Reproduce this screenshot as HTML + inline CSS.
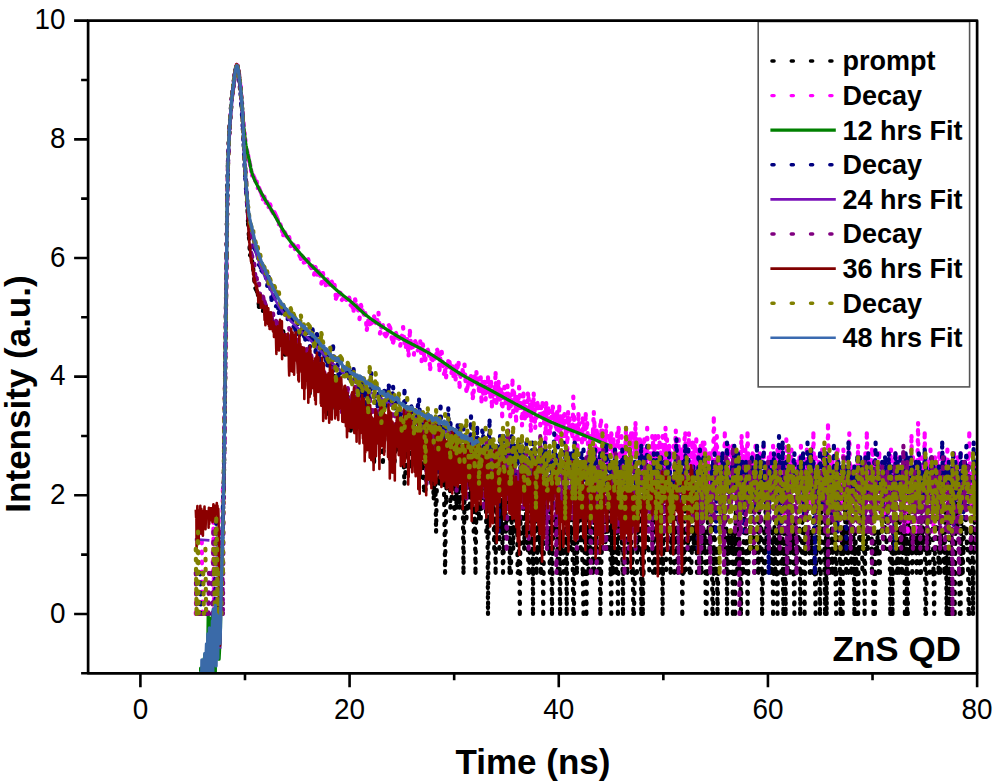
<!DOCTYPE html>
<html><head><meta charset="utf-8"><style>html,body{margin:0;padding:0;background:#fff;}svg{display:block;}</style></head>
<body><svg width="995" height="784" viewBox="0 0 995 784"><defs><clipPath id="pc"><rect x="88.11" y="20.67" width="889.01" height="652.63"/></clipPath></defs><g clip-path="url(#pc)"><path d="M202.4,614M207.5,614M211.2,614M214.1,614M216.3,614l0.8,0m0,0M218.5,614l0.8,0m0,0l0.7,-41.2m0,0l0.7,0m0,0l0.8,-24m0,0l0.7,65.2m0,0l0.7,-95.5m0,0l0.8,-27.9m0,0l0.7,-41.1m0,0l0.7,-75.4m0,0l0.8,-58.2m0,0l0.7,-61.1m0,0l0.7,-58.6m0,0l0.7,-32.4m0,0l0.8,-20.4m0,0l0.7,-15.9m0,0l0.7,-8.7m0,0l0.8,-10.9m0,0l0.7,-8.5m0,0l0.7,-6.1m0,0l0.8,-6.2m0,0l0.7,-6.1m0,0l0.7,-5.7m0,0l0.8,-4.4m0,0l0.7,-2.7m0,0l0.7,-2.5m0,0l0.8,0.1m0,0l0.7,4.4m0,0l0.7,6m0,0l0.8,4.8m0,0l0.7,6.5m0,0l0.7,8.9m0,0l0.8,11.6m0,0l0.8,12m0,0l0.8,16.2m0,0l0.9,22.3m0,0l0.8,12.4m0,0l0.9,12.9m0,0l0.9,16.4m0,0l1,23.3m0,0l0.9,13.7m0,0l1,18m0,0l1.1,-0m0,0l1,5.9m0,0l1.1,7.7m0,0l1.1,11.1m0,0l1.1,8.4m0,0l1.2,2.3m0,0l1.2,2.8m0,0l1.2,13.5m0,0l1.3,-1m0,0l1.3,-2.3m0,0l1.4,7.4m0,0l1.3,-7.1m0,0l1.5,10.8m0,0l1.4,3.2m0,0l1.5,0.4m0,0l1.5,0m0,0l1.4,0.8m0,0l1.5,8.4m0,0l1.4,-5m0,0l1.5,6m0,0l1.5,7.7m0,0l1.4,-2.7m0,0l1.5,4.4m0,0l1.5,7.2m0,0l1.4,-13.7m0,0l1.5,23.3m0,0l1.5,-14.5m0,0l1.4,7.5m0,0l1.5,5.5m0,0l1.5,-15.9m0,0l1.4,13.8m0,0l1.5,9.1m0,0l1.4,-11.9m0,0l1.5,-0.6m0,0l1.5,7.8m0,0l1.4,0m0,0l1.5,9.9m0,0l1.5,-9.9m0,0l1.4,6.4m0,0l1.5,2.6m0,0l1.5,-0.9m0,0l1.4,13.7m0,0l1.5,16.3m0,0l1.5,-30m0,0l1.4,-1.7m0,0l1.5,15.4m0,0l1.4,3.4m0,0l1.5,2.4m0,0l1.5,-4.7m0,0l1.4,-4.3m0,0l1.5,5.4m0,0l1.5,-11.3m0,0l1.4,24m0,0l1.5,-14.9m0,0l1.5,12.2m0,0l1.4,24.7m0,0l1.5,-29.9m0,0l1.5,24m0,0l1.4,-18.8m0,0l1.5,-13.3m0,0l1.4,30.3m0,0l1.5,-21m0,0l1.5,4m0,0l1.4,10.2m0,0l1.5,3.3m0,0l1.5,-6.4m0,0l1.4,11.7m0,0l1.5,-16.1m0,0l1.5,4.4m0,0l1.4,3.1m0,0l1.5,30.9m0,0l1.5,-14.3m0,0l1.4,-6.1m0,0l1.5,4m0,0l1.4,8.8m0,0l1.5,-34.9m0,0l1.5,24.1m0,0l1.4,4.1m0,0l1.5,9.1m0,0l1.5,-15.2m0,0l1.4,6.1m0,0l1.5,11.6m0,0l1.5,-23.1m0,0l1.4,7.4m0,0l1.5,6.2m0,0l1.5,9.5m0,0l1.4,33.9m0,0l1.5,-41.1m0,0l1.4,21.8m0,0l1.5,-17.1m0,0l1.5,10.8m0,0l1.4,-5.6m0,0l1.5,31.2m0,0l1.5,-25.6m0,0l1.4,-15.5m0,0l1.5,-2.3m0,0l1.5,20.9m0,0l1.4,-16.3m0,0l1.5,26.5m0,0l1.4,22.2m0,0l1.5,-9.9m0,0l1.4,-28.5m0,0l1.5,16.2m0,0l1.4,-21.6m0,0l1.4,14.6m0,0l1.4,7m0,0l1.4,-3.6m0,0l1.4,37.7m0,0l1.4,-17.1m0,0l1.3,-13.2m0,0l1.4,-10.8m0,0l1.3,19.3m0,0l1.4,4.7m0,0l1.3,-4.7m0,0l1.3,-25.6m0,0l1.3,9.7m0,0l1.3,11.5m0,0l1.3,-24.1m0,0l1.3,28.5m0,0l1.2,15.6m0,0l1.3,-24.1m0,0l1.3,13.2m0,0l1.2,24.1m0,0l1.2,0m0,0l1.3,-13.2m0,0l1.2,-15.6m0,0l1.2,-4.4m0,0l1.2,14.3m0,0l1.2,11.9m0,0l1.2,-11.9m0,0l1.1,26.8m0,0l1.2,-45.2m0,0l1.2,78.4m0,0l1.1,-69.9m0,0l1.2,-4.4m0,0l1.1,26.2m0,0l1.1,-11.9m0,0l1.1,11.9m0,0l1.2,-11.9m0,0l1.1,11.9m0,0l1.1,89.2m0,0l1,-74.3m0,0l1.1,-32m0,0l1.1,10.9m0,0l1.1,-27.9m0,0l1,58.2m0,0l1.1,-9.2m0,0l1,-14.9m0,0l1.1,-6.2m0,0l1,41.1m0,0l1,-46.8m0,0l1,36m0,0l1,-30.3m0,0l1,13.2m0,0l1,17.1m0,0l1,-9.2m0,0l1,-52.6m0,0l1,31.5m0,0l0.9,95.4m0,0l1,-74.3m0,0l0.9,-21.1m0,0l1,41.1m0,0l0.9,-10.8m0,0l1,-50.3m0,0l0.9,26.2m0,0l0.9,24.1m0,0l0.9,-17.1m0,0l0.9,-33.2m0,0l0.9,33.2m0,0l0.9,41.1m0,0l0.9,-33.2m0,0l0.9,74.3m0,0l0.9,-65.1m0,0l0.8,-24.1m0,0l0.9,0m0,0l0.9,34.9m0,0l0.8,-10.8m0,0l0.9,10.8m0,0l0.8,-10.8m0,0l0.8,0m0,0l0.9,-9.2m0,0l0.8,-14.9m0,0l0.8,14.9m0,0l0.8,-7.9m0,0l0.8,41.1m0,0l0.8,-65.2m0,0l0.8,147.5m0,0l0.8,-95.5m0,0l0.8,-27.9m0,0l0.8,-7m0,0l0.7,34.9m0,0l0.8,-34.9m0,0l0.8,24.1m0,0l0.7,-9.2m0,0l0.8,50.3m0,0l0.7,-30.3m0,0l0.7,54.3m0,0l0.8,-82.2m0,0l0.7,7.9m0,0l0.7,20m0,0l0.8,-10.8m0,0l0.7,41.1m0,0l0.7,-41.1m0,0l0.8,24m0,0l0.7,-48.1m0,0l0.7,48.1m0,0l0.8,41.1m0,0l0.7,-24m0,0l0.7,-41.1m0,0l0.8,-24.1m0,0l0.7,48.1m0,0l0.7,-13.2m0,0l0.8,-27.9m0,0l0.7,17.1m0,0l0.7,0m0,0l0.8,65.1m0,0l0.7,-41.1m0,0l0.7,41.1m0,0l0.8,-65.1m0,0l0.7,24m0,0l0.7,17.1m0,0l0.8,-50.3m0,0l0.7,0m0,0l0.7,20m0,0l0.7,13.2m0,0l0.8,-48.1m0,0l0.7,89.2m0,0l0.7,0m0,0l0.8,-41.1m0,0l0.7,82.3m0,0l0.7,-95.5m0,0l0.8,0m0,0l0.7,-20m0,0l0.7,-21.1m0,0l0.8,54.3m0,0l0.7,17.1m0,0l0.7,-41.1m0,0l0.8,-24.1m0,0l0.7,48.1m0,0l0.7,0m0,0l0.8,17.1m0,0l0.7,24m0,0l0.7,0m0,0l0.8,-41.1m0,0l0.7,-33.2m0,0l0.7,9.2m0,0l0.8,10.8m0,0l0.7,95.5m0,0l0.7,-142.3m0,0l0.8,46.8m0,0l0.7,13.2m0,0l0.7,-13.2m0,0l0.7,54.3m0,0l0.8,-24m0,0l0.7,-50.3m0,0l0.7,50.3m0,0l0.8,-17.1m0,0l0.7,17.1m0,0l0.7,24m0,0l0.8,-24m0,0l0.7,-17.1m0,0l0.7,82.3m0,0l0.8,-82.3m0,0l0.7,-13.2m0,0l0.7,-10.8m0,0l0.8,-9.2m0,0l0.7,33.2m0,0l0.7,-33.2m0,0l0.8,50.3m0,0l0.7,-17.1m0,0l0.7,41.1m0,0l0.8,-65.1m0,0l0.7,41.1m0,0l0.7,65.2m0,0l0.8,-65.2m0,0l0.7,-30.3m0,0l0.7,0m0,0l0.8,13.2m0,0l0.7,-13.2m0,0l0.7,-10.8m0,0l0.7,10.8m0,0l0.8,54.3m0,0l0.7,-74.3m0,0l0.7,50.3m0,0l0.8,65.2m0,0l0.7,-82.3m0,0l0.7,17.1m0,0l0.8,-17.1m0,0l0.7,0m0,0l0.7,41.1m0,0l0.8,-54.3m0,0l0.7,-27.9m0,0l0.7,27.9m0,0l0.8,95.5m0,0l0.7,-95.5m0,0l0.7,30.3m0,0l0.8,0m0,0l0.7,-30.3m0,0l0.7,30.3m0,0l0.8,-30.3m0,0l0.7,13.2m0,0l0.7,17.1m0,0l0.8,65.2m0,0l0.7,0m0,0l0.7,-115.5m0,0l0.7,33.2m0,0l0.8,-24m0,0l0.7,65.1m0,0l0.7,-54.3m0,0l0.8,13.2m0,0l0.7,-33.2m0,0l0.7,20m0,0l0.8,30.3m0,0l0.7,-30.3m0,0l0.7,30.3m0,0l0.8,24m0,0l0.7,41.2m0,0l0.7,-41.2m0,0l0.8,-41.1m0,0l0.7,0m0,0l0.7,82.3m0,0l0.8,-65.2m0,0l0.7,-30.3m0,0l0.7,54.3m0,0l0.8,-54.3m0,0l0.7,30.3m0,0l0.7,-50.3m0,0l0.8,0m0,0l0.7,20m0,0l0.7,54.3m0,0l0.8,-54.3m0,0l0.7,54.3m0,0M595.9,548.8l0.8,-17.1m0,0l0.7,0m0,0l0.7,17.1m0,0l0.8,24m0,0l0.7,-24m0,0l0.7,65.2m0,0l0.8,-41.2m0,0l0.7,-24m0,0l0.7,-30.3m0,0l0.8,-10.8m0,0l0.7,24m0,0l0.7,-41.1m0,0l0.8,58.2m0,0l0.7,-0m0,0l0.7,-0m0,0l0.8,-17.1m0,0l0.7,-24m0,0l0.7,41.1m0,0l0.8,-30.3m0,0l0.7,54.3m0,0l0.7,41.2m0,0l0.8,-106.3m0,0l0.7,65.1m0,0l0.7,-0m0,0l0.8,-74.3m0,0l0.7,20m0,0l0.7,30.3m0,0l0.7,24m0,0l0.8,-41.1m0,0l0.7,82.3m0,0l0.7,-65.2m0,0l0.8,-30.3m0,0l0.7,13.2m0,0l0.7,0m0,0l0.8,0m0,0l0.7,17.1m0,0l0.7,65.2m0,0l0.8,-123.4m0,0l0.7,41.1m0,0M626,518.5l0.7,30.3m0,0l0.7,24m0,0l0.8,-41.1m0,0l0.7,0m0,0l0.7,-13.2m0,0l0.8,-41.1m0,0l0.7,54.3m0,0l0.7,41.1m0,0l0.8,-24m0,0l0.7,65.2m0,0l0.7,0m0,0l0.8,-41.2m0,0l0.7,0m0,0M636.9,572.8l0.8,-54.3m0,0l0.7,30.3m0,0l0.7,-17.1m0,0l0.8,-33.2m0,0l0.7,20m0,0l0.7,95.5m0,0l0.8,-65.2m0,0l0.7,65.2m0,0l0.7,-41.2m0,0l0.8,-24m0,0l0.7,-30.3m0,0l0.7,13.2m0,0l0.8,-24m0,0l0.7,41.1m0,0l0.7,-30.3m0,0l0.8,30.3m0,0l0.7,24m0,0M650.9,518.5l0.7,0m0,0l0.7,13.2m0,0l0.8,41.1m0,0l0.7,-74.3m0,0l0.7,50.3m0,0l0.8,24m0,0l0.7,-24m0,0l0.7,-0m0,0l0.7,-17.1m0,0l0.8,17.1m0,0l0.7,24m0,0l0.7,-0m0,0l0.8,-24m0,0l0.7,-41.1m0,0l0.7,10.8m0,0l0.8,95.5m0,0l0.7,-82.3m0,0l0.7,-33.2m0,0l0.8,20m0,0l0.7,-20m0,0l0.7,74.3m0,0M667.7,548.8l0.7,-30.3m0,0l0.8,30.3m0,0l0.7,0m0,0l0.7,24m0,0l0.8,-41.1m0,0l0.7,17.1m0,0l0.7,-30.3m0,0l0.8,13.2m0,0l0.7,41.1m0,0l0.7,-41.1m0,0M676.5,507.7l0.7,41.1m0,0l0.7,24m0,0l0.8,-54.3m0,0l0.7,-10.8m0,0l0.7,41.1m0,0l0.8,-30.3m0,0l0.7,13.2m0,0l0.7,82.3m0,0l0.8,-65.2m0,0l0.7,24m0,0l0.7,-41.1m0,0l0.8,-33.2m0,0l0.7,74.3m0,0M687.5,531.7l0.7,17.1m0,0l0.7,-30.3m0,0l0.8,54.3m0,0l0.7,-0m0,0l0.7,-0m0,0l0.8,-24m0,0l0.7,-50.3m0,0l0.7,33.2m0,0l0.8,17.1m0,0l0.7,-0m0,0l0.7,-30.3m0,0l0.8,13.2m0,0l0.7,41.1m0,0M698.4,572.8l0.8,-54.3m0,0l0.7,30.3m0,0l0.7,-41.1m0,0l0.8,65.1m0,0l0.7,-54.3m0,0l0.7,0m0,0l0.8,13.2m0,0l0.7,17.1m0,0l0.7,-17.1m0,0l0.8,82.3m0,0l0.7,0m0,0l0.7,-41.2m0,0l0.8,-65.1m0,0l0.7,24m0,0l0.7,17.1m0,0l0.8,-30.3m0,0l0.7,30.3m0,0l0.7,-50.3m0,0l0.8,115.5m0,0l0.7,0m0,0l0.7,-65.2m0,0l0.8,-30.3m0,0l0.7,54.3m0,0l0.7,0m0,0l0.8,-24m0,0l0.7,65.2m0,0l0.7,-41.2m0,0l0.7,-24m0,0l0.8,0m0,0l0.7,-50.3m0,0l0.7,33.2m0,0l0.8,-24m0,0l0.7,10.8m0,0l0.7,0m0,0l0.8,30.3m0,0l0.7,-17.1m0,0l0.7,-24m0,0l0.8,10.8m0,0l0.7,95.5m0,0l0.7,-65.2m0,0l0.8,-17.1m0,0l0.7,41.1m0,0M730.7,531.7l0.7,17.1m0,0l0.7,-17.1m0,0l0.8,82.3m0,0l0.7,-65.2m0,0l0.7,-17.1m0,0l0.8,82.3m0,0l0.7,-106.3m0,0l0.7,-9.2m0,0l0.8,74.3m0,0l0.7,-41.1m0,0l0.7,-33.2m0,0l0.7,74.3m0,0l0.8,-24m0,0l0.7,65.2m0,0l0.7,-41.2m0,0l0.8,-24m0,0l0.7,24m0,0l0.7,-41.1m0,0l0.8,-13.2m0,0l0.7,13.2m0,0l0.7,41.1m0,0l0.8,-41.1m0,0l0.7,82.3m0,0l0.7,-41.2m0,0l0.8,-24m0,0l0.7,0m0,0l0.7,-30.3m0,0l0.8,13.2m0,0l0.7,-24m0,0l0.7,41.1m0,0l0.8,-17.1m0,0M754.8,572.8l0.8,-24m0,0l0.7,0m0,0l0.7,-17.1m0,0l0.8,-13.2m0,0l0.7,54.3m0,0l0.7,-65.1m0,0l0.7,41.1m0,0l0.8,-30.3m0,0l0.7,0m0,0l0.7,95.5m0,0l0.8,-41.2m0,0l0.7,0m0,0l0.7,-41.1m0,0l0.8,41.1m0,0l0.7,-95.4m0,0l0.7,71.4m0,0l0.8,-17.1m0,0l0.7,-33.2m0,0l0.7,50.3m0,0l0.8,-30.3m0,0l0.7,54.3m0,0l0.7,-24m0,0l0.8,24m0,0l0.7,-41.1m0,0l0.7,82.3m0,0l0.8,-65.2m0,0l0.7,-30.3m0,0l0.7,54.3m0,0l0.8,-41.1m0,0l0.7,41.1m0,0l0.7,41.2m0,0l0.7,-115.5m0,0l0.8,50.3m0,0l0.7,-30.3m0,0l0.7,13.2m0,0l0.8,41.1m0,0l0.7,-74.3m0,0l0.7,50.3m0,0l0.8,65.2m0,0l0.7,-82.3m0,0l0.7,17.1m0,0l0.8,65.2m0,0l0.7,-82.3m0,0l0.7,-24m0,0l0.8,65.1m0,0l0.7,-54.3m0,0M790,572.8l0.7,-82.2m0,0l0.7,41.1m0,0l0.8,17.1m0,0l0.7,-17.1m0,0l0.7,41.1m0,0l0.8,41.2m0,0l0.7,-95.5m0,0l0.7,0m0,0l0.8,54.3m0,0l0.7,-24m0,0l0.7,0m0,0l0.7,-17.1m0,0l0.8,-13.2m0,0l0.7,95.5m0,0l0.7,-41.2m0,0l0.8,0m0,0l0.7,-54.3m0,0l0.7,-20m0,0l0.8,33.2m0,0l0.7,82.3m0,0l0.7,-65.2m0,0l0.8,-58.2m0,0l0.7,27.9m0,0l0.7,-10.8m0,0l0.8,41.1m0,0l0.7,-17.1m0,0l0.7,41.1m0,0l0.8,0m0,0l0.7,-24m0,0l0.7,-17.1m0,0l0.8,41.1m0,0l0.7,-74.3m0,0l0.7,50.3m0,0l0.8,24m0,0l0.7,41.2m0,0l0.7,-65.2m0,0l0.8,-30.3m0,0l0.7,13.2m0,0l0.7,-13.2m0,0l0.7,30.3m0,0l0.8,65.2m0,0l0.7,-41.2m0,0l0.7,-74.3m0,0l0.8,33.2m0,0l0.7,-13.2m0,0l0.7,13.2m0,0l0.8,17.1m0,0l0.7,65.2m0,0l0.7,-106.3m0,0l0.8,106.3m0,0l0.7,-65.2m0,0l0.7,-17.1m0,0l0.8,17.1m0,0l0.7,24m0,0l0.7,0m0,0l0.8,-65.1m0,0l0.7,10.8m0,0l0.7,54.3m0,0l0.8,-41.1m0,0l0.7,-33.2m0,0l0.7,20m0,0l0.8,54.3m0,0l0.7,41.2m0,0l0.7,-65.2m0,0l0.8,-30.3m0,0l0.7,30.3m0,0M839.7,548.8l0.8,65.2m0,0l0.7,-65.2m0,0l0.7,-17.1m0,0l0.8,82.3m0,0l0.7,-82.3m0,0l0.7,17.1m0,0l0.8,-58.2m0,0l0.7,58.2m0,0l0.7,24m0,0l0.8,-54.3m0,0l0.7,13.2m0,0l0.7,41.1m0,0l0.8,-54.3m0,0l0.7,30.3m0,0l0.7,-30.3m0,0l0.8,54.3m0,0l0.7,-24m0,0l0.7,-41.1m0,0l0.8,41.1m0,0l0.7,65.2m0,0l0.7,-82.3m0,0l0.8,17.1m0,0l0.7,24m0,0l0.7,41.2m0,0l0.8,-0m0,0l0.7,-65.2m0,0l0.7,-17.1m0,0l0.7,-13.2m0,0l0.8,30.3m0,0l0.7,-41.1m0,0l0.7,65.1m0,0M863.9,490.6l0.7,123.4m0,0l0.8,-82.3m0,0l0.7,17.1m0,0l0.7,-0m0,0l0.8,-0m0,0l0.7,-17.1m0,0l0.7,-13.2m0,0l0.8,13.2m0,0l0.7,-13.2m0,0l0.7,-20m0,0l0.8,74.3m0,0l0.7,-41.1m0,0l0.7,82.3m0,0l0.8,-82.3m0,0l0.7,82.3m0,0l0.7,-65.2m0,0l0.8,0m0,0l0.7,0m0,0l0.7,-17.1m0,0l0.8,41.1m0,0l0.7,-41.1m0,0l0.7,41.1m0,0M881.5,531.7l0.7,-24m0,0l0.7,-0m0,0l0.8,41.1m0,0l0.7,-0m0,0l0.7,-30.3m0,0l0.8,-27.9m0,0l0.7,58.2m0,0l0.7,-0m0,0M888.8,531.7l0.7,-13.2m0,0l0.8,95.5m0,0l0.7,-41.2m0,0l0.7,-24m0,0l0.8,65.2m0,0l0.7,-82.3m0,0l0.7,17.1m0,0l0.8,-41.1m0,0l0.7,24m0,0l0.7,41.1m0,0l0.8,-54.3m0,0l0.7,54.3m0,0l0.7,-24m0,0l0.8,24m0,0l0.7,-54.3m0,0l0.7,-10.8m0,0l0.7,41.1m0,0l0.8,24m0,0l0.7,-41.1m0,0l0.7,17.1m0,0l0.8,-17.1m0,0l0.7,82.3m0,0l0.7,0m0,0l0.8,-95.5m0,0l0.7,95.5m0,0l0.7,0m0,0l0.8,-106.3m0,0l0.7,24m0,0l0.7,17.1m0,0l0.8,-0m0,0l0.7,-17.1m0,0l0.7,41.1m0,0l0.8,-24m0,0l0.7,-0m0,0l0.7,-41.1m0,0M915.9,531.7l0.7,41.1m0,0l0.8,-24m0,0l0.7,-30.3m0,0l0.7,13.2m0,0l0.8,41.1m0,0l0.7,-0m0,0l0.7,-0m0,0l0.7,-95.4m0,0l0.8,54.3m0,0l0.7,17.1m0,0l0.7,-17.1m0,0l0.8,-13.2m0,0l0.7,95.5m0,0l0.7,-0m0,0l0.8,-65.2m0,0l0.7,-30.3m0,0l0.7,30.3m0,0l0.8,-17.1m0,0l0.7,41.1m0,0M931.3,518.5l0.7,-20m0,0l0.7,20m0,0l0.8,54.3m0,0l0.7,41.2m0,0l0.7,-65.2m0,0l0.8,0m0,0l0.7,-50.3m0,0M937.9,507.7l0.7,65.1m0,0l0.7,-24m0,0l0.8,24m0,0l0.7,-24m0,0l0.7,-17.1m0,0l0.7,0m0,0l0.8,17.1m0,0l0.7,0m0,0l0.7,24m0,0l0.8,-65.1m0,0l0.7,0m0,0l0.7,106.3m0,0l0.8,-65.2m0,0l0.7,-17.1m0,0l0.7,-13.2m0,0l0.8,95.5m0,0l0.7,0m0,0l0.7,-65.2m0,0l0.8,-17.1m0,0l0.7,41.1m0,0l0.7,0m0,0l0.8,-41.1m0,0l0.7,82.3m0,0l0.7,-82.3m0,0l0.8,-13.2m0,0l0.7,-34.9m0,0l0.7,48.1m0,0l0.8,-13.2m0,0l0.7,54.3m0,0l0.7,41.2m0,0l0.8,0m0,0l0.7,-95.5m0,0l0.7,30.3m0,0l0.7,24m0,0l0.8,-24m0,0l0.7,-41.1m0,0l0.7,-9.2m0,0l0.8,20m0,0l0.7,13.2m0,0l0.7,17.1m0,0l0.8,0m0,0l0.7,65.2m0,0l0.7,0m0,0l0.8,-41.2m0,0l0.7,-41.1m0,0l0.7,17.1m0,0l0.8,-41.1m0,0l0.7,106.3m0,0l0.7,-41.2m0,0l0.8,-54.3m0,0l0.7,13.2m0,0l0.7,17.1m0,0" fill="none" stroke="#000000" stroke-width="4.2" stroke-dasharray="1.6 8.4" stroke-linecap="round" stroke-linejoin="round"/><path d="M195.8,614l0.8,-41.2m0,0M198.8,614M200.2,614M201.7,531.7l0.7,82.3m0,0M203.9,614M205.4,614l0.7,0m0,0M208.3,572.8M209.7,614M211.9,572.8l0.8,0m0,0l0.7,-54.3m0,0l0.7,95.5m0,0M215.6,548.8l0.7,24m0,0l0.8,0m0,0l0.7,-41.1m0,0l0.7,82.3m0,0M220.7,614M222.2,531.7l0.7,-41.1m0,0l0.8,-7m0,0l0.7,-44.3m0,0l0.7,-64.2m0,0l0.8,-60.7m0,0l0.7,-60.1m0,0l0.7,-55.3m0,0l0.7,-35.3m0,0l0.8,-18.9m0,0l0.7,-15.4m0,0l0.7,-13.2m0,0l0.8,-8.9m0,0l0.7,-7.8m0,0l0.7,-7m0,0l0.8,-5.4m0,0l0.7,-5.1m0,0l0.7,-6.5m0,0l0.8,-3.5m0,0l0.7,-4.6m0,0l0.7,-2.5m0,0l0.8,1.4m0,0l0.7,4m0,0l0.7,5.6m0,0l0.8,5.9m0,0l0.7,3.7m0,0l0.7,9.2m0,0l0.8,7.7m0,0l0.8,10.3m0,0l0.8,11.4m0,0l0.9,8.5m0,0l0.8,6.6m0,0l0.9,9.7m0,0l0.9,1.9m0,0l1,4.4m0,0l0.9,5.1m0,0l1,4m0,0l1.1,5.7m0,0l1,5.5m0,0l1.1,-0.1m0,0l1.1,2.4m0,0l1.1,3.2m0,0l1.2,0.5m0,0l1.2,6.5m0,0l1.2,-0.1m0,0l1.3,3.1m0,0l1.3,3.1m0,0l1.4,5.3m0,0l1.3,-2.8m0,0l1.5,6.3m0,0l1.4,-1m0,0l1.5,5.2m0,0l1.5,-2.7m0,0l1.4,6m0,0l1.5,2.7m0,0l1.4,-0.6m0,0l1.5,3.1m0,0l1.5,3.4m0,0l1.4,5.3m0,0l1.5,0.2m0,0l1.5,5.6m0,0l1.4,5m0,0l1.5,-2.7m0,0l1.5,3.5m0,0l1.4,1.4m0,0l1.5,-0.1m0,0l1.5,8.9m0,0l1.4,-1.9m0,0l1.5,0.8m0,0l1.4,4.1m0,0l1.5,-1m0,0l1.5,-2m0,0l1.4,9.4m0,0l1.5,3.4m0,0l1.5,-2.2m0,0l1.4,5.8m0,0l1.5,-0.5m0,0l1.5,-1.5m0,0l1.4,-1.3m0,0l1.5,6.4m0,0l1.5,2.4m0,0l1.4,-1.8m0,0l1.5,8.4m0,0l1.4,-7.5m0,0l1.5,7.5m0,0l1.5,-3.4m0,0l1.4,3m0,0l1.5,9.4m0,0l1.5,-10.6m0,0l1.4,7.5m0,0l1.5,4.7m0,0l1.5,-5.8m0,0l1.4,5.1m0,0l1.5,0.2m0,0l1.5,-3.1m0,0l1.4,3.8m0,0l1.5,-0.4m0,0l1.4,13.7m0,0l1.5,-3.4m0,0l1.5,-2.7m0,0l1.4,0.3m0,0l1.5,7m0,0l1.5,-1.7m0,0l1.4,0.2m0,0l1.5,1.5m0,0l1.5,-0.9m0,0l1.4,-1.4m0,0l1.5,7.6m0,0l1.5,1m0,0l1.4,4.5m0,0l1.5,-11.4m0,0l1.4,5.9m0,0l1.5,3.7m0,0l1.5,10.2m0,0l1.4,-14.2m0,0l1.5,5.4m0,0l1.5,4.1m0,0l1.4,-1.2m0,0l1.5,16.7m0,0l1.5,-9.5m0,0l1.4,3.9m0,0l1.5,-0.9m0,0l1.5,-1.3m0,0l1.4,-5.8m0,0l1.5,6.6m0,0l1.4,-1.3m0,0l1.5,-8.7m0,0l1.5,20.6m0,0l1.4,-6m0,0l1.5,-2.3m0,0l1.5,8.8m0,0l1.4,2.2m0,0l1.5,-2.2m0,0l1.5,-8.8m0,0l1.4,2.3m0,0l1.5,10.9m0,0l1.4,4.2m0,0l1.5,-4.7m0,0l1.4,-4.9m0,0l1.5,4.9m0,0l1.4,-0.6m0,0l1.4,8.4m0,0l1.4,-8.4m0,0l1.4,-10.3m0,0l1.4,14.9m0,0l1.4,5.1m0,0l1.3,-8m0,0l1.4,16.5m0,0l1.3,-24.6m0,0l1.4,16.8m0,0l1.3,-2m0,0l1.3,9m0,0l1.3,-13.4m0,0l1.3,3.1m0,0l1.3,6m0,0l1.3,-1.4m0,0l1.2,-7.7m0,0l1.3,19.8m0,0l1.3,-16.7m0,0l1.2,11.1m0,0l1.2,4.7m0,0l1.3,-9.1m0,0l1.2,-1.4m0,0l1.2,4.3m0,0l1.2,15.1m0,0l1.2,-10.5m0,0l1.2,1.6m0,0l1.1,-3.2m0,0l1.2,1.6m0,0l1.2,-3.1m0,0l1.1,-5.8m0,0l1.2,5m0,0l1.1,15.4m0,0l1.1,-16.1m0,0l1.1,-2.2m0,0l1.2,12.7m0,0l1.1,9.6m0,0l1.1,-4m0,0l1,7.2m0,0l1.1,-11.9m0,0l1.1,-4.3m0,0l1.1,0.8m0,0l1,4.4m0,0l1.1,6.8m0,0l1,-6.8m0,0l1.1,9.9m0,0l1,-2.1m0,0l1,5.4m0,0l1,-14.1m0,0l1,1.8m0,0l1,-4.4m0,0l1,24m0,0l1,-10.6m0,0l1,-1.1m0,0l1,-5m0,0l0.9,5m0,0l1,-10.6m0,0l0.9,15m0,0l1,11.3m0,0l0.9,-2.7m0,0l1,-3.8m0,0l0.9,-1.2m0,0l0.9,-5.8m0,0l0.9,-1.1m0,0l0.9,6.9m0,0l0.9,15.1m0,0l0.9,-6m0,0l0.9,-16m0,0l0.9,4.5m0,0l0.9,-8.7m0,0l0.8,12.3m0,0l0.9,-5.9m0,0l0.9,12.4m0,0l0.8,-2.7m0,0l0.9,-10.8m0,0l0.8,24.1m0,0l0.8,-19.5m0,0l0.9,11.7m0,0l0.8,-5.5m0,0l0.8,-6.2m0,0l0.8,17.8m0,0l0.8,-12.9m0,0l0.8,5.4m0,0l0.8,-14.9m0,0l0.8,14.9m0,0l0.8,-7.9m0,0l0.8,12.3m0,0l0.7,-14.7m0,0l0.8,24.6m0,0l0.8,-15.7m0,0l0.7,1.4m0,0l0.8,9.2m0,0l0.7,-13.3m0,0l0.7,-15m0,0l0.8,29.9m0,0l0.7,-19.9m0,0l0.7,15.1m0,0l0.8,-16.3m0,0l0.7,13.2m0,0l0.7,4.6m0,0l0.8,-10.2m0,0l0.7,4.1m0,0l0.7,22.7m0,0l0.8,-22.7m0,0l0.7,4.6m0,0l0.7,-11.4m0,0l0.8,16.2m0,0l0.7,-1.6m0,0l0.7,-6.3m0,0l0.8,-9.6m0,0l0.7,8.1m0,0l0.7,14.7m0,0l0.8,-13.2m0,0l0.7,21.2m0,0l0.7,-16.6m0,0l0.8,5.1m0,0l0.7,-24.1m0,0l0.7,31.5m0,0l0.8,-20m0,0l0.7,7.5m0,0l0.7,-3.1m0,0l0.7,24.1m0,0l0.8,-14.2m0,0l0.7,-6.8m0,0l0.7,8.6m0,0l0.8,-21.5m0,0l0.7,8.3m0,0l0.7,7.9m0,0l0.8,3.5m0,0l0.7,18.9m0,0l0.7,-18.9m0,0l0.8,-12.9m0,0l0.7,7.8m0,0l0.7,17m0,0l0.8,-11.9m0,0l0.7,9.8m0,0l0.7,-4.1m0,0l0.8,-18.6m0,0l0.7,4.6m0,0l0.7,10.1m0,0l0.8,-3.5m0,0l0.7,25.8m0,0l0.7,-12.2m0,0l0.8,-17m0,0l0.7,19.3m0,0l0.7,-27.1m0,0l0.8,16.6m0,0l0.7,17.7m0,0l0.7,-9.5m0,0l0.7,-10.1m0,0l0.8,-5.3m0,0l0.7,3.5m0,0l0.7,9.8m0,0l0.8,-2.1m0,0l0.7,11.2m0,0l0.7,-18.9m0,0l0.8,9.8m0,0l0.7,-13.3m0,0l0.7,13.3m0,0l0.8,6.7m0,0l0.7,-10.8m0,0l0.7,37.3m0,0l0.8,-46.5m0,0l0.7,20m0,0l0.7,10.3m0,0l0.8,-25m0,0l0.7,12.4m0,0l0.7,12.6m0,0l0.8,-5.4m0,0l0.7,-9.5m0,0l0.7,-6.2m0,0l0.8,-5.7m0,0l0.7,7.7m0,0l0.7,8.8m0,0l0.8,-4.6m0,0l0.7,7m0,0l0.7,13.9m0,0l0.7,-27.1m0,0l0.8,10.8m0,0l0.7,7.6m0,0l0.7,-24.1m0,0l0.8,36m0,0l0.7,-26.2m0,0l0.7,4.4m0,0l0.8,-4.4m0,0l0.7,19.9m0,0l0.7,-13.2m0,0l0.8,-8.8m0,0l0.7,6.5m0,0l0.7,15.5m0,0l0.8,-5.6m0,0l0.7,18.9m0,0l0.7,-37.3m0,0l0.8,18.4m0,0l0.7,-12.2m0,0l0.7,7m0,0l0.8,2.5m0,0l0.7,5.4m0,0l0.7,2.9m0,0l0.8,-39.6m0,0l0.7,21.8m0,0l0.7,24.1m0,0l0.7,7m0,0l0.8,-24.1m0,0l0.7,-0m0,0l0.7,24.1m0,0l0.8,-35.3m0,0l0.7,8.8m0,0l0.7,10.3m0,0l0.8,-2.7m0,0l0.7,8.7m0,0l0.7,3.2m0,0l0.8,-24.1m0,0l0.7,20.9m0,0l0.7,-13.9m0,0l0.8,13.9m0,0l0.7,-25.1m0,0l0.7,13.7m0,0l0.8,-4.9m0,0l0.7,19.5m0,0l0.7,19.3m0,0l0.8,-12.3m0,0l0.7,-10.2m0,0l0.7,-3.1m0,0l0.8,6.3m0,0l0.7,10.8m0,0l0.7,-22.7m0,0l0.8,-18.4m0,0l0.7,13.2m0,0l0.7,36.4m0,0l0.7,-12.3m0,0l0.8,-18.9m0,0l0.7,5.6m0,0l0.7,3.1m0,0l0.8,22.5m0,0l0.7,-25.6m0,0l0.7,-10.8m0,0l0.8,-4.7m0,0l0.7,36.7m0,0l0.7,-26.8m0,0l0.8,15.3m0,0l0.7,3.6m0,0l0.7,-10.2m0,0l0.8,3.2m0,0l0.7,-17.1m0,0l0.7,27.9m0,0l0.8,13.2m0,0l0.7,-30.3m0,0l0.7,13.3m0,0l0.8,-10.2m0,0l0.7,6.6m0,0l0.7,-12.6m0,0l0.8,6m0,0l0.7,14m0,0l0.7,-14m0,0l0.8,14m0,0l0.7,-7.4m0,0l0.7,15.9m0,0l0.7,4.7m0,0l0.8,-33.2m0,0l0.7,9.2m0,0l0.7,-14.6m0,0l0.8,8.3m0,0l0.7,17.1m0,0l0.7,4.1m0,0l0.8,-21.2m0,0l0.7,41.2m0,0l0.7,-27.9m0,0l0.8,12.3m0,0l0.7,-15.9m0,0l0.7,7.4m0,0l0.8,-25.4m0,0l0.7,18m0,0l0.7,-9.7m0,0l0.8,3.1m0,0l0.7,22.5m0,0l0.7,15.6m0,0l0.8,-27.9m0,0l0.7,-16.2m0,0l0.7,33.2m0,0l0.8,-33.2m0,0l0.7,9.2m0,0l0.7,10.8m0,0l0.8,-3.8m0,0l0.7,-26.5m0,0l0.7,43.5m0,0l0.7,-9.1m0,0l0.8,-18.1m0,0l0.7,14m0,0l0.7,-7.4m0,0l0.8,-6.6m0,0l0.7,22.5m0,0l0.7,-12.3m0,0l0.8,34.1m0,0l0.7,-41.1m0,0l0.7,19.3m0,0l0.8,-22.5m0,0l0.7,18.1m0,0l0.7,14.3m0,0l0.8,-22.2m0,0l0.7,-21.6m0,0l0.7,49.5m0,0l0.8,-31.5m0,0l0.7,7.4m0,0l0.7,-0m0,0l0.8,18.4m0,0l0.7,-14.3m0,0l0.7,-21.2m0,0l0.8,6.3m0,0l0.7,56m0,0l0.7,-49m0,0l0.8,-13.3m0,0l0.7,17.1m0,0l0.7,13.2m0,0l0.7,10.9m0,0l0.8,-41.2m0,0l0.7,41.2m0,0l0.7,-34.9m0,0l0.8,10.8m0,0l0.7,4.1m0,0l0.7,9.1m0,0l0.8,-30.3m0,0l0.7,21.2m0,0l0.7,-7.9m0,0l0.8,17m0,0l0.7,-38.6m0,0l0.7,21.6m0,0l0.8,-10.2m0,0l0.7,22.5m0,0l0.7,9.9m0,0l0.8,-25.8m0,0l0.7,44.7m0,0l0.7,-33.2m0,0l0.8,-4.1m0,0l0.7,4.1m0,0l0.7,-0m0,0l0.8,-11.5m0,0l0.7,20.6m0,0l0.7,-17m0,0l0.8,-18.9m0,0l0.7,46.8m0,0l0.7,-24.1m0,0l0.7,54.4m0,0l0.8,-68.4m0,0l0.7,32.4m0,0l0.7,-14.3m0,0l0.8,-4.1m0,0l0.7,-3.8m0,0l0.7,12.3m0,0l0.8,9.9m0,0l0.7,-14.3m0,0l0.7,-18.1m0,0l0.8,-6m0,0l0.7,57.3m0,0l0.7,-44.7m0,0l0.8,31.5m0,0l0.7,-5.7m0,0l0.7,-38.4m0,0l0.8,28.5m0,0l0.7,21.8m0,0l0.7,-30.3m0,0l0.8,4.1m0,0l0.7,-14.9m0,0l0.7,24m0,0l0.8,-4.7m0,0l0.7,-15.9m0,0l0.7,25.8m0,0l0.8,-32.4m0,0l0.7,18.1m0,0l0.7,4.4m0,0l0.7,21.8m0,0l0.8,-30.3m0,0l0.7,65.2m0,0l0.7,-72.6m0,0l0.8,15.9m0,0l0.7,4.7m0,0l0.7,-24m0,0l0.8,48.1m0,0l0.7,-48.1m0,0l0.7,7m0,0l0.8,3.8m0,0l0.7,24.1m0,0l0.7,-5.7m0,0l0.8,-9.9m0,0l0.7,45.9m0,0l0.7,-54.4m0,0l0.8,-0m0,0l0.7,4.1m0,0l0.7,26.2m0,0l0.8,-17.1m0,0l0.7,-4.7m0,0l0.7,-43.4m0,0l0.8,31.1m0,0l0.7,22.2m0,0l0.7,-25.8m0,0l0.8,-9.7m0,0l0.7,35.5m0,0l0.7,-0m0,0l0.7,-18.4m0,0l0.8,13.2m0,0l0.7,-9.1m0,0l0.7,26.2m0,0l0.8,-21.8m0,0l0.7,36.7m0,0l0.7,-26.8m0,0l0.8,-5.2m0,0l0.7,-33.2m0,0l0.7,24.1m0,0l0.8,26.2m0,0l0.7,-21.8m0,0l0.7,9.9m0,0l0.8,-25.8m0,0l0.7,7.4m0,0l0.7,37.3m0,0l0.8,-24.1m0,0l0.7,10.9m0,0l0.7,-24.1m0,0l0.8,-7.4m0,0l0.7,15.9m0,0l0.7,28.8m0,0l0.8,-18.9m0,0l0.7,26.8m0,0l0.7,-45.2m0,0l0.8,8.5m0,0l0.7,21.8m0,0l0.7,-21.8m0,0l0.7,21.8m0,0l0.8,-21.8m0,0l0.7,-8.5m0,0l0.7,-17.1m0,0l0.8,30.3m0,0l0.7,41.2m0,0l0.7,-58.2m0,0l0.8,22.2m0,0l0.7,-22.2m0,0l0.7,27.9m0,0l0.8,-10.9m0,0l0.7,-33.2m0,0l0.7,24.1m0,0l0.8,20m0,0l0.7,21.1m0,0l0.7,-32m0,0l0.8,-4.7m0,0l0.7,28.8m0,0l0.7,-37.3m0,0l0.8,24.1m0,0l0.7,-10.9m0,0l0.7,-9.1m0,0l0.8,-11.5m0,0l0.7,31.5m0,0l0.7,-15.6m0,0l0.8,36.7m0,0l0.7,-7.9m0,0l0.7,-18.9m0,0l0.7,-18.4m0,0l0.8,54.4m0,0l0.7,-24.1m0,0l0.7,-17.1m0,0l0.8,-9.1m0,0l0.7,-11.5m0,0l0.7,31.5m0,0l0.8,-5.7m0,0l0.7,18.9m0,0l0.7,-24.1m0,0l0.8,5.2m0,0l0.7,-0m0,0l0.7,-14.3m0,0l0.8,26.2m0,0l0.7,14.9m0,0l0.7,-45.2m0,0l0.8,37.3m0,0l0.7,-24.1m0,0l0.7,-20.6m0,0l0.8,31.5m0,0l0.7,-20m0,0l0.7,26.2m0,0l0.8,24.1m0,0l0.7,-41.2m0,0l0.7,-17m0,0l0.7,27.9m0,0l0.8,-5.7m0,0l0.7,-22.2m0,0l0.7,34.1m0,0l0.8,-21.8m0,0l0.7,15.6m0,0l0.7,-10.9m0,0l0.8,5.2m0,0l0.7,46.8m0,0l0.7,-61.1m0,0l0.8,41.1m0,0l0.7,-59.2m0,0l0.7,22.5m0,0l0.8,4.7m0,0l0.7,17.1m0,0l0.7,-30.3m0,0l0.8,45.2m0,0l0.7,-0m0,0l0.7,-49m0,0l0.8,27.9m0,0l0.7,6.2m0,0l0.7,-21.8m0,0l0.8,-0m0,0l0.7,9.9m0,0l0.7,5.7m0,0l0.8,-15.6m0,0l0.7,0m0,0l0.7,36.7m0,0l0.7,-26.8m0,0l0.8,-14.3m0,0l0.7,50.3m0,0l0.7,-61.8m0,0l0.8,37.7m0,0l0.7,-6.2m0,0l0.7,-10.9m0,0l0.8,0m0,0l0.7,10.9m0,0l0.7,-15.6m0,0l0.8,28.8m0,0l0.7,-41.1m0,0l0.7,22.2m0,0l0.8,0m0,0l0.7,36m0,0l0.7,-50.3m0,0l0.8,41.1m0,0l0.7,-26.8m0,0l0.7,-18.4m0,0l0.8,24.1m0,0l0.7,-44.1m0,0l0.7,38.4m0,0l0.8,36m0,0l0.7,-50.3m0,0l0.7,9.1m0,0l0.8,17.1m0,0l0.7,14.9m0,0l0.7,-36.7m0,0l0.7,9.9m0,0l0.8,5.7m0,0l0.7,6.2m0,0l0.7,-6.2m0,0l0.8,-27.9m0,0l0.7,12.3m0,0l0.7,45.9m0,0l0.8,-17.1m0,0l0.7,-33.2m0,0l0.7,26.2m0,0l0.8,0m0,0l0.7,14.9m0,0l0.7,-73.1m0,0l0.8,52m0,0l0.7,21.1m0,0l0.7,-32m0,0l0.8,-9.1m0,0l0.7,14.3m0,0l0.7,-9.9m0,0l0.8,21.8m0,0l0.7,14.9m0,0l0.7,-32m0,0l0.8,41.2m0,0l0.7,-54.4m0,0l0.7,8.5m0,0l0.8,-12.3m0,0l0.7,22.2m0,0l0.7,5.7m0,0l0.7,0m0,0l0.8,-5.7m0,0l0.7,36m0,0l0.7,-9.2m0,0l0.8,-21.1m0,0l0.7,-27.9m0,0l0.7,17m0,0l0.8,0m0,0l0.7,24.1m0,0l0.7,-33.2m0,0l0.8,20m0,0l0.7,21.1m0,0l0.7,-45.2m0,0l0.8,-20m0,0l0.7,44.1m0,0l0.7,0m0,0l0.8,30.3m0,0l0.7,-41.2m0,0l0.7,24.1m0,0l0.8,-18.9m0,0l0.7,-5.2m0,0l0.7,10.9m0,0l0.8,-10.9m0,0l0.7,5.2m0,0l0.7,11.9m0,0l0.8,-37.7m0,0l0.7,52.6m0,0l0.7,-36.7m0,0l0.7,-0m0,0l0.8,28.8m0,0l0.7,17.1m0,0l0.7,-24.1m0,0l0.8,-6.2m0,0l0.7,-10.9m0,0l0.7,32m0,0l0.8,-45.2m0,0l0.7,54.4m0,0l0.7,-74.4m0,0l0.8,28.5m0,0l0.7,21.8m0,0l0.7,-11.9m0,0l0.8,18.9m0,0l0.7,-13.2m0,0l0.7,-15.6m0,0l0.8,-12.3m0,0l0.7,3.8m0,0l0.7,13.2m0,0l0.8,41.2m0,0l0.7,-36m0,0l0.7,5.7m0,0l0.8,13.2m0,0l0.7,-24.1m0,0l0.7,-4.7m0,0l0.8,15.6m0,0l0.7,-24.1m0,0l0.7,37.3m0,0l0.7,-18.9m0,0l0.8,5.7m0,0l0.7,-5.7m0,0l0.7,36m0,0l0.8,-9.2m0,0l0.7,-14.9m0,0l0.7,-11.9m0,0l0.8,46.8m0,0l0.7,-27.9m0,0l0.7,-13.2m0,0l0.8,21.1m0,0l0.7,-36.7m0,0l0.7,9.9m0,0l0.8,-14.3m0,0l0.7,-7.9m0,0l0.7,58.2m0,0l0.8,-30.3m0,0l0.7,-10.9m0,0l0.7,17.1m0,0l0.8,-26.2m0,0l0.7,-4.1m0,0l0.7,13.2m0,0l0.8,32m0,0l0.7,-7.9m0,0l0.7,-13.2m0,0l0.8,-20m0,0l0.7,9.1m0,0l0.7,24.1m0,0l0.7,-7m0,0l0.8,-0m0,0l0.7,-17.1m0,0l0.7,-13.2m0,0l0.8,78.4m0,0l0.7,-60m0,0l0.7,5.7m0,0l0.8,6.2m0,0l0.7,14.9m0,0l0.7,33.2m0,0l0.8,-69.9m0,0l0.7,15.6m0,0l0.7,-10.9m0,0l0.8,5.2m0,0l0.7,-35.5m0,0l0.7,54.4m0,0l0.8,-33.2m0,0l0.7,33.2m0,0l0.7,-24.1m0,0l0.8,10.9m0,0l0.7,54.3m0,0l0.7,-48.1m0,0l0.8,-21.8m0,0l0.7,-38.8m0,0l0.7,75.5m0,0l0.8,-21.1m0,0l0.7,-20m0,0l0.7,50.3m0,0l0.7,-41.2m0,0l0.8,-9.1m0,0l0.7,33.2m0,0l0.7,-13.2m0,0l0.8,-44.1m0,0l0.7,57.3m0,0l0.7,-7m0,0l0.8,-11.9m0,0l0.7,-9.9m0,0l0.7,4.7m0,0l0.8,10.9m0,0l0.7,13.2m0,0l0.7,-41.1m0,0l0.8,58.2m0,0l0.7,-36m0,0l0.7,11.9m0,0l0.8,48.1m0,0l0.7,-54.3m0,0l0.7,-20m0,0l0.8,33.2m0,0l0.7,7.9m0,0l0.7,-36.7m0,0l0.8,21.8m0,0l0.7,-6.2m0,0l0.7,-24.1m0,0l0.8,4.1m0,0l0.7,50.3m0,0l0.7,-36m0,0l0.7,-0m0,0l0.8,-0m0,0l0.7,26.8m0,0l0.7,-41.1m0,0l0.8,4.4m0,0l0.7,28.8m0,0l0.7,-18.9m0,0l0.8,-22.2m0,0l0.7,34.1m0,0l0.7,24.1m0,0l0.8,-30.3m0,0l0.7,41.1m0,0l0.7,-46.8m0,0l0.8,-9.9m0,0l0.7,36.7m0,0l0.7,-32m0,0l0.8,-13.2m0,0l0.7,30.3m0,0l0.7,7m0,0l0.8,-24.1m0,0l0.7,17.1m0,0l0.7,-26.2m0,0l0.8,9.1m0,0l0.7,52m0,0l0.7,-41.1m0,0l0.8,-24.1m0,0l0.7,18.4m0,0l0.7,26.8m0,0l0.7,-26.8m0,0l0.8,18.9m0,0l0.7,-7m0,0l0.7,7m0,0l0.8,-18.9m0,0l0.7,5.7m0,0l0.7,-0m0,0l0.8,-20m0,0l0.7,9.1m0,0l0.7,-33.2m0,0l0.8,50.3m0,0l0.7,24.1m0,0l0.7,-0m0,0l0.8,-24.1m0,0l0.7,-6.2m0,0l0.7,-15.6m0,0l0.8,45.9m0,0l0.7,-41.2m0,0l0.7,41.2m0,0l0.8,-17.1m0,0" fill="none" stroke="#ff00ff" stroke-width="4.2" stroke-dasharray="1.6 8.4" stroke-linecap="round" stroke-linejoin="round"/><path d="M199.0,729.4L199.4,709.8L199.8,695.5L200.2,729.5L200.6,668.2L201.1,686.0L201.5,728.3L201.9,691.6L202.3,707.1L202.7,702.6L203.2,683.3L203.6,700.2L204.0,658.7L204.4,696.5L204.8,654.7L205.2,677.3L205.7,654.2L206.1,685.6L206.5,682.9L206.9,696.5L207.3,653.7L207.8,643.3L208.2,613.5L208.6,631.4L209.0,654.3L209.4,663.5L209.8,647.5L210.3,655.6L210.7,618.4L211.1,628.9L211.5,669.4L211.9,664.1L212.4,613.6L212.8,636.9L213.2,647.9L213.6,612.5L214.0,648.1L214.4,643.7L214.9,646.3L215.3,680.1L215.7,611.3L216.1,658.7L216.5,641.7L217.0,644.1L217.4,607.4L217.8,624.5L218.2,620.7L218.6,659.2L219.1,659.2L219.5,651.4L219.9,643.6L220.1,641.5L220.5,626.8L220.9,604.8L221.4,582.9L221.8,566.1L222.2,550.8L222.6,535.5L223.0,519.1L223.4,500.2L223.9,476.9L224.3,446.3L224.7,411.6L225.1,376.6L225.5,340.8L226.0,303.7L226.4,269.9L226.8,238.2L227.2,207.3L227.6,180.9L228.0,162.5L228.5,150.5L228.9,140.5L229.3,132.3L229.7,125.3L230.1,119.1L230.6,113.4L231.0,108.1L231.4,103.3L231.8,98.8L232.2,94.8L232.6,91.1L233.1,87.7L233.5,84.6L233.9,81.5L234.3,78.3L234.7,75.2L235.2,72.3L235.6,69.8L236.0,67.8L236.4,66.4L236.8,65.8L237.3,66.0L237.7,67.2L238.1,69.1L238.5,71.6L238.9,74.6L239.3,77.8L239.8,81.2L240.2,84.5L240.6,87.9L241.0,91.9L241.4,96.3L241.9,101.0L242.3,106.0L242.7,110.9L243.1,116.6L243.5,122.4L243.9,127.5L244.4,131.7L244.8,135.6L245.2,139.2L245.6,142.5L246.0,145.3L246.5,147.7L246.9,149.9L247.3,151.9L247.7,153.8L248.1,155.5L248.5,157.3L249.0,159.0L249.4,160.9L249.8,162.9L250.2,165.1L250.6,167.3L251.1,169.4L251.5,171.2L251.9,172.6L252.3,173.9L252.7,175.2L253.1,176.3L253.6,177.4L254.0,178.5L254.4,179.5L254.8,180.4L255.2,181.3L255.7,182.2L256.1,183.0L256.5,183.8L256.9,184.6L257.3,185.4L257.7,186.2L258.2,187.0L258.6,187.8L259.0,188.6L259.4,189.4L259.8,190.2L260.3,191.0L260.7,191.8L261.1,192.5L261.5,193.3L261.9,194.1L262.4,194.8L262.8,195.6L263.2,196.3L263.6,197.0L264.0,197.7L264.4,198.5L264.9,199.2L265.3,199.9L265.7,200.6L266.1,201.2L266.5,201.9L267.0,202.6L267.4,203.3L267.8,204.0L268.2,204.7L268.6,205.3L269.0,206.0L269.5,206.7L269.9,207.4L270.3,208.1L270.7,208.8L271.1,209.5L271.6,210.2L272.0,210.9L272.4,211.6L272.8,212.3L273.2,213.0L273.6,213.7L274.1,214.5L274.5,215.2L274.9,215.9L275.3,216.7L275.7,217.4L276.2,218.1L276.6,218.9L277.0,219.6L277.4,220.3L277.8,221.1L278.2,221.8L278.7,222.5L279.1,223.3L279.5,224.0L279.9,224.7L280.3,225.4L280.8,226.2L281.2,226.9L281.6,227.6L282.0,228.3L282.4,229.0L282.9,229.7L283.3,230.4L283.7,231.1L284.1,231.8L284.5,232.5L284.9,233.2L285.4,233.9L285.8,234.5L286.2,235.2L286.6,235.9L287.0,236.5L287.5,237.1L287.9,237.8L288.3,238.4L288.7,239.0L289.1,239.6L289.5,240.2L290.0,240.8L290.4,241.4L290.8,241.9L291.2,242.5L291.6,243.1L292.1,243.6L292.5,244.2L292.9,244.7L293.3,245.2L293.7,245.8L294.1,246.3L294.6,246.8L295.0,247.3L295.4,247.8L295.8,248.4L296.2,248.9L296.7,249.4L297.1,249.9L297.5,250.4L297.9,250.8L298.3,251.3L298.7,251.8L299.2,252.3L299.6,252.8L300.0,253.3L300.4,253.7L300.8,254.2L301.3,254.7L301.7,255.1L302.1,255.6L302.5,256.1L302.9,256.5L303.4,257.0L303.8,257.5L304.2,257.9L304.6,258.4L305.0,258.8L305.4,259.3L305.9,259.7L306.3,260.2L306.7,260.6L307.1,261.1L307.5,261.5L308.0,262.0L308.4,262.4L308.8,262.9L309.2,263.3L309.6,263.7L310.0,264.1L310.5,264.6L310.9,265.0L311.3,265.4L311.7,265.8L312.1,266.3L312.6,266.7L313.0,267.1L313.4,267.5L313.8,267.9L314.2,268.3L314.6,268.7L315.1,269.2L315.5,269.6L315.9,270.0L316.3,270.4L316.7,270.8L317.2,271.2L317.6,271.6L318.0,272.0L318.4,272.4L318.8,272.8L319.2,273.3L319.7,273.7L320.1,274.1L320.5,274.5L320.9,274.9L321.3,275.3L321.8,275.7L322.2,276.2L322.6,276.6L323.0,277.0L323.4,277.4L323.9,277.8L324.3,278.3L324.7,278.7L325.1,279.1L325.5,279.5L325.9,279.9L326.4,280.4L326.8,280.8L327.2,281.2L327.6,281.6L328.0,282.0L328.5,282.4L328.9,282.8L329.3,283.3L329.7,283.7L330.1,284.1L330.5,284.5L331.0,284.9L331.4,285.3L331.8,285.7L332.2,286.1L332.6,286.5L333.1,286.9L333.5,287.3L333.9,287.6L334.3,288.0L334.7,288.4L335.1,288.8L335.6,289.2L336.0,289.5L336.4,289.9L336.8,290.3L337.2,290.6L337.7,291.0L338.1,291.3L338.5,291.7L338.9,292.0L339.3,292.4L339.7,292.7L340.2,293.0L340.6,293.4L341.0,293.7L341.4,294.0L341.8,294.4L342.3,294.7L342.7,295.0L343.1,295.4L343.5,295.7L343.9,296.0L344.4,296.3L344.8,296.7L345.2,297.0L345.6,297.3L346.0,297.7L346.4,298.0L346.9,298.3L347.3,298.6L347.7,299.0L348.1,299.3L348.5,299.6L349.0,300.0L349.4,300.3L349.8,300.7L350.2,301.0L350.6,301.4L351.0,301.7L351.5,302.1L351.9,302.4L352.3,302.8L352.7,303.2L353.1,303.5L353.6,303.9L354.0,304.3L354.4,304.7L354.8,305.0L355.2,305.4L355.6,305.8L356.1,306.2L356.5,306.6L356.9,307.0L357.3,307.4L357.7,307.8L358.2,308.2L358.6,308.5L359.0,308.9L359.4,309.3L359.8,309.7L360.2,310.1L360.7,310.5L361.1,310.9L361.5,311.3L361.9,311.6L362.3,312.0L362.8,312.4L363.2,312.7L363.6,313.1L364.0,313.5L364.4,313.8L364.9,314.2L365.3,314.5L365.7,314.9L366.1,315.2L366.5,315.5L366.9,315.9L367.4,316.2L367.8,316.5L368.2,316.8L368.6,317.1L369.0,317.5L369.5,317.8L369.9,318.1L370.3,318.4L370.7,318.7L371.1,319.0L371.5,319.3L372.0,319.6L372.4,319.9L372.8,320.2L373.2,320.5L373.6,320.8L374.1,321.0L374.5,321.3L374.9,321.6L375.3,321.9L375.7,322.2L376.1,322.5L376.6,322.7L377.0,323.0L377.4,323.3L377.8,323.6L378.2,323.9L378.7,324.1L379.1,324.4L379.5,324.7L379.9,325.0L380.3,325.2L380.7,325.5L381.2,325.8L381.6,326.1L382.0,326.4L382.4,326.6L382.8,326.9L383.3,327.2L383.7,327.5L384.1,327.7L384.5,328.0L384.9,328.3L385.3,328.6L385.8,328.8L386.2,329.1L386.6,329.4L387.0,329.6L387.4,329.9L387.9,330.2L388.3,330.5L388.7,330.7L389.1,331.0L389.5,331.3L390.0,331.5L390.4,331.8L390.8,332.1L391.2,332.3L391.6,332.6L392.0,332.8L392.5,333.1L392.9,333.4L393.3,333.6L393.7,333.9L394.1,334.1L394.6,334.4L395.0,334.6L395.4,334.9L395.8,335.2L396.2,335.4L396.6,335.7L397.1,335.9L397.5,336.2L397.9,336.4L398.3,336.7L398.7,336.9L399.2,337.1L399.6,337.4L400.0,337.6L400.4,337.9L400.8,338.1L401.2,338.3L401.7,338.6L402.1,338.8L402.5,339.0L402.9,339.3L403.3,339.5L403.8,339.7L404.2,340.0L404.6,340.2L405.0,340.4L405.4,340.6L405.8,340.9L406.3,341.1L406.7,341.3L407.1,341.5L407.5,341.8L407.9,342.0L408.4,342.2L408.8,342.4L409.2,342.6L409.6,342.9L410.0,343.1L410.5,343.3L410.9,343.5L411.3,343.7L411.7,343.9L412.1,344.2L412.5,344.4L413.0,344.6L413.4,344.8L413.8,345.0L414.2,345.2L414.6,345.4L415.1,345.7L415.5,345.9L415.9,346.1L416.3,346.3L416.7,346.5L417.1,346.7L417.6,347.0L418.0,347.2L418.4,347.4L418.8,347.6L419.2,347.8L419.7,348.0L420.1,348.3L420.5,348.5L420.9,348.7L421.3,348.9L421.7,349.1L422.2,349.4L422.6,349.6L423.0,349.8L423.4,350.0L423.8,350.3L424.3,350.5L424.7,350.7L425.1,350.9L425.5,351.2L425.9,351.4L426.3,351.6L426.8,351.9L427.2,352.1L427.6,352.3L428.0,352.6L428.4,352.8L428.9,353.1L429.3,353.3L429.7,353.5L430.1,353.8L430.5,354.0L431.0,354.3L431.4,354.5L431.8,354.8L432.2,355.1L432.6,355.3L433.0,355.6L433.5,355.8L433.9,356.1L434.3,356.4L434.7,356.6L435.1,356.9L435.6,357.2L436.0,357.4L436.4,357.7L436.8,358.0L437.2,358.3L437.6,358.5L438.1,358.8L438.5,359.1L438.9,359.4L439.3,359.7L439.7,359.9L440.2,360.2L440.6,360.5L441.0,360.8L441.4,361.1L441.8,361.4L442.2,361.7L442.7,361.9L443.1,362.2L443.5,362.5L443.9,362.8L444.3,363.1L444.8,363.4L445.2,363.7L445.6,364.0L446.0,364.3L446.4,364.5L446.8,364.8L447.3,365.1L447.7,365.4L448.1,365.7L448.5,366.0L448.9,366.3L449.4,366.6L449.8,366.9L450.2,367.1L450.6,367.4L451.0,367.7L451.5,368.0L451.9,368.3L452.3,368.6L452.7,368.9L453.1,369.1L453.5,369.4L454.0,369.7L454.4,370.0L454.8,370.3L455.2,370.5L455.6,370.8L456.1,371.1L456.5,371.3L456.9,371.6L457.3,371.9L457.7,372.2L458.1,372.4L458.6,372.7L459.0,372.9L459.4,373.2L459.8,373.5L460.2,373.7L460.7,374.0L461.1,374.2L461.5,374.5L461.9,374.7L462.3,375.0L462.7,375.2L463.2,375.4L463.6,375.7L464.0,375.9L464.4,376.2L464.8,376.4L465.3,376.7L465.7,376.9L466.1,377.1L466.5,377.4L466.9,377.6L467.3,377.8L467.8,378.1L468.2,378.3L468.6,378.5L469.0,378.8L469.4,379.0L469.9,379.2L470.3,379.4L470.7,379.7L471.1,379.9L471.5,380.1L472.0,380.4L472.4,380.6L472.8,380.8L473.2,381.0L473.6,381.3L474.0,381.5L474.5,381.7L474.9,381.9L475.3,382.1L475.7,382.4L476.1,382.6L476.6,382.8L477.0,383.0L477.4,383.2L477.8,383.5L478.2,383.7L478.6,383.9L479.1,384.1L479.5,384.3L479.9,384.6L480.3,384.8L480.7,385.0L481.2,385.2L481.6,385.4L482.0,385.7L482.4,385.9L482.8,386.1L483.2,386.3L483.7,386.5L484.1,386.8L484.5,387.0L484.9,387.2L485.3,387.4L485.8,387.6L486.2,387.9L486.6,388.1L487.0,388.3L487.4,388.5L487.8,388.8L488.3,389.0L488.7,389.2L489.1,389.4L489.5,389.6L489.9,389.9L490.4,390.1L490.8,390.3L491.2,390.5L491.6,390.8L492.0,391.0L492.4,391.2L492.9,391.5L493.3,391.7L493.7,391.9L494.1,392.1L494.5,392.4L495.0,392.6L495.4,392.8L495.8,393.1L496.2,393.3L496.6,393.5L497.1,393.8L497.5,394.0L497.9,394.2L498.3,394.4L498.7,394.7L499.1,394.9L499.6,395.1L500.0,395.4L500.4,395.6L500.8,395.8L501.2,396.1L501.7,396.3L502.1,396.5L502.5,396.8L502.9,397.0L503.3,397.2L503.7,397.5L504.2,397.7L504.6,397.9L505.0,398.1L505.4,398.4L505.8,398.6L506.3,398.8L506.7,399.1L507.1,399.3L507.5,399.5L507.9,399.8L508.3,400.0L508.8,400.2L509.2,400.4L509.6,400.7L510.0,400.9L510.4,401.1L510.9,401.4L511.3,401.6L511.7,401.8L512.1,402.0L512.5,402.3L512.9,402.5L513.4,402.7L513.8,403.0L514.2,403.2L514.6,403.4L515.0,403.6L515.5,403.9L515.9,404.1L516.3,404.3L516.7,404.5L517.1,404.8L517.6,405.0L518.0,405.2L518.4,405.4L518.8,405.7L519.2,405.9L519.6,406.1L520.1,406.3L520.5,406.5L520.9,406.8L521.3,407.0L521.7,407.2L522.2,407.4L522.6,407.6L523.0,407.9L523.4,408.1L523.8,408.3L524.2,408.5L524.7,408.8L525.1,409.0L525.5,409.2L525.9,409.4L526.3,409.6L526.8,409.9L527.2,410.1L527.6,410.3L528.0,410.5L528.4,410.7L528.8,411.0L529.3,411.2L529.7,411.4L530.1,411.6L530.5,411.9L530.9,412.1L531.4,412.3L531.8,412.5L532.2,412.7L532.6,413.0L533.0,413.2L533.4,413.4L533.9,413.6L534.3,413.8L534.7,414.0L535.1,414.3L535.5,414.5L536.0,414.7L536.4,414.9L536.8,415.1L537.2,415.3L537.6,415.6L538.1,415.8L538.5,416.0L538.9,416.2L539.3,416.4L539.7,416.6L540.1,416.8L540.6,417.0L541.0,417.3L541.4,417.5L541.8,417.7L542.2,417.9L542.7,418.1L543.1,418.3L543.5,418.5L543.9,418.7L544.3,418.9L544.7,419.1L545.2,419.3L545.6,419.5L546.0,419.7L546.4,419.9L546.8,420.1L547.3,420.3L547.7,420.5L548.1,420.7L548.5,420.9L548.9,421.1L549.3,421.3L549.8,421.5L550.2,421.6L550.6,421.8L551.0,422.0L551.4,422.2L551.9,422.4L552.3,422.6L552.7,422.8L553.1,422.9L553.5,423.1L553.9,423.3L554.4,423.5L554.8,423.7L555.2,423.8L555.6,424.0L556.0,424.2L556.5,424.4L556.9,424.5L557.3,424.7L557.7,424.9L558.1,425.1L558.6,425.2L559.0,425.4L559.4,425.6L559.8,425.8L560.2,425.9L560.6,426.1L561.1,426.3L561.5,426.4L561.9,426.6L562.3,426.8L562.7,426.9L563.2,427.1L563.6,427.3L564.0,427.4L564.4,427.6L564.8,427.8L565.2,427.9L565.7,428.1L566.1,428.2L566.5,428.4L566.9,428.6L567.3,428.7L567.8,428.9L568.2,429.1L568.6,429.2L569.0,429.4L569.4,429.6L569.8,429.7L570.3,429.9L570.7,430.0L571.1,430.2L571.5,430.4L571.9,430.5L572.4,430.7L572.8,430.9L573.2,431.0L573.6,431.2L574.0,431.3L574.4,431.5L574.9,431.7L575.3,431.8L575.7,432.0L576.1,432.2L576.5,432.3L577.0,432.5L577.4,432.7L577.8,432.8L578.2,433.0L578.6,433.2L579.1,433.3L579.5,433.5L579.9,433.7L580.3,433.8L580.7,434.0L581.1,434.2L581.6,434.3L582.0,434.5L582.4,434.7L582.8,434.8L583.2,435.0L583.7,435.2L584.1,435.3L584.5,435.5L584.9,435.7L585.3,435.9L585.7,436.0L586.2,436.2L586.6,436.4L587.0,436.5L587.4,436.7L587.8,436.9L588.3,437.0L588.7,437.2L589.1,437.4L589.5,437.6L589.9,437.7L590.3,437.9L590.8,438.1L591.2,438.2L591.6,438.4L592.0,438.6L592.4,438.7L592.9,438.9L593.3,439.1L593.7,439.3L594.1,439.4L594.5,439.6L594.9,439.8L595.4,439.9L595.8,440.1L596.2,440.3L596.6,440.4L597.0,440.6L597.5,440.8L597.9,441.0L598.3,441.1L598.7,441.3L599.1,441.5L599.6,441.6L600.0,441.8L600.4,442.0L600.8,442.1L601.2,442.3L601.6,442.5L602.1,442.7L602.5,442.8L602.9,443.0L603.3,443.2L603.7,443.3L604.2,443.5L604.6,443.7L605.0,443.9L605.4,444.0L605.8,444.2L606.2,444.4L606.7,444.5L607.1,444.7L607.5,444.9L607.9,445.0L608.3,445.2L608.8,445.4" fill="none" stroke="#008000" stroke-width="3.2" stroke-linejoin="round"/><path d="M195.8,548.8M198,614M199.5,614l0.7,-41.2m0,0l0.8,41.2m0,0l0.7,0m0,0M203.2,614M205.4,572.8M206.8,614l0.7,0m0,0M209,614M210.5,614M211.9,614l0.8,0m0,0l0.7,0m0,0l0.7,-41.2m0,0l0.8,-24m0,0l0.7,65.2m0,0l0.7,-95.5m0,0l0.8,54.3m0,0l0.7,41.2m0,0M219.3,548.8l0.7,65.2m0,0M221.5,548.8l0.7,0m0,0l0.7,-41.1m0,0l0.8,-24.1m0,0l0.7,-41.1m0,0l0.7,-54.4m0,0l0.8,-79.9m0,0l0.7,-53.4m0,0l0.7,-57.8m0,0l0.7,-35.2m0,0l0.8,-18.1m0,0l0.7,-15.1m0,0l0.7,-9.9m0,0l0.8,-10.4m0,0l0.7,-8.8m0,0l0.7,-6.8m0,0l0.8,-6.1m0,0l0.7,-4.5m0,0l0.7,-6.1m0,0l0.8,-5.6m0,0l0.7,-3.3m0,0l0.7,0.8m0,0l0.8,-0.3m0,0l0.7,3.6m0,0l0.7,8.1m0,0l0.8,7.6m0,0l0.7,6.6m0,0l0.7,10.6m0,0l0.8,10.7m0,0l0.8,13.8m0,0l0.8,15.8m0,0l0.9,20.6m0,0l0.8,13.1m0,0l0.9,13.6m0,0l0.9,12.8m0,0l1,10.6m0,0l0.9,7.5m0,0l1,1.6m0,0l1.1,7.7m0,0l1,3.4m0,0l1.1,11.6m0,0l1.1,1.3m0,0l1.1,1.7m0,0l1.2,2.4m0,0l1.2,4.2m0,0l1.2,8.2m0,0l1.3,1.4m0,0l1.3,4.7m0,0l1.4,1.3m0,0l1.3,-0.4m0,0l1.5,4.9m0,0l1.4,9.3m0,0l1.5,-9.1m0,0l1.5,10.5m0,0l1.4,12.6m0,0l1.5,-4.6m0,0l1.4,1.7m0,0l1.5,9.2m0,0l1.5,0.3m0,0l1.4,6.4m0,0l1.5,-6.7m0,0l1.5,7m0,0l1.4,-0.7m0,0l1.5,-3.9m0,0l1.5,3.2m0,0l1.4,7.3m0,0l1.5,-6.2m0,0l1.5,5.8m0,0l1.4,0.8m0,0l1.5,7.1m0,0l1.4,1.9m0,0l1.5,5.5m0,0l1.5,-11.9m0,0l1.4,13m0,0l1.5,-4.7m0,0l1.5,-1.9m0,0l1.4,7.1m0,0l1.5,4m0,0l1.5,-8.2m0,0l1.4,6.5m0,0l1.5,9.8m0,0l1.5,-9.3m0,0l1.4,-9m0,0l1.5,15m0,0l1.4,7.4m0,0l1.5,-17.8m0,0l1.5,9.2m0,0l1.4,17m0,0l1.5,-9.8m0,0l1.5,1.4m0,0l1.4,3.7m0,0l1.5,3.9m0,0l1.5,6m0,0l1.4,-11.4m0,0l1.5,11.4m0,0l1.5,3.7m0,0l1.4,-22.8m0,0l1.5,23.8m0,0l1.4,-11.5m0,0l1.5,5.9m0,0l1.5,17.4m0,0l1.4,-8.8m0,0l1.5,-1.1m0,0l1.5,-4.8m0,0l1.4,9m0,0l1.5,-6.1m0,0l1.5,4m0,0l1.4,4.3m0,0l1.5,-6.4m0,0l1.5,11.1m0,0l1.4,-14m0,0l1.5,23.1m0,0l1.4,-2.7m0,0l1.5,-2.7m0,0l1.5,14.6m0,0l1.4,-18.3m0,0l1.5,13.5m0,0l1.5,-14.7m0,0l1.4,24.6m0,0l1.5,-15.7m0,0l1.5,2.8m0,0l1.4,6.1m0,0l1.5,-26.6m0,0l1.5,13.7m0,0l1.4,8.3m0,0l1.5,6.3m0,0l1.4,14.9m0,0l1.5,-22.7m0,0l1.5,6.1m0,0l1.4,-6.1m0,0l1.5,18.6m0,0l1.5,-21.4m0,0l1.4,15.7m0,0l1.5,-5.1m0,0l1.5,-15.9m0,0l1.4,15.9m0,0l1.5,3.4m0,0l1.4,-18m0,0l1.5,21.5m0,0l1.4,-5.3m0,0l1.5,-3.3m0,0l1.4,16.6m0,0l1.4,-2.1m0,0l1.4,11.2m0,0l1.4,7.9m0,0l1.4,-42.5m0,0l1.4,21.4m0,0l1.3,4.1m0,0l1.4,14.3m0,0l1.3,-9.9m0,0l1.4,-14.2m0,0l1.3,3.7m0,0l1.3,15.2m0,0l1.3,17.1m0,0l1.3,-26.2m0,0l1.3,-9.8m0,0l1.3,-6.8m0,0l1.2,23.3m0,0l1.3,10.3m0,0l1.3,-14.9m0,0l1.2,24.1m0,0l1.2,-24.1m0,0l1.3,14.9m0,0l1.2,-17m0,0l1.2,11.6m0,0l1.2,-4.9m0,0l1.2,4.9m0,0l1.2,-7.2m0,0l1.1,7.2m0,0l1.2,-9.5m0,0l1.2,20.9m0,0l1.1,32.4m0,0l1.2,-35.5m0,0l1.1,-17.8m0,0l1.1,-11.9m0,0l1.1,36m0,0l1.2,-9.2m0,0l1.1,6m0,0l1.1,-11.4m0,0l1,-2.5m0,0l1.1,10.8m0,0l1.1,-27.9m0,0l1.1,49.1m0,0l1,-34.4m0,0l1.1,10.3m0,0l1,9.2m0,0l1.1,19.3m0,0l1,-31.2m0,0l1,8.7m0,0l1,-6m0,0l1,-7.9m0,0l1,36.4m0,0l1,-36.4m0,0l1,24.1m0,0l1,-10.2m0,0l1,10.2m0,0l0.9,-21.6m0,0l1,29.5m0,0l0.9,-0m0,0l1,-14.9m0,0l0.9,29.2m0,0l1,-22.2m0,0l0.9,-10.2m0,0l0.9,6.6m0,0l0.9,-29.6m0,0l0.9,50.2m0,0l0.9,-24m0,0l0.9,-6.3m0,0l0.9,62.3m0,0l0.9,-36.7m0,0l0.9,-8.5m0,0l0.8,-25.4m0,0l0.9,21.6m0,0l0.9,-10.2m0,0l0.8,22.5m0,0l0.9,-12.3m0,0l0.8,12.3m0,0l0.8,-31.2m0,0l0.9,5.6m0,0l0.8,41.2m0,0l0.8,-10.9m0,0l0.8,-13.2m0,0l0.8,4.1m0,0l0.8,-11.5m0,0l0.8,-3.4m0,0l0.8,3.4m0,0l0.8,-25.2m0,0l0.8,69.9m0,0l0.7,-51.3m0,0l0.8,6.6m0,0l0.8,11.5m0,0l0.7,14.3m0,0l0.8,-18.4m0,0l0.7,4.1m0,0l0.7,4.4m0,0l0.8,-15.9m0,0l0.7,20.6m0,0l0.7,-13.2m0,0l0.8,78.4m0,0l0.7,-69.9m0,0l0.7,-25.6m0,0l0.8,21.2m0,0l0.7,-7.9m0,0l0.7,-13.3m0,0l0.8,35.5m0,0l0.7,-35.5m0,0l0.7,25.6m0,0l0.8,4.7m0,0l0.7,-20.6m0,0l0.7,15.9m0,0l0.8,-19.3m0,0l0.7,41.1m0,0l0.7,-30.3m0,0l0.8,-0m0,0l0.7,24.1m0,0l0.7,-20m0,0l0.8,-21.2m0,0l0.7,6.3m0,0l0.7,34.9m0,0l0.8,-24.1m0,0l0.7,-7.4m0,0l0.7,15.9m0,0l0.7,9.9m0,0l0.8,11.9m0,0l0.7,-21.8m0,0l0.7,-19.3m0,0l0.8,10.8m0,0l0.7,4.1m0,0l0.7,14.3m0,0l0.8,-32.4m0,0l0.7,14m0,0l0.7,13.2m0,0l0.8,17.1m0,0l0.7,-0m0,0l0.7,-17.1m0,0l0.8,-17m0,0l0.7,-7m0,0l0.7,56m0,0l0.8,-14.9m0,0l0.7,-17.1m0,0l0.7,-0m0,0l0.8,-9.1m0,0l0.7,14.3m0,0l0.7,-9.9m0,0l0.8,-19.3m0,0l0.7,10.8m0,0l0.7,24.1m0,0l0.8,-10.9m0,0l0.7,-17m0,0l0.7,22.2m0,0l0.7,18.9m0,0l0.8,-7m0,0l0.7,-26.2m0,0l0.7,4.4m0,0l0.8,-19.3m0,0l0.7,34.9m0,0l0.7,6.2m0,0l0.8,-30.3m0,0l0.7,18.4m0,0l0.7,18.9m0,0l0.8,-28.8m0,0l0.7,-19.3m0,0l0.7,7m0,0l0.8,17m0,0l0.7,-4.7m0,0l0.7,-8.5m0,0l0.8,8.5m0,0l0.7,4.7m0,0l0.7,17.1m0,0l0.8,-6.2m0,0l0.7,-5.7m0,0l0.7,-9.9m0,0l0.8,45.9m0,0l0.7,-54.4m0,0l0.7,-20m0,0l0.8,20m0,0l0.7,37.3m0,0l0.7,-18.9m0,0l0.7,5.7m0,0l0.8,-31.5m0,0l0.7,61.8m0,0l0.7,-45.9m0,0l0.8,-4.4m0,0l0.7,14.3m0,0l0.7,-5.2m0,0l0.8,10.9m0,0l0.7,6.2m0,0l0.7,-41.1m0,0l0.8,41.1m0,0l0.7,-26.2m0,0l0.7,4.4m0,0l0.8,45.9m0,0l0.7,-41.2m0,0l0.7,-0m0,0l0.8,-13.2m0,0l0.7,24.1m0,0l0.7,-20m0,0l0.8,14.3m0,0l0.7,-18.4m0,0l0.7,13.2m0,0l0.8,-4.7m0,0l0.7,28.8m0,0l0.7,-48.1m0,0l0.7,65.2m0,0l0.8,-24.1m0,0l0.7,-11.9m0,0l0.7,-5.2m0,0l0.8,32m0,0l0.7,-32m0,0l0.7,-4.7m0,0l0.8,15.6m0,0l0.7,-24.1m0,0l0.7,30.3m0,0l0.8,7m0,0l0.7,-41.1m0,0l0.7,17m0,0l0.8,10.9m0,0l0.7,-15.6m0,0l0.7,15.6m0,0l0.8,6.2m0,0l0.7,-26.2m0,0l0.7,50.3m0,0l0.8,-41.2m0,0l0.7,-20.6m0,0l0.7,52.6m0,0l0.8,-26.8m0,0l0.7,5.7m0,0l0.7,6.2m0,0l0.8,-17.1m0,0l0.7,-13.2m0,0l0.7,-3.8m0,0l0.7,12.3m0,0l0.8,36.7m0,0l0.7,-7.9m0,0l0.7,-7m0,0l0.8,-6.2m0,0l0.7,-20m0,0l0.7,-4.1m0,0l0.8,18.4m0,0l0.7,-5.2m0,0l0.7,24.1m0,0l0.8,41.1m0,0l0.7,-85.8m0,0l0.7,25.8m0,0l0.8,18.9m0,0l0.7,-44.7m0,0l0.7,31.5m0,0l0.8,-20m0,0l0.7,33.2m0,0l0.7,-24.1m0,0l0.8,5.2m0,0l0.7,-9.9m0,0l0.7,15.6m0,0l0.8,13.2m0,0l0.7,17.1m0,0l0.7,-9.2m0,0l0.8,-26.8m0,0l0.7,-22.2m0,0l0.7,7.9m0,0l0.7,20m0,0l0.8,6.2m0,0l0.7,-17.1m0,0l0.7,24.1m0,0l0.8,7.9m0,0l0.7,-36.7m0,0l0.7,21.8m0,0l0.8,48.1m0,0l0.7,-82.2m0,0l0.7,22.2m0,0l0.8,-14.3m0,0l0.7,26.2m0,0l0.7,-6.2m0,0l0.8,-15.6m0,0l0.7,36.7m0,0l0.7,-32m0,0l0.8,5.2m0,0l0.7,-0m0,0l0.7,-22.2m0,0l0.8,69m0,0l0.7,-61.1m0,0l0.7,20m0,0l0.8,13.2m0,0l0.7,-13.2m0,0l0.7,21.1m0,0l0.8,-36.7m0,0l0.7,28.8m0,0l0.7,-7m0,0l0.7,-6.2m0,0l0.8,-0m0,0l0.7,21.1m0,0l0.7,-26.8m0,0l0.8,-14.3m0,0l0.7,4.4m0,0l0.7,-15.9m0,0l0.8,61.8m0,0l0.7,-30.3m0,0l0.7,6.2m0,0l0.8,-6.2m0,0l0.7,-20m0,0l0.7,26.2m0,0l0.8,-17.1m0,0l0.7,-20.6m0,0l0.7,61.8m0,0l0.8,-0m0,0l0.7,-41.2m0,0l0.7,32m0,0l0.8,-26.8m0,0l0.7,5.7m0,0l0.7,-10.9m0,0l0.8,5.2m0,0l0.7,-18.4m0,0l0.7,30.3m0,0l0.8,7m0,0l0.7,27.9m0,0l0.7,-56.7m0,0l0.7,-8.5m0,0l0.8,78.4m0,0l0.7,-60m0,0l0.7,-5.2m0,0l0.8,17.1m0,0l0.7,-26.2m0,0l0.7,20m0,0l0.8,13.2m0,0l0.7,7.9m0,0l0.7,-14.9m0,0l0.8,-21.8m0,0l0.7,36.7m0,0l0.7,-14.9m0,0l0.8,-21.8m0,0l0.7,4.7m0,0l0.7,10.9m0,0l0.8,-24.1m0,0l0.7,18.4m0,0l0.7,18.9m0,0l0.8,41.1m0,0l0.7,-54.3m0,0l0.7,41.1m0,0l0.8,-20m0,0l0.7,-14.9m0,0l0.7,-11.9m0,0l0.8,-14.3m0,0l0.7,-18.1m0,0l0.7,38.1m0,0l0.7,-10.9m0,0l0.8,24.1m0,0l0.7,7.9m0,0l0.7,50.3m0,0l0.8,-82.3m0,0l0.7,24.1m0,0l0.7,-7m0,0l0.8,-21.8m0,0l0.7,15.6m0,0l0.7,-5.7m0,0l0.8,-25.8m0,0l0.7,31.5m0,0l0.7,-15.6m0,0l0.8,9.9m0,0l0.7,-22.2m0,0l0.7,41.1m0,0l0.8,-13.2m0,0l0.7,54.3m0,0l0.7,-33.2m0,0l0.8,-14.9m0,0l0.7,-0m0,0l0.7,-17.1m0,0l0.8,17.1m0,0l0.7,7m0,0l0.7,7.9m0,0l0.8,-26.8m0,0l0.7,5.7m0,0l0.7,71.4m0,0l0.7,-91.4m0,0l0.8,33.2m0,0l0.7,-41.1m0,0l0.7,17m0,0l0.8,52m0,0l0.7,-46.8m0,0l0.7,18.9m0,0l0.8,-33.2m0,0l0.7,33.2m0,0l0.7,-33.2m0,0l0.8,14.3m0,0l0.7,11.9m0,0l0.7,24.1m0,0l0.8,-41.2m0,0l0.7,24.1m0,0l0.7,7.9m0,0l0.8,20m0,0l0.7,-52m0,0l0.7,5.2m0,0l0.8,11.9m0,0l0.7,-21.8m0,0l0.7,21.8m0,0l0.8,-30.3m0,0l0.7,24.1m0,0l0.7,54.3m0,0l0.8,-65.2m0,0l0.7,10.9m0,0l0.7,-5.7m0,0l0.7,5.7m0,0l0.8,6.2m0,0l0.7,7m0,0l0.7,-33.2m0,0l0.8,41.1m0,0l0.7,-45.2m0,0l0.7,30.3m0,0l0.8,-17.1m0,0l0.7,32m0,0l0.7,-36.7m0,0l0.8,9.9m0,0l0.7,-29.2m0,0l0.7,34.9m0,0l0.8,13.2m0,0l0.7,17.1m0,0l0.7,-24.1m0,0l0.8,14.9m0,0l0.7,-7.9m0,0l0.7,-24.1m0,0l0.8,10.9m0,0l0.7,-10.9m0,0l0.7,-20.6m0,0l0.8,37.7m0,0l0.7,-21.8m0,0l0.7,21.8m0,0l0.8,24.1m0,0l0.7,-54.4m0,0l0.7,37.3m0,0l0.7,-13.2m0,0l0.8,-15.6m0,0l0.7,36.7m0,0l0.7,-7.9m0,0l0.8,-28.8m0,0l0.7,9.9m0,0l0.7,60m0,0l0.8,-48.1m0,0l0.7,-6.2m0,0l0.7,-15.6m0,0l0.8,36.7m0,0l0.7,-32m0,0l0.7,24.1m0,0l0.8,17.1m0,0l0.7,-24.1m0,0l0.7,-6.2m0,0l0.8,-5.7m0,0l0.7,-14.3m0,0l0.7,61.1m0,0l0.8,-34.9m0,0l0.7,24.1m0,0l0.7,-30.3m0,0l0.8,-10.9m0,0l0.7,24.1m0,0l0.7,-44.7m0,0l0.8,25.8m0,0l0.7,11.9m0,0l0.7,-26.2m0,0l0.7,33.2m0,0l0.8,-0m0,0l0.7,-13.2m0,0l0.7,-15.6m0,0l0.8,4.7m0,0l0.7,-24m0,0l0.7,29.2m0,0l0.8,26.8m0,0l0.7,-14.9m0,0l0.7,34.9m0,0l0.8,-41.1m0,0l0.7,-10.9m0,0l0.7,106.3m0,0l0.8,-74.3m0,0l0.7,-26.8m0,0l0.7,-9.9m0,0l0.8,21.8m0,0l0.7,-0m0,0l0.7,7m0,0l0.8,-37.3m0,0l0.7,18.4m0,0l0.7,11.9m0,0l0.8,-6.2m0,0l0.7,13.2m0,0l0.7,7.9m0,0l0.7,-32m0,0l0.8,-30.3m0,0l0.7,25.6m0,0l0.7,69.9m0,0l0.8,-48.1m0,0l0.7,14.9m0,0l0.7,-56m0,0l0.8,24m0,0l0.7,41.2m0,0l0.7,-17.1m0,0l0.8,-18.9m0,0l0.7,-9.9m0,0l0.7,15.6m0,0l0.8,71.4m0,0l0.7,-65.2m0,0l0.7,48.1m0,0l0.8,-65.2m0,0l0.7,32m0,0l0.7,-21.1m0,0l0.8,21.1m0,0l0.7,-26.8m0,0l0.7,-9.9m0,0l0.8,-8.5m0,0l0.7,37.3m0,0l0.7,-7m0,0l0.8,-11.9m0,0l0.7,5.7m0,0l0.7,13.2m0,0l0.7,-24.1m0,0l0.8,32m0,0l0.7,-7.9m0,0l0.7,-33.2m0,0l0.8,20m0,0l0.7,41.1m0,0l0.7,-65.2m0,0l0.8,65.2m0,0l0.7,-20m0,0l0.7,-26.8m0,0l0.8,18.9m0,0l0.7,-7m0,0l0.7,-41.1m0,0l0.8,34.9m0,0l0.7,-20m0,0l0.7,26.2m0,0l0.8,-17.1m0,0l0.7,-17m0,0l0.7,27.9m0,0l0.8,-10.9m0,0l0.7,-4.7m0,0l0.7,15.6m0,0l0.8,95.4m0,0l0.7,-101.1m0,0l0.7,11.9m0,0l0.8,24.1m0,0l0.7,-17.1m0,0l0.7,-13.2m0,0l0.7,-10.9m0,0l0.8,-13.2m0,0l0.7,30.3m0,0l0.7,-0m0,0l0.8,24.1m0,0l0.7,-50.3m0,0l0.7,14.3m0,0l0.8,36m0,0l0.7,-17.1m0,0l0.7,-28.8m0,0l0.8,-8.5m0,0l0.7,18.4m0,0l0.7,26.8m0,0l0.8,-0m0,0l0.7,-14.9m0,0l0.7,-6.2m0,0l0.8,6.2m0,0l0.7,-11.9m0,0l0.7,46.8m0,0l0.8,-20m0,0l0.7,-52.6m0,0l0.7,37.7m0,0l0.8,-6.2m0,0l0.7,-5.7m0,0l0.7,11.9m0,0l0.8,48.1m0,0l0.7,-69.9m0,0l0.7,4.7m0,0l0.7,32m0,0l0.8,-7.9m0,0l0.7,-13.2m0,0l0.7,21.1m0,0l0.8,-32m0,0l0.7,10.9m0,0l0.7,-5.7m0,0l0.8,11.9m0,0l0.7,-17.1m0,0l0.7,82.3m0,0l0.8,-91.4m0,0l0.7,61.1m0,0l0.7,-76m0,0l0.8,48.1m0,0l0.7,-13.2m0,0l0.7,-5.7m0,0l0.8,26.8m0,0l0.7,-26.8m0,0l0.7,5.7m0,0l0.8,13.2m0,0l0.7,-24.1m0,0l0.7,41.2m0,0l0.8,10.8m0,0l0.7,-27.9m0,0l0.7,-33.2m0,0l0.8,20m0,0l0.7,13.2m0,0l0.7,-18.9m0,0l0.7,-14.3m0,0l0.8,9.1m0,0l0.7,10.9m0,0l0.7,6.2m0,0l0.8,7m0,0l0.7,-13.2m0,0l0.7,-5.7m0,0l0.8,-14.3m0,0l0.7,61.1m0,0l0.7,-27.9m0,0l0.8,7.9m0,0l0.7,-45.2m0,0l0.7,13.2m0,0l0.8,52m0,0l0.7,-27.9m0,0l0.7,-18.9m0,0l0.8,36m0,0l0.7,-30.3m0,0l0.7,13.2m0,0l0.8,-28.8m0,0l0.7,9.9m0,0l0.7,-29.2m0,0l0.8,41.1m0,0l0.7,-30.3m0,0l0.7,13.2m0,0l0.8,17.1m0,0l0.7,-0m0,0l0.7,-6.2m0,0l0.7,21.1m0,0l0.8,20m0,0l0.7,-56.7m0,0l0.7,45.9m0,0l0.8,-36m0,0l0.7,11.9m0,0l0.7,-26.2m0,0l0.8,9.1m0,0l0.7,52m0,0l0.7,-10.8m0,0l0.8,-17.1m0,0l0.7,-37.3m0,0l0.7,30.3m0,0l0.8,-6.2m0,0l0.7,-5.7m0,0l0.7,-5.2m0,0l0.8,24.1m0,0l0.7,-13.2m0,0l0.7,6.2m0,0l0.8,65.2m0,0l0.7,-95.5m0,0l0.7,54.4m0,0l0.8,-36m0,0l0.7,-9.9m0,0l0.7,21.8m0,0l0.8,14.9m0,0l0.7,-7.9m0,0l0.7,-33.2m0,0l0.7,26.2m0,0l0.8,-11.9m0,0l0.7,-0m0,0l0.7,5.7m0,0l0.8,41.1m0,0l0.7,-27.9m0,0l0.7,-37.3m0,0l0.8,18.4m0,0l0.7,-14.3m0,0l0.7,20m0,0l0.8,6.2m0,0l0.7,14.9m0,0l0.7,-7.9m0,0l0.8,-33.2m0,0l0.7,41.1m0,0l0.7,9.2m0,0l0.8,-41.2m0,0l0.7,5.2m0,0l0.7,5.7m0,0l0.8,6.2m0,0l0.7,-21.8m0,0l0.7,28.8m0,0l0.8,17.1m0,0l0.7,-24.1m0,0l0.7,-30.3m0,0l0.8,13.2m0,0l0.7,41.2m0,0l0.7,-36m0,0l0.7,26.8m0,0l0.8,-14.9m0,0l0.7,14.9m0,0l0.7,-14.9m0,0l0.8,-34.1m0,0l0.7,7.9m0,0l0.7,14.3m0,0l0.8,5.7m0,0l0.7,30.3m0,0l0.7,10.8m0,0l0.8,-46.8m0,0l0.7,18.9m0,0l0.7,-13.2m0,0l0.8,-20m0,0l0.7,50.3m0,0l0.7,-45.9m0,0l0.8,4.7m0,0l0.7,24.1m0,0l0.7,-7m0,0l0.8,-11.9m0,0l0.7,11.9m0,0l0.7,-6.2m0,0l0.8,21.1m0,0l0.7,-32m0,0l0.7,5.2m0,0l0.8,60m0,0l0.7,-48.1m0,0l0.7,24.1m0,0l0.7,-65.2m0,0l0.8,48.1m0,0l0.7,-33.2m0,0l0.7,33.2m0,0l0.8,-24.1m0,0l0.7,17.1m0,0l0.7,-11.9m0,0l0.8,5.7m0,0l0.7,21.1m0,0l0.7,-36.7m0,0l0.8,69.9m0,0l0.7,-48.1m0,0l0.7,-11.9m0,0l0.8,5.7m0,0l0.7,30.3m0,0l0.7,-54.4m0,0l0.8,78.4m0,0l0.7,-48.1m0,0l0.7,-21.8m0,0l0.8,9.9m0,0l0.7,26.8m0,0l0.7,-26.8m0,0l0.8,26.8m0,0l0.7,-7.9m0,0l0.7,-13.2m0,0l0.8,-24.1m0,0l0.7,30.3m0,0l0.7,-21.8m0,0l0.7,28.8m0,0l0.8,27.9m0,0l0.7,-41.1m0,0l0.7,-15.6m0,0l0.8,15.6m0,0l0.7,-31.5m0,0l0.7,61.8m0,0l0.8,-0m0,0l0.7,-41.2m0,0l0.7,10.9m0,0l0.8,-0m0,0l0.7,21.1m0,0l0.7,-7.9m0,0l0.8,-13.2m0,0l0.7,13.2m0,0l0.7,-48.1m0,0l0.8,29.2m0,0l0.7,-9.9m0,0l0.7,21.8m0,0l0.8,14.9m0,0" fill="none" stroke="#000080" stroke-width="4.2" stroke-dasharray="1.6 8.4" stroke-linecap="round" stroke-linejoin="round"/><path d="M220.1,648.6L220.5,634.0L220.9,612.0L221.4,590.1L221.8,573.2L222.2,557.9L222.6,542.7L223.0,526.2L223.4,507.3L223.9,484.0L224.3,453.5L224.7,418.8L225.1,383.8L225.5,347.9L226.0,310.8L226.4,277.0L226.8,245.3L227.2,214.5L227.6,188.0L228.0,169.6L228.5,157.6L228.9,147.7L229.3,139.4L229.7,132.4L230.1,126.2L230.6,120.5L231.0,115.2L231.4,110.4L231.8,105.9L232.2,101.9L232.6,98.2L233.1,94.8L233.5,91.7L233.9,88.6L234.3,85.4L234.7,82.3L235.2,79.5L235.6,77.0L236.0,75.0L236.4,73.6L236.8,72.9L237.3,73.1L237.7,74.2L238.1,76.1L238.5,78.5L238.9,81.4L239.3,84.6L239.8,88.1L240.2,91.6L240.6,95.4L241.0,100.1L241.4,105.6L241.9,111.7L242.3,118.2L242.7,125.1L243.1,133.2L243.5,142.4L243.9,152.1L244.4,161.3L244.8,169.6L245.2,177.0L245.6,184.0L246.0,190.5L246.5,196.2L246.9,201.2L247.3,205.9L247.7,210.3L248.1,214.3L248.5,217.9L249.0,221.0L249.4,223.7L249.8,225.9L250.2,228.0L250.6,229.8L251.1,231.5L251.5,233.2L251.9,235.0L252.3,236.8L252.7,238.7L253.1,240.5L253.6,242.4L254.0,244.2L254.4,246.0L254.8,247.8L255.2,249.5L255.7,251.2L256.1,252.9L256.5,254.4L256.9,255.9L257.3,257.3L257.7,258.6L258.2,259.9L258.6,261.2L259.0,262.4L259.4,263.5L259.8,264.7L260.3,265.8L260.7,266.8L261.1,267.9L261.5,268.9L261.9,269.9L262.4,270.9L262.8,271.9L263.2,272.9L263.6,273.8L264.0,274.8L264.4,275.7L264.9,276.6L265.3,277.5L265.7,278.5L266.1,279.4L266.5,280.3L267.0,281.3L267.4,282.2L267.8,283.1L268.2,284.1L268.6,285.0L269.0,286.0L269.5,286.9L269.9,287.9L270.3,288.8L270.7,289.8L271.1,290.7L271.6,291.7L272.0,292.6L272.4,293.5L272.8,294.4L273.2,295.4L273.6,296.3L274.1,297.2L274.5,298.0L274.9,298.9L275.3,299.8L275.7,300.6L276.2,301.4L276.6,302.3L277.0,303.0L277.4,303.8L277.8,304.6L278.2,305.3L278.7,306.1L279.1,306.8L279.5,307.4L279.9,308.1L280.3,308.7L280.8,309.3L281.2,309.9L281.6,310.5L282.0,311.1L282.4,311.6L282.9,312.2L283.3,312.7L283.7,313.2L284.1,313.8L284.5,314.3L284.9,314.8L285.4,315.3L285.8,315.8L286.2,316.3L286.6,316.7L287.0,317.2L287.5,317.7L287.9,318.1L288.3,318.6L288.7,319.0L289.1,319.5L289.5,319.9L290.0,320.3L290.4,320.8L290.8,321.2L291.2,321.6L291.6,322.0L292.1,322.4L292.5,322.8L292.9,323.2L293.3,323.7L293.7,324.1L294.1,324.5L294.6,324.9L295.0,325.3L295.4,325.7L295.8,326.1L296.2,326.5L296.7,326.9L297.1,327.3L297.5,327.7L297.9,328.1L298.3,328.5L298.7,328.9L299.2,329.3L299.6,329.7L300.0,330.1L300.4,330.5L300.8,330.9L301.3,331.3L301.7,331.8L302.1,332.2L302.5,332.6L302.9,333.0L303.4,333.4L303.8,333.9L304.2,334.3L304.6,334.7L305.0,335.1L305.4,335.5L305.9,335.9L306.3,336.3L306.7,336.7L307.1,337.1L307.5,337.5L308.0,337.9L308.4,338.3L308.8,338.7L309.2,339.1L309.6,339.5L310.0,339.9L310.5,340.4L310.9,340.8L311.3,341.2L311.7,341.6L312.1,342.0L312.6,342.5L313.0,342.9L313.4,343.3L313.8,343.8L314.2,344.2L314.6,344.6L315.1,345.1L315.5,345.5L315.9,346.0L316.3,346.4L316.7,346.8L317.2,347.3L317.6,347.7L318.0,348.2L318.4,348.6L318.8,349.1L319.2,349.5L319.7,350.0L320.1,350.4L320.5,350.9L320.9,351.3L321.3,351.7L321.8,352.2L322.2,352.6L322.6,353.1L323.0,353.5L323.4,354.0L323.9,354.4L324.3,354.8L324.7,355.3L325.1,355.7L325.5,356.1L325.9,356.6L326.4,357.0L326.8,357.4L327.2,357.9L327.6,358.3L328.0,358.7L328.5,359.1L328.9,359.6L329.3,360.0L329.7,360.4L330.1,360.8L330.5,361.2L331.0,361.6L331.4,362.0L331.8,362.4L332.2,362.8L332.6,363.2L333.1,363.6L333.5,364.0L333.9,364.4L334.3,364.8L334.7,365.2L335.1,365.6L335.6,366.0L336.0,366.4L336.4,366.7L336.8,367.1L337.2,367.5L337.7,367.9L338.1,368.3L338.5,368.7L338.9,369.1L339.3,369.4L339.7,369.8L340.2,370.2L340.6,370.6L341.0,370.9L341.4,371.3L341.8,371.7L342.3,372.1L342.7,372.4L343.1,372.8L343.5,373.1L343.9,373.5L344.4,373.9L344.8,374.2L345.2,374.6L345.6,374.9L346.0,375.3L346.4,375.6L346.9,376.0L347.3,376.3L347.7,376.6L348.1,377.0L348.5,377.3L349.0,377.6L349.4,377.9L349.8,378.3L350.2,378.6L350.6,378.9L351.0,379.2L351.5,379.5L351.9,379.8L352.3,380.1L352.7,380.5L353.1,380.8L353.6,381.1L354.0,381.4L354.4,381.7L354.8,382.0L355.2,382.3L355.6,382.6L356.1,382.8L356.5,383.1L356.9,383.4L357.3,383.7L357.7,384.0L358.2,384.3L358.6,384.6L359.0,384.9L359.4,385.1L359.8,385.4L360.2,385.7L360.7,386.0L361.1,386.2L361.5,386.5L361.9,386.8L362.3,387.1L362.8,387.3L363.2,387.6L363.6,387.9L364.0,388.2L364.4,388.4L364.9,388.7L365.3,389.0L365.7,389.2L366.1,389.5L366.5,389.8L366.9,390.0L367.4,390.3L367.8,390.5L368.2,390.8L368.6,391.1L369.0,391.3L369.5,391.6L369.9,391.8L370.3,392.1L370.7,392.4L371.1,392.6L371.5,392.9L372.0,393.1L372.4,393.4L372.8,393.7L373.2,393.9L373.6,394.2L374.1,394.4L374.5,394.7L374.9,394.9L375.3,395.2L375.7,395.4L376.1,395.7L376.6,396.0L377.0,396.2L377.4,396.5L377.8,396.7L378.2,397.0L378.7,397.2L379.1,397.5L379.5,397.8L379.9,398.0L380.3,398.3L380.7,398.5L381.2,398.8L381.6,399.0L382.0,399.3L382.4,399.6L382.8,399.8L383.3,400.1L383.7,400.3L384.1,400.6L384.5,400.8L384.9,401.1L385.3,401.4L385.8,401.6L386.2,401.9L386.6,402.1L387.0,402.4L387.4,402.6L387.9,402.9L388.3,403.1L388.7,403.4L389.1,403.7L389.5,403.9L390.0,404.2L390.4,404.4L390.8,404.7L391.2,404.9L391.6,405.2L392.0,405.4L392.5,405.7L392.9,405.9L393.3,406.2L393.7,406.4L394.1,406.7L394.6,406.9L395.0,407.2L395.4,407.4L395.8,407.7L396.2,407.9L396.6,408.2L397.1,408.4L397.5,408.7L397.9,408.9L398.3,409.1L398.7,409.4L399.2,409.6L399.6,409.9L400.0,410.1L400.4,410.3L400.8,410.6L401.2,410.8L401.7,411.1L402.1,411.3L402.5,411.5L402.9,411.8L403.3,412.0L403.8,412.2L404.2,412.4L404.6,412.7L405.0,412.9L405.4,413.1L405.8,413.4L406.3,413.6L406.7,413.8L407.1,414.0L407.5,414.2L407.9,414.5L408.4,414.7L408.8,414.9L409.2,415.1L409.6,415.3L410.0,415.5L410.5,415.8L410.9,416.0L411.3,416.2L411.7,416.4L412.1,416.6L412.5,416.8L413.0,417.0L413.4,417.2L413.8,417.4L414.2,417.6L414.6,417.8L415.1,418.0L415.5,418.2L415.9,418.3L416.3,418.5L416.7,418.7L417.1,418.9L417.6,419.1L418.0,419.3L418.4,419.5L418.8,419.6L419.2,419.8L419.7,420.0L420.1,420.2L420.5,420.4L420.9,420.5L421.3,420.7L421.7,420.9L422.2,421.1L422.6,421.2L423.0,421.4L423.4,421.6L423.8,421.8L424.3,421.9L424.7,422.1L425.1,422.3L425.5,422.5L425.9,422.6L426.3,422.8L426.8,423.0L427.2,423.1L427.6,423.3L428.0,423.5L428.4,423.7L428.9,423.8L429.3,424.0L429.7,424.2L430.1,424.4L430.5,424.5L431.0,424.7L431.4,424.9L431.8,425.1L432.2,425.3L432.6,425.4L433.0,425.6L433.5,425.8L433.9,426.0L434.3,426.2L434.7,426.4L435.1,426.6L435.6,426.7L436.0,426.9L436.4,427.1L436.8,427.3L437.2,427.5L437.6,427.7L438.1,427.9L438.5,428.1L438.9,428.3L439.3,428.5L439.7,428.7L440.2,428.9L440.6,429.1L441.0,429.3L441.4,429.6L441.8,429.8L442.2,430.0L442.7,430.2L443.1,430.5L443.5,430.7L443.9,430.9L444.3,431.2L444.8,431.4L445.2,431.6L445.6,431.9L446.0,432.1L446.4,432.4L446.8,432.6L447.3,432.9L447.7,433.2L448.1,433.4L448.5,433.7L448.9,434.0L449.4,434.2L449.8,434.5L450.2,434.8L450.6,435.0L451.0,435.3L451.5,435.6L451.9,435.8L452.3,436.1L452.7,436.4L453.1,436.7L453.5,437.0L454.0,437.2" fill="none" stroke="#6a20c0" stroke-width="2.6" stroke-linejoin="round"/><path d="M194.8,539.2L209.4,540.4" stroke="#6a20c0" stroke-width="2.6" fill="none"/><path d="M195.8,572.8l0.8,41.2m0,0M198,531.7M199.5,614l0.7,0m0,0l0.8,0m0,0l0.7,0m0,0M204.6,572.8M206.1,614M207.5,614l0.8,0m0,0l0.7,-41.2m0,0M211.9,572.8l0.8,41.2m0,0l0.7,-82.3m0,0l0.7,82.3m0,0l0.8,-65.2m0,0l0.7,24m0,0l0.7,-24m0,0l0.8,65.2m0,0l0.7,-65.2m0,0l0.7,24m0,0M220.7,614l0.8,-82.3m0,0l0.7,17.1m0,0l0.7,65.2m0,0l0.8,-115.5m0,0l0.7,-80.1m0,0l0.7,-41.1m0,0l0.8,-68m0,0l0.7,-53.4m0,0l0.7,-55.2m0,0l0.7,-39.3m0,0l0.8,-17.1m0,0l0.7,-17.4m0,0l0.7,-9.3m0,0l0.8,-8.4m0,0l0.7,-9.6m0,0l0.7,-5.4m0,0l0.8,-6.6m0,0l0.7,-7m0,0l0.7,-4.8m0,0l0.8,-4.5m0,0l0.7,-4.3m0,0l0.7,-1.2m0,0l0.8,0.8m0,0l0.7,3.8m0,0l0.7,3.4m0,0l0.8,6.4m0,0l0.7,7m0,0l0.7,9.9m0,0l0.8,10.3m0,0l0.8,12.4m0,0l0.8,18m0,0l0.9,19.7m0,0l0.8,13.4m0,0l0.9,10.9m0,0l0.9,20.8m0,0l1,14.3m0,0l0.9,10m0,0l1,8.6m0,0l1.1,17.1m0,0l1,2.9m0,0l1.1,9.7m0,0l1.1,-1.3m0,0l1.1,12.9m0,0l1.2,1m0,0l1.2,6.7m0,0l1.2,-0.9m0,0l1.3,14m0,0l1.3,-1.2m0,0l1.4,0.3m0,0l1.3,4.4m0,0l1.5,3.8m0,0l1.4,15.9m0,0l1.5,-7.6m0,0l1.5,3.5m0,0l1.4,3.2m0,0l1.5,-6.3m0,0l1.4,15.8m0,0l1.5,-8.6m0,0l1.5,5.8m0,0l1.4,-2.8m0,0l1.5,-1.7m0,0l1.5,10.9m0,0l1.4,4.9m0,0l1.5,0.5m0,0l1.5,-3.3m0,0l1.4,12.6m0,0l1.5,-19.7m0,0l1.5,12.7m0,0l1.4,-2.8m0,0l1.5,9.8m0,0l1.4,-3.3m0,0l1.5,-4.8m0,0l1.5,10.8m0,0l1.4,6.6m0,0l1.5,-9.3m0,0l1.5,0.6m0,0l1.4,7.2m0,0l1.5,-0.8m0,0l1.5,-5.7m0,0l1.4,16.4m0,0l1.5,-1.8m0,0l1.5,-8.1m0,0l1.4,6.4m0,0l1.5,7.2m0,0l1.4,8.2m0,0l1.5,-19.5m0,0l1.5,16.3m0,0l1.4,-7.8m0,0l1.5,-2.7m0,0l1.5,27.2m0,0l1.4,-18.8m0,0l1.5,8.7m0,0l1.5,-1.2m0,0l1.4,-1.1m0,0l1.5,11.1m0,0l1.5,-28.4m0,0l1.4,32.5m0,0l1.5,-1.4m0,0l1.4,-10.3m0,0l1.5,11.7m0,0l1.5,-1.4m0,0l1.4,-7.9m0,0l1.5,27.9m0,0l1.5,-20m0,0l1.4,1.4m0,0l1.5,9.4m0,0l1.5,-14.9m0,0l1.4,14.9m0,0l1.5,11.2m0,0l1.5,-19.1m0,0l1.4,17.1m0,0l1.5,-25.4m0,0l1.4,41.1m0,0l1.5,-21.4m0,0l1.5,0m0,0l1.4,-6.8m0,0l1.5,21m0,0l1.5,-12.4m0,0l1.4,5.9m0,0l1.5,-2m0,0l1.5,18.4m0,0l1.4,-30.9m0,0l1.5,21m0,0l1.5,-10.5m0,0l1.4,20.4m0,0l1.5,-20.4m0,0l1.4,20.4m0,0l1.5,8.7m0,0l1.5,-29.1m0,0l1.4,17.7m0,0l1.5,-21.4m0,0l1.5,18.9m0,0l1.4,-2.4m0,0l1.5,0m0,0l1.5,-4.6m0,0l1.4,7m0,0l1.5,-11.2m0,0l1.4,31.7m0,0l1.5,-41.1m0,0l1.4,25.8m0,0l1.5,-9.9m0,0l1.4,15.5m0,0l1.4,-13.2m0,0l1.4,16.3m0,0l1.4,-11.4m0,0l1.4,-2.5m0,0l1.4,-13.2m0,0l1.3,6.2m0,0l1.4,17.8m0,0l1.3,9.7m0,0l1.4,-15.3m0,0l1.3,-7.6m0,0l1.3,13.2m0,0l1.3,9.7m0,0l1.3,7.4m0,0l1.3,0m0,0l1.3,-7.4m0,0l1.2,-6.6m0,0l1.3,-11.4m0,0l1.3,-9.5m0,0l1.2,14.9m0,0l1.2,6m0,0l1.3,44.3m0,0l1.2,-53m0,0l1.2,15.3m0,0l1.2,-9.7m0,0l1.2,0m0,0l1.2,17.1m0,0l1.1,-27.9m0,0l1.2,41.1m0,0l1.2,-33.2m0,0l1.1,16.2m0,0l1.2,12.3m0,0l1.1,-15.9m0,0l1.1,0m0,0l1.1,-9.7m0,0l1.2,13.3m0,0l1.1,27.9m0,0l1.1,-15.6m0,0l1,-4.4m0,0l1.1,-11.5m0,0l1.1,7.4m0,0l1.1,-20m0,0l1,9.2m0,0l1.1,29.2m0,0l1,-9.9m0,0l1.1,-25.6m0,0l1,13.3m0,0l1,3.8m0,0l1,37.3m0,0l1,-33.2m0,0l1,-21.2m0,0l1,35.5m0,0l1,5.7m0,0l1,-27.9m0,0l1,-10.2m0,0l0.9,32.4m0,0l1,-5.2m0,0l0.9,-13.2m0,0l1,45.2m0,0l0.9,-41.1m0,0l1,-14.9m0,0l0.9,19.3m0,0l0.9,9.9m0,0l0.9,-18.4m0,0l0.9,24.1m0,0l0.9,-38.1m0,0l0.9,27.2m0,0l0.9,24.1m0,0l0.9,-33.2m0,0l0.9,9.1m0,0l0.8,-9.1m0,0l0.9,4.4m0,0l0.9,-15.9m0,0l0.8,44.7m0,0l0.9,-37.3m0,0l0.8,8.5m0,0l0.8,-4.4m0,0l0.9,26.2m0,0l0.8,24.1m0,0l0.8,-58.2m0,0l0.8,34.1m0,0l0.8,-44.3m0,0l0.8,32.4m0,0l0.8,5.7m0,0l0.8,6.2m0,0l0.8,24.1m0,0l0.8,-50.3m0,0l0.7,26.2m0,0l0.8,-11.9m0,0l0.8,-9.9m0,0l0.7,4.7m0,0l0.8,-13.2m0,0l0.7,24.1m0,0l0.7,-27.9m0,0l0.8,27.9m0,0l0.7,13.2m0,0l0.7,7.9m0,0l0.8,-45.2m0,0l0.7,13.2m0,0l0.7,-17m0,0l0.8,34.1m0,0l0.7,-6.2m0,0l0.7,-15.6m0,0l0.8,9.9m0,0l0.7,-0m0,0l0.7,11.9m0,0l0.8,-21.8m0,0l0.7,4.7m0,0l0.7,82.3m0,0l0.8,-50.3m0,0l0.7,-67.9m0,0l0.7,31.2m0,0l0.8,21.8m0,0l0.7,0m0,0l0.7,0m0,0l0.8,-21.8m0,0l0.7,-12.3m0,0l0.7,49m0,0l0.8,-26.8m0,0l0.7,-5.2m0,0l0.7,41.2m0,0l0.7,-24.1m0,0l0.8,-6.2m0,0l0.7,21.1m0,0l0.7,-26.8m0,0l0.8,5.7m0,0l0.7,41.1m0,0l0.7,-34.9m0,0l0.8,-17.1m0,0l0.7,24.1m0,0l0.7,0m0,0l0.8,17.1m0,0l0.7,-45.9m0,0l0.7,-4.4m0,0l0.8,14.3m0,0l0.7,-18.4m0,0l0.7,54.4m0,0l0.8,-41.2m0,0l0.7,82.3m0,0l0.7,-58.2m0,0l0.8,-24.1m0,0l0.7,10.9m0,0l0.7,6.2m0,0l0.8,14.9m0,0l0.7,-21.1m0,0l0.7,-20m0,0l0.8,50.3m0,0l0.7,-36m0,0l0.7,11.9m0,0l0.7,0m0,0l0.8,-17.1m0,0l0.7,32m0,0l0.7,0m0,0l0.8,20m0,0l0.7,-82.3m0,0l0.7,35.5m0,0l0.8,36m0,0l0.7,-9.2m0,0l0.7,-14.9m0,0l0.8,-6.2m0,0l0.7,21.1m0,0l0.7,-14.9m0,0l0.8,-11.9m0,0l0.7,77.1m0,0l0.7,-50.3m0,0l0.8,20m0,0l0.7,-41.1m0,0l0.7,21.1m0,0l0.8,-41.1m0,0l0.7,9.1m0,0l0.7,10.9m0,0l0.8,41.1m0,0l0.7,-27.9m0,0l0.7,-7m0,0l0.8,0m0,0l0.7,0m0,0l0.7,89.2m0,0l0.7,-101.1m0,0l0.8,0m0,0l0.7,26.8m0,0l0.7,20m0,0l0.8,-61.1m0,0l0.7,33.2m0,0l0.7,17.1m0,0l0.8,-36m0,0l0.7,11.9m0,0l0.7,24.1m0,0l0.8,-30.3m0,0l0.7,13.2m0,0l0.7,-7m0,0l0.8,-34.1m0,0l0.7,82.2m0,0l0.7,-33.2m0,0l0.8,9.2m0,0l0.7,-9.2m0,0l0.7,-26.8m0,0l0.8,-9.9m0,0l0.7,28.8m0,0l0.7,27.9m0,0l0.8,-34.9m0,0l0.7,14.9m0,0l0.7,9.2m0,0l0.7,24m0,0l0.8,-54.3m0,0l0.7,71.4m0,0l0.7,-65.2m0,0l0.8,-6.2m0,0l0.7,21.1m0,0l0.7,0m0,0l0.8,-21.1m0,0l0.7,30.3m0,0l0.7,-41.2m0,0l0.8,24.1m0,0l0.7,27.9m0,0l0.7,-20m0,0l0.8,9.2m0,0l0.7,-36m0,0l0.7,-14.3m0,0l0.8,20m0,0l0.7,13.2m0,0l0.7,-7m0,0l0.8,34.9m0,0l0.7,-27.9m0,0l0.7,82.2m0,0l0.8,-82.2m0,0l0.7,-13.2m0,0l0.7,13.2m0,0l0.8,17.1m0,0l0.7,10.8m0,0l0.7,-34.9m0,0l0.7,-11.9m0,0l0.8,101.1m0,0l0.7,-65.1m0,0l0.7,-41.2m0,0l0.8,41.2m0,0l0.7,-9.2m0,0l0.7,-0m0,0l0.8,-14.9m0,0l0.7,-6.2m0,0l0.7,6.2m0,0l0.8,-34.1m0,0l0.7,99.3m0,0l0.7,-58.2m0,0l0.8,27.9m0,0l0.7,30.3m0,0l0.7,-71.4m0,0l0.8,13.2m0,0l0.7,7.9m0,0l0.7,-32m0,0l0.8,32m0,0l0.7,9.2m0,0l0.7,10.8m0,0l0.8,-34.9m0,0l0.7,-6.2m0,0l0.7,-5.7m0,0l0.8,11.9m0,0l0.7,24.1m0,0l0.7,-54.4m0,0l0.7,78.4m0,0l0.8,-33.2m0,0l0.7,-0m0,0l0.7,-7.9m0,0l0.8,-7m0,0l0.7,48.1m0,0l0.7,-48.1m0,0l0.8,14.9m0,0l0.7,-32m0,0l0.7,10.9m0,0l0.8,41.1m0,0l0.7,54.3m0,0l0.7,-74.3m0,0l0.8,-7.9m0,0l0.7,0m0,0l0.7,27.9m0,0l0.8,-20m0,0l0.7,50.3m0,0l0.7,-65.2m0,0l0.8,-11.9m0,0l0.7,26.8m0,0l0.7,33.2m0,0l0.8,-65.2m0,0l0.7,10.9m0,0l0.7,30.3m0,0l0.8,-17.1m0,0l0.7,58.2m0,0l0.7,-77.1m0,0l0.7,-0m0,0l0.8,46.8m0,0l0.7,-10.8m0,0l0.7,0m0,0l0.8,-17.1m0,0l0.7,0m0,0l0.7,-13.2m0,0l0.8,21.1m0,0l0.7,9.2m0,0l0.7,0m0,0l0.8,10.8m0,0l0.7,-56.7m0,0l0.7,15.6m0,0l0.8,-0m0,0l0.7,13.2m0,0l0.7,7.9m0,0l0.8,33.2m0,0l0.7,-41.1m0,0l0.7,27.9m0,0l0.8,-20m0,0l0.7,-14.9m0,0l0.7,65.2m0,0l0.8,-65.2m0,0l0.7,-21.8m0,0l0.7,36.7m0,0l0.8,9.2m0,0l0.7,-36m0,0l0.7,46.8m0,0l0.7,-27.9m0,0l0.8,0m0,0l0.7,17.1m0,0l0.7,-9.2m0,0l0.8,-14.9m0,0l0.7,65.2m0,0l0.7,-77.1m0,0l0.8,36m0,0l0.7,-30.3m0,0l0.7,54.3m0,0l0.8,-60m0,0l0.7,-9.9m0,0l0.7,36.7m0,0l0.8,20m0,0l0.7,30.3m0,0l0.7,-50.3m0,0l0.8,9.2m0,0l0.7,-9.2m0,0l0.7,-14.9m0,0l0.8,7m0,0l0.7,27.9m0,0l0.7,-20m0,0l0.8,-21.1m0,0l0.7,13.2m0,0l0.7,7.9m0,0l0.8,9.2m0,0l0.7,-24.1m0,0l0.7,7m0,0l0.7,-33.2m0,0l0.8,115.4m0,0l0.7,-82.2m0,0l0.7,0m0,0l0.8,41.1m0,0l0.7,-24m0,0l0.7,10.8m0,0l0.8,0m0,0l0.7,-41.1m0,0l0.7,21.1m0,0l0.8,-14.9m0,0l0.7,-17.1m0,0l0.7,52m0,0l0.8,30.3m0,0l0.7,-58.2m0,0l0.7,7.9m0,0l0.8,-21.1m0,0l0.7,13.2m0,0l0.7,17.1m0,0l0.8,-41.2m0,0l0.7,17.1m0,0l0.7,34.9m0,0l0.8,-20m0,0l0.7,9.2m0,0l0.7,-9.2m0,0l0.8,20m0,0l0.7,-10.8m0,0l0.7,-36m0,0l0.7,5.7m0,0l0.8,95.4m0,0l0.7,-89.2m0,0l0.7,7m0,0l0.8,58.2m0,0l0.7,-71.4m0,0l0.7,54.3m0,0l0.8,-41.1m0,0l0.7,-7m0,0l0.7,34.9m0,0l0.8,-20m0,0l0.7,-26.8m0,0l0.7,18.9m0,0l0.8,7.9m0,0l0.7,20m0,0l0.7,-41.1m0,0l0.8,95.4m0,0l0.7,-82.2m0,0l0.7,0m0,0l0.8,7.9m0,0l0.7,-14.9m0,0l0.7,34.9m0,0l0.8,-10.8m0,0l0.7,-45.9m0,0l0.7,0m0,0l0.8,15.6m0,0l0.7,41.1m0,0l0.7,-20m0,0l0.7,-7.9m0,0l0.8,17.1m0,0l0.7,-24.1m0,0l0.7,24.1m0,0l0.8,41.1m0,0l0.7,-50.3m0,0l0.7,-14.9m0,0l0.8,89.2m0,0l0.7,-101.1m0,0l0.7,18.9m0,0l0.8,-33.2m0,0l0.7,61.1m0,0l0.7,0m0,0l0.8,-20m0,0l0.7,-7.9m0,0l0.7,17.1m0,0l0.8,-17.1m0,0l0.7,17.1m0,0l0.7,-24.1m0,0l0.8,-34.1m0,0l0.7,49m0,0l0.7,-21.1m0,0l0.8,54.3m0,0l0.7,-13.2m0,0l0.7,-27.9m0,0l0.8,27.9m0,0l0.7,-20m0,0l0.7,-14.9m0,0l0.7,130.4m0,0l0.8,-136.6m0,0l0.7,54.3m0,0l0.7,-33.2m0,0l0.8,9.2m0,0l0.7,0m0,0l0.7,-41.2m0,0l0.8,24.1m0,0l0.7,-7m0,0l0.7,48.1m0,0l0.8,0m0,0l0.7,-33.2m0,0l0.7,0m0,0l0.8,9.2m0,0l0.7,-45.9m0,0l0.7,28.8m0,0l0.8,-13.2m0,0l0.7,41.1m0,0l0.7,0m0,0l0.8,13.2m0,0l0.7,41.1m0,0l0.7,-74.3m0,0l0.8,-32m0,0l0.7,24.1m0,0l0.7,-13.2m0,0l0.8,6.2m0,0l0.7,24.1m0,0l0.7,-9.2m0,0l0.7,33.2m0,0l0.8,-13.2m0,0l0.7,-10.8m0,0l0.7,0m0,0l0.8,-9.2m0,0l0.7,-7.9m0,0l0.7,7.9m0,0l0.8,-21.1m0,0l0.7,-10.9m0,0l0.7,17.1m0,0l0.8,48.1m0,0l0.7,-69.9m0,0l0.7,87m0,0l0.8,-41.1m0,0l0.7,-17.1m0,0l0.7,-7m0,0l0.8,14.9m0,0l0.7,0m0,0l0.7,-21.1m0,0l0.8,41.1m0,0l0.7,-46.8m0,0l0.7,26.8m0,0l0.8,-7.9m0,0l0.7,17.1m0,0l0.7,10.8m0,0l0.7,-34.9m0,0l0.8,-17.1m0,0l0.7,82.3m0,0l0.7,-50.3m0,0l0.8,33.2m0,0l0.7,-41.1m0,0l0.7,17.1m0,0l0.8,24m0,0l0.7,-33.2m0,0l0.7,-26.8m0,0l0.8,11.9m0,0l0.7,24.1m0,0l0.7,65.1m0,0l0.8,-74.3m0,0l0.7,-26.8m0,0l0.7,11.9m0,0l0.8,65.2m0,0l0.7,-58.2m0,0l0.7,-24.1m0,0l0.8,65.2m0,0l0.7,-24m0,0l0.7,-9.2m0,0l0.8,9.2m0,0l0.7,-9.2m0,0l0.7,-21.1m0,0l0.8,95.4m0,0l0.7,-101.1m0,0l0.7,5.7m0,0l0.7,6.2m0,0l0.8,7m0,0l0.7,17.1m0,0l0.7,10.8m0,0l0.8,-20m0,0l0.7,20m0,0l0.7,-20m0,0l0.8,0m0,0l0.7,-26.8m0,0l0.7,11.9m0,0l0.8,34.9m0,0l0.7,-20m0,0l0.7,33.2m0,0l0.8,17.1m0,0l0.7,-41.1m0,0l0.7,-17.1m0,0l0.8,-18.9m0,0l0.7,0m0,0l0.7,5.7m0,0l0.8,6.2m0,0l0.7,24.1m0,0l0.7,-17.1m0,0l0.8,41.1m0,0l0.7,-33.2m0,0l0.7,20m0,0l0.8,-20m0,0l0.7,33.2m0,0l0.7,-13.2m0,0l0.7,-34.9m0,0l0.8,7m0,0l0.7,-18.9m0,0l0.7,5.7m0,0l0.8,41.1m0,0l0.7,-20m0,0l0.7,9.2m0,0l0.8,-9.2m0,0l0.7,33.2m0,0l0.7,-65.2m0,0l0.8,65.2m0,0l0.7,-48.1m0,0l0.7,89.2m0,0l0.8,-101.1m0,0l0.7,18.9m0,0l0.7,17.1m0,0l0.8,-9.2m0,0l0.7,20m0,0l0.7,-20m0,0l0.8,33.2m0,0l0.7,-33.2m0,0l0.7,-7.9m0,0l0.8,0m0,0l0.7,-24.1m0,0l0.7,41.2m0,0l0.8,10.8m0,0l0.7,-41.1m0,0l0.7,6.2m0,0l0.7,34.9m0,0l0.8,30.3m0,0l0.7,-41.1m0,0l0.7,10.8m0,0l0.8,-10.8m0,0l0.7,-50.3m0,0l0.7,20m0,0l0.8,21.1m0,0l0.7,-7.9m0,0l0.7,17.1m0,0l0.8,-24.1m0,0l0.7,34.9m0,0l0.7,-20m0,0l0.8,-14.9m0,0l0.7,-11.9m0,0l0.7,77.1m0,0l0.8,-58.2m0,0l0.7,17.1m0,0l0.7,24m0,0l0.8,-48.1m0,0l0.7,14.9m0,0l0.7,9.2m0,0l0.8,0m0,0l0.7,10.8m0,0l0.7,13.2m0,0l0.8,-48.1m0,0l0.7,7m0,0l0.7,-18.9m0,0l0.7,60m0,0l0.8,-33.2m0,0l0.7,-21.1m0,0l0.7,30.3m0,0l0.8,-17.1m0,0l0.7,17.1m0,0l0.7,-45.9m0,0l0.8,69.9m0,0l0.7,-33.2m0,0l0.7,-21.1m0,0l0.8,54.3m0,0l0.7,-13.2m0,0l0.7,-34.9m0,0l0.8,14.9m0,0l0.7,33.2m0,0l0.7,-60m0,0l0.8,101.1m0,0l0.7,-74.3m0,0l0.7,20m0,0l0.8,-27.9m0,0l0.7,0m0,0l0.7,-28.8m0,0l0.8,45.9m0,0l0.7,10.8m0,0l0.7,-10.8m0,0l0.8,-9.2m0,0l0.7,0m0,0l0.7,-7.9m0,0l0.7,27.9m0,0l0.8,-41.1m0,0l0.7,-10.9m0,0l0.7,82.3m0,0l0.8,-65.2m0,0l0.7,-6.2m0,0l0.7,13.2m0,0l0.8,7.9m0,0l0.7,9.2m0,0l0.7,-36m0,0l0.8,60m0,0l0.7,-24m0,0l0.7,-9.2m0,0l0.8,50.3m0,0l0.7,-65.2m0,0l0.7,24.1m0,0l0.8,24m0,0l0.7,-13.2m0,0l0.7,13.2m0,0l0.8,-65.2m0,0l0.7,17.1m0,0l0.7,24.1m0,0l0.8,-17.1m0,0l0.7,7.9m0,0l0.7,-21.1m0,0l0.8,41.1m0,0l0.7,-41.1m0,0l0.7,21.1m0,0l0.7,50.3m0,0l0.8,-41.1m0,0l0.7,-24.1m0,0l0.7,-37.7m0,0l0.8,85.8m0,0l0.7,-33.2m0,0l0.7,-7.9m0,0l0.8,7.9m0,0l0.7,-36.7m0,0l0.7,15.6m0,0l0.8,41.1m0,0l0.7,-10.8m0,0l0.7,-24.1m0,0l0.8,7m0,0l0.7,0m0,0l0.7,41.1m0,0l0.8,17.1m0,0l0.7,-58.2m0,0l0.7,-18.9m0,0l0.8,46.8m0,0l0.7,-41.1m0,0l0.7,30.3m0,0l0.8,-17.1m0,0l0.7,0m0,0l0.7,41.1m0,0l0.8,-24m0,0l0.7,41.1m0,0l0.7,-58.2m0,0l0.7,41.1m0,0l0.8,-33.2m0,0l0.7,9.2m0,0l0.7,-9.2m0,0l0.8,20m0,0l0.7,-41.1m0,0l0.7,-5.7m0,0l0.8,77.1m0,0l0.7,-65.2m0,0l0.7,14.9m0,0l0.8,20m0,0l0.7,-27.9m0,0l0.7,41.1m0,0l0.8,-48.1m0,0l0.7,-26.2m0,0l0.7,33.2m0,0l0.8,17.1m0,0l0.7,-30.3m0,0l0.7,71.4m0,0l0.8,-71.4m0,0l0.7,6.2m0,0l0.7,24.1m0,0l0.8,-17.1m0,0l0.7,7.9m0,0l0.7,-26.8m0,0l0.8,77.1m0,0l0.7,-41.1m0,0l0.7,10.8m0,0l0.7,0m0,0l0.8,-61.1m0,0l0.7,33.2m0,0l0.7,7.9m0,0l0.8,50.3m0,0l0.7,-30.3m0,0l0.7,-10.8m0,0l0.8,-24.1m0,0l0.7,48.1m0,0l0.7,-41.1m0,0l0.8,7.9m0,0l0.7,20m0,0l0.7,-27.9m0,0l0.8,7.9m0,0l0.7,115.5m0,0l0.7,-136.6m0,0l0.8,6.2m0,0l0.7,-17.1m0,0l0.7,41.2m0,0l0.8,24m0,0l0.7,-24m0,0l0.7,-30.3m0,0l0.8,41.1m0,0l0.7,54.3m0,0l0.7,-82.2m0,0l0.8,7.9m0,0l0.7,20m0,0l0.7,-10.8m0,0l0.7,-24.1m0,0l0.8,14.9m0,0l0.7,-36.7m0,0l0.7,45.9m0,0l0.8,-9.2m0,0l0.7,20m0,0l0.7,-27.9m0,0l0.8,-24.1m0,0l0.7,17.1m0,0l0.7,-6.2m0,0l0.8,21.1m0,0l0.7,50.3m0,0l0.7,-30.3m0,0l0.8,0m0,0l0.7,-52m0,0l0.7,41.2m0,0l0.8,-9.2m0,0l0.7,0m0,0l0.7,50.3m0,0l0.8,-17.1m0,0" fill="none" stroke="#800080" stroke-width="4.2" stroke-dasharray="1.6 8.4" stroke-linecap="round" stroke-linejoin="round"/><path d="M195.8,509.6L196.1,517.4L196.4,511.8L196.6,548.5L196.9,518.4L197.1,512.1L197.4,506.1L197.7,520.4L197.9,539.8L198.2,515.6L198.4,526.8L198.7,539.7L199.0,526.6L199.2,511.5L199.5,510.3L199.8,513.9L200.0,530.3L200.3,505.8L200.5,531.1L200.8,519.6L201.1,533.4L201.3,508.9L201.6,515.2L201.8,511.9L202.1,517.5L202.4,518.6L202.6,516.7L202.9,535.7L203.2,510.7L203.4,511.2L203.7,520.9L203.9,517.2L204.2,515.0L204.5,506.5L204.7,513.9L205.0,516.3L205.2,520.8L205.5,529.3L205.8,521.2L206.0,515.6L206.3,518.0L206.6,515.3L206.8,511.2L207.1,513.0L207.3,513.8L207.6,511.5L207.9,514.1L208.1,515.2L208.4,512.2L208.6,527.8L208.9,507.7L209.2,524.0L209.4,509.8L209.7,514.1L210.0,508.3L210.2,513.7L210.5,520.3L210.7,508.2L211.0,512.5L211.3,512.7L211.5,512.7L211.8,508.2L212.0,508.9L212.3,511.5L212.6,522.1L212.8,514.7L213.1,511.6L213.4,504.2L213.6,510.0L213.9,511.9L214.1,506.2L214.4,511.5L214.7,510.7L214.9,509.7L215.2,518.0L215.4,505.9L215.7,507.6L216.0,510.3L216.2,514.3L216.5,507.5L216.8,503.0L217.0,510.7L217.3,512.4L217.5,505.9L217.8,514.2L218.1,516.8L218.3,508.9L218.6,520.0L218.8,543.5L219.1,577.4L219.4,607.1L219.6,634.2L219.9,645.7L220.1,641.8L220.4,629.7L220.7,616.5L220.9,602.4L221.2,588.8L221.5,585.9L221.7,571.0L222.0,559.1L222.2,548.3L222.5,543.9L222.8,526.6L223.0,518.4L223.3,509.1L223.5,494.5L223.8,480.9L224.1,464.0L224.3,441.2L224.6,421.4L224.9,401.2L225.1,377.8L225.4,354.7L225.6,333.3L225.9,306.6L226.2,287.8L226.4,263.9L226.7,245.2L226.9,227.6L227.2,207.2L227.5,188.9L227.7,175.6L228.0,165.7L228.3,156.0L228.5,147.3L228.8,144.8L229.0,136.6L229.3,132.2L229.6,127.9L229.8,124.1L230.1,120.2L230.3,115.0L230.6,112.0L230.9,110.8L231.1,104.5L231.4,105.1L231.7,99.6L231.9,97.5L232.2,93.8L232.4,92.4L232.7,89.3L233.0,88.4L233.2,85.3L233.5,84.1L233.7,80.5L234.0,81.7L234.3,77.1L234.5,76.1L234.8,74.5L235.1,73.9L235.3,70.7L235.6,72.3L235.8,70.8L236.1,66.4L236.4,69.2L236.6,64.0L236.9,66.1L237.1,65.4L237.4,66.1L237.7,66.5L237.9,68.6L238.2,70.0L238.5,71.1L238.7,71.2L239.0,73.0L239.2,74.8L239.5,78.2L239.8,81.2L240.0,86.3L240.3,84.3L240.5,86.4L240.8,91.2L241.1,92.3L241.3,94.9L241.6,100.4L241.9,102.8L242.1,108.0L242.4,116.4L242.6,117.9L242.9,122.6L243.2,126.2L243.4,134.7L243.7,139.8L243.9,147.0L244.2,150.8L244.5,156.2L244.7,159.7L245.0,164.5L245.3,169.8L245.5,173.6L245.8,177.6L246.0,181.5L246.3,183.0L246.6,196.2L246.8,195.6L247.1,200.1L247.3,204.3L247.6,214.9L247.9,216.8L248.1,220.6L248.4,227.8L248.7,236.0L248.9,236.1L249.2,242.3L249.4,241.5L249.7,248.6L250.0,245.8L250.2,251.6L250.5,256.4L250.7,257.6L251.0,261.3L251.3,259.1L251.5,258.4L251.8,263.7L252.0,262.6L252.3,268.9L252.6,266.9L252.8,265.2L253.1,274.7L253.4,269.2L253.6,271.0L253.9,281.2L254.1,281.5L254.4,281.8L254.7,278.2L254.9,283.3L255.2,283.8L255.4,282.8L255.7,285.2L256.0,286.0L256.2,288.5L256.5,285.6L256.8,292.1L257.0,285.9L257.3,292.4L257.5,295.0L257.8,291.1L258.1,292.5L258.3,302.4L258.6,294.8L258.8,301.7L259.1,300.3L259.4,295.3L259.6,302.1L259.9,298.1L260.2,301.5L260.4,294.9L260.7,301.6L260.9,307.3L261.2,307.7L261.5,307.5L261.7,303.4L262.0,304.5L262.2,301.6L262.5,305.1L262.8,305.8L263.0,305.7L263.3,308.0L263.6,306.9L263.8,305.5L264.1,306.0L264.3,312.5L264.6,319.9L264.9,315.1L265.1,310.0L265.4,325.2L265.6,314.9L265.9,310.8L266.2,316.4L266.4,320.4L266.7,306.3L267.0,308.2L267.2,316.6L267.5,309.2L267.7,309.7L268.0,324.0L268.3,308.2L268.5,323.8L268.8,319.6L269.0,326.1L269.3,318.3L269.6,328.9L269.8,319.7L270.1,314.0L270.4,319.3L270.6,322.9L270.9,312.3L271.1,328.9L271.4,316.3L271.7,325.0L271.9,321.7L272.2,323.2L272.4,323.0L272.7,324.6L273.0,331.5L273.2,330.0L273.5,322.4L273.8,326.7L274.0,337.0L274.3,333.1L274.5,333.5L274.8,327.7L275.1,326.4L275.3,327.4L275.6,334.9L275.8,328.7L276.1,343.2L276.4,353.9L276.6,330.3L276.9,347.6L277.2,340.6L277.4,343.7L277.7,326.4L277.9,344.7L278.2,329.8L278.5,337.6L278.7,346.2L279.0,350.4L279.2,329.6L279.5,330.6L279.8,327.7L280.0,319.7L280.3,332.5L280.6,332.7L280.8,336.7L281.1,334.8L281.3,340.1L281.6,346.8L281.9,321.4L282.1,359.1L282.4,335.1L282.6,333.8L282.9,336.6L283.2,349.9L283.4,340.9L283.7,344.5L283.9,352.4L284.2,340.0L284.5,344.9L284.7,347.0L285.0,334.2L285.3,354.1L285.5,337.0L285.8,349.1L286.0,337.7L286.3,341.3L286.6,340.0L286.8,355.3L287.1,353.0L287.3,354.4L287.6,341.8L287.9,336.5L288.1,333.5L288.4,351.1L288.7,343.8L288.9,366.9L289.2,375.4L289.4,357.4L289.7,355.0L290.0,367.6L290.2,371.1L290.5,341.3L290.7,358.3L291.0,370.9L291.3,328.9L291.5,346.1L291.8,352.7L292.1,341.4L292.3,359.7L292.6,332.3L292.8,371.7L293.1,368.8L293.4,352.0L293.6,361.6L293.9,335.4L294.1,374.7L294.4,362.1L294.7,348.8L294.9,345.6L295.2,341.0L295.5,348.5L295.7,332.3L296.0,360.3L296.2,351.3L296.5,343.9L296.8,358.9L297.0,358.9L297.3,361.9L297.5,365.0L297.8,372.9L298.1,364.2L298.3,380.1L298.6,351.7L298.9,381.5L299.1,335.5L299.4,337.5L299.6,344.6L299.9,361.0L300.2,367.3L300.4,344.1L300.7,356.3L300.9,352.3L301.2,370.6L301.5,347.0L301.7,372.5L302.0,358.7L302.3,387.9L302.5,371.1L302.8,355.0L303.0,368.5L303.3,368.7L303.6,352.5L303.8,363.3L304.1,347.8L304.3,399.0L304.6,356.2L304.9,357.2L305.1,388.5L305.4,384.8L305.7,353.7L305.9,381.7L306.2,375.0L306.4,357.8L306.7,370.7L307.0,359.7L307.2,380.0L307.5,362.4L307.7,353.4L308.0,362.6L308.3,402.7L308.5,359.3L308.8,366.6L309.1,382.6L309.3,351.3L309.6,396.9L309.8,346.3L310.1,379.3L310.4,350.2L310.6,370.2L310.9,391.6L311.1,368.6L311.4,366.1L311.7,363.8L311.9,357.9L312.2,385.9L312.5,365.2L312.7,362.5L313.0,376.4L313.2,387.7L313.5,388.3L313.8,363.4L314.0,363.1L314.3,387.1L314.5,395.9L314.8,358.5L315.1,400.0L315.3,372.2L315.6,388.1L315.8,404.3L316.1,373.4L316.4,378.6L316.6,357.9L316.9,352.9L317.2,379.4L317.4,363.7L317.7,363.7L317.9,385.8L318.2,391.9L318.5,357.5L318.7,384.0L319.0,378.5L319.2,383.3L319.5,380.9L319.8,389.1L320.0,369.6L320.3,363.6L320.6,386.0L320.8,403.4L321.1,379.3L321.3,405.8L321.6,391.6L321.9,365.4L322.1,357.7L322.4,376.5L322.6,400.0L322.9,372.0L323.2,420.9L323.4,394.5L323.7,363.4L324.0,373.4L324.2,407.1L324.5,412.3L324.7,372.8L325.0,384.9L325.3,394.6L325.5,379.1L325.8,394.8L326.0,418.5L326.3,374.9L326.6,396.9L326.8,403.4L327.1,409.4L327.4,383.0L327.6,400.7L327.9,378.7L328.1,391.9L328.4,373.4L328.7,394.5L328.9,399.5L329.2,422.8L329.4,407.8L329.7,379.3L330.0,364.9L330.2,411.4L330.5,407.9L330.8,385.2L331.0,383.7L331.3,402.3L331.5,389.3L331.8,419.4L332.1,396.4L332.3,379.5L332.6,370.3L332.8,395.0L333.1,396.9L333.4,386.4L333.6,378.2L333.9,386.5L334.2,406.7L334.4,388.7L334.7,381.0L334.9,406.9L335.2,418.4L335.5,387.8L335.7,389.9L336.0,382.3L336.2,394.1L336.5,407.4L336.8,403.9L337.0,414.9L337.3,413.7L337.6,407.0L337.8,405.9L338.1,382.5L338.3,419.9L338.6,398.8L338.9,408.9L339.1,378.6L339.4,395.0L339.6,405.8L339.9,388.3L340.2,398.4L340.4,408.5L340.7,379.5L341.0,390.7L341.2,377.4L341.5,385.3L341.7,390.6L342.0,399.4L342.3,421.6L342.5,392.3L342.8,401.0L343.0,393.2L343.3,402.9L343.6,415.8L343.8,421.9L344.1,393.9L344.4,386.2L344.6,409.4L344.9,398.0L345.1,385.7L345.4,420.3L345.7,411.4L345.9,426.2L346.2,389.4L346.4,402.1L346.7,414.7L347.0,437.2L347.2,410.0L347.5,393.1L347.7,412.7L348.0,415.3L348.3,398.7L348.5,431.0L348.8,407.2L349.1,400.0L349.3,423.2L349.6,424.4L349.8,405.5L350.1,411.2L350.4,414.0L350.6,406.7L350.9,406.8L351.1,427.7L351.4,423.1L351.7,404.3L351.9,395.3L352.2,392.3L352.5,427.4L352.7,396.3L353.0,401.1L353.2,412.6L353.5,405.3L353.8,400.8L354.0,387.7L354.3,433.0L354.5,404.6L354.8,416.0L355.1,417.5L355.3,397.6L355.6,402.3L355.9,433.5L356.1,419.7L356.4,411.1L356.6,441.8L356.9,402.6L357.2,416.5L357.4,412.8L357.7,410.6L357.9,390.1L358.2,415.1L358.5,422.9L358.7,391.6L359.0,426.0L359.3,426.7L359.5,443.5L359.8,401.4L360.0,413.0L360.3,410.4L360.6,414.8L360.8,420.1L361.1,432.9L361.3,433.0L361.6,411.7L361.9,416.2L362.1,395.0L362.4,433.2L362.7,428.1L362.9,438.6L363.2,399.2L363.4,443.1L363.7,408.1L364.0,398.8L364.2,422.2L364.5,409.2L364.7,461.3L365.0,427.5L365.3,452.5L365.5,417.6L365.8,420.2L366.1,435.6L366.3,407.0L366.6,415.6L366.8,431.2L367.1,431.1L367.4,450.1L367.6,425.0L367.9,394.9L368.1,435.6L368.4,415.6L368.7,432.7L368.9,410.4L369.2,415.7L369.5,426.9L369.7,457.6L370.0,432.7L370.2,405.3L370.5,427.6L370.8,413.8L371.0,432.6L371.3,460.1L371.5,417.1L371.8,418.7L372.1,435.0L372.3,431.0L372.6,419.5L372.9,435.7L373.1,419.0L373.4,428.2L373.6,470.0L373.9,427.3L374.2,436.4L374.4,441.3L374.7,418.9L374.9,434.7L375.2,417.1L375.5,409.2L375.7,423.1L376.0,456.3L376.3,440.1L376.5,412.3L376.8,430.9L377.0,442.0L377.3,427.8L377.6,418.7L377.8,422.3L378.1,416.8L378.3,443.0L378.6,432.1L378.9,431.7L379.1,427.2L379.4,468.9L379.6,431.7L379.9,454.0L380.2,406.8L380.4,404.5L380.7,402.7L381.0,415.6L381.2,437.4L381.5,413.6L381.7,431.9L382.0,418.9L382.3,446.3L382.5,440.0L382.8,421.3L383.0,402.2L383.3,429.0L383.6,401.4L383.8,401.5L384.1,454.8L384.4,429.5L384.6,448.3L384.9,431.9L385.1,440.1L385.4,430.7L385.7,415.1L385.9,415.6L386.2,425.7L386.4,429.7L386.7,428.0L387.0,428.0L387.2,421.5L387.5,430.0L387.8,422.7L388.0,457.0L388.3,418.6L388.5,404.5L388.8,427.8L389.1,459.6L389.3,410.7L389.6,437.7L389.8,478.4L390.1,435.6L390.4,422.2L390.6,425.6L390.9,412.9L391.2,422.2L391.4,429.7L391.7,472.3L391.9,454.8L392.2,429.2L392.5,421.9L392.7,453.3L393.0,444.9L393.2,425.3L393.5,471.8L393.8,472.7L394.0,437.4L394.3,428.9L394.6,442.8L394.8,480.4L395.1,432.7L395.3,460.7L395.6,423.4L395.9,435.5L396.1,429.4L396.4,423.9L396.6,444.6L396.9,421.3L397.2,415.1L397.4,427.9L397.7,414.0L398.0,447.2L398.2,420.4L398.5,430.3L398.7,455.1L399.0,436.3L399.3,445.8L399.5,446.3L399.8,433.6L400.0,418.9L400.3,441.8L400.6,433.3L400.8,466.0L401.1,433.8L401.4,418.0L401.6,423.3L401.9,428.5L402.1,446.9L402.4,456.4L402.7,438.1L402.9,464.3L403.2,462.2L403.4,422.0L403.7,455.8L404.0,409.1L404.2,466.8L404.5,430.2L404.8,461.6L405.0,434.4L405.3,459.1L405.5,436.6L405.8,440.7L406.1,447.1L406.3,429.7L406.6,414.5L406.8,450.4L407.1,424.3L407.4,436.7L407.6,438.9L407.9,410.1L408.2,484.4L408.4,453.0L408.7,477.1L408.9,445.5L409.2,443.8L409.5,410.7L409.7,433.7L410.0,411.5L410.2,419.3L410.5,448.9L410.8,432.2L411.0,413.9L411.3,437.1L411.5,436.7L411.8,432.3L412.1,472.3L412.3,457.7L412.6,435.2L412.9,432.1L413.1,460.4L413.4,447.8L413.6,443.6L413.9,444.4L414.2,430.4L414.4,439.7L414.7,438.9L414.9,472.0L415.2,464.4L415.5,436.8L415.7,476.3L416.0,437.9L416.3,456.5L416.5,459.9L416.8,432.4L417.0,457.3L417.3,461.3L417.6,457.5L417.8,442.1L418.1,414.5L418.3,489.1L418.6,444.0L418.9,448.9L419.1,428.8L419.4,452.0L419.7,493.8L419.9,423.3L420.2,467.9L420.4,445.8L420.7,474.3L421.0,468.5L421.2,455.7L421.5,431.4L421.7,431.8L422.0,458.3L422.3,437.4L422.5,453.7L422.8,443.9L423.1,443.3L423.3,436.1L423.6,459.6L423.8,449.2L424.1,442.9L424.4,445.0L424.6,464.1L424.9,419.5L425.1,457.1L425.4,435.0L425.7,443.9L425.9,427.9L426.2,495.3L426.5,418.3L426.7,452.5L427.0,474.9L427.2,445.9L427.5,418.8L427.8,440.2L428.0,475.5L428.3,458.8L428.5,427.4L428.8,479.7L429.1,453.0L429.3,455.7L429.6,419.8L429.9,455.9L430.1,428.5L430.4,464.7L430.6,467.6L430.9,433.8L431.2,440.0L431.4,488.3L431.7,440.0L431.9,440.1L432.2,464.2L432.5,447.1L432.7,446.5L433.0,461.8L433.3,464.2L433.5,466.2L433.8,457.5L434.0,481.0L434.3,452.8L434.6,485.0L434.8,450.7L435.1,454.1L435.3,475.3L435.6,438.6L435.9,422.8L436.1,431.3L436.4,483.1L436.7,432.3L436.9,449.5L437.2,454.5L437.4,466.6L437.7,453.7L438.0,431.1L438.2,444.9L438.5,463.2L438.7,469.0L439.0,463.5L439.3,444.7L439.5,424.5L439.8,478.2L440.1,454.8L440.3,463.5L440.6,471.8L440.8,448.5L441.1,446.2L441.4,487.0L441.6,478.7L441.9,436.2L442.1,450.5L442.4,447.3L442.7,467.3L442.9,464.7L443.2,448.7L443.4,467.6L443.7,481.4L444.0,456.8L444.2,442.0L444.5,480.0L444.8,439.8L445.0,445.7L445.3,476.7L445.5,457.4L445.8,458.6L446.1,447.3L446.3,446.9L446.6,487.2L446.8,488.4L447.1,441.3L447.4,456.4L447.6,451.6L447.9,453.0L448.2,433.6L448.4,486.0L448.7,441.1L448.9,477.6L449.2,447.2L449.5,437.3L449.7,490.7L450.0,452.9L450.2,466.1L450.5,466.5L450.8,459.2L451.0,483.9L451.3,482.0L451.6,449.5L451.8,446.5L452.1,473.5L452.3,493.6L452.6,430.3L452.9,442.8L453.1,455.1L453.4,484.5L453.6,474.6L453.9,457.4L454.2,483.4L454.4,435.3L454.7,459.5L455.0,455.4L455.2,485.5L455.5,482.9L455.7,480.3L456.0,457.8L456.3,468.7L456.5,469.4L456.8,457.5L457.0,459.1L457.3,438.6L457.6,467.8L457.8,486.6L458.1,463.8L458.4,439.4L458.6,476.5L458.9,462.9L459.1,472.2L459.4,457.3L459.7,459.8L459.9,483.1L460.2,469.8L460.4,448.9L460.7,446.5L461.0,449.5L461.2,450.6L461.5,472.9L461.8,473.7L462.0,449.9L462.3,492.8L462.5,467.0L462.8,509.0L463.1,474.8L463.3,482.5L463.6,494.3L463.8,456.5L464.1,483.6L464.4,475.1L464.6,472.7L464.9,484.1L465.2,443.3L465.4,478.7L465.7,463.7L465.9,498.1L466.2,478.6L466.5,475.2L466.7,474.9L467.0,481.6L467.2,465.3L467.5,442.1L467.8,471.3L468.0,471.6L468.3,477.7L468.6,437.5L468.8,441.8L469.1,459.4L469.3,457.1L469.6,486.1L469.9,472.9L470.1,465.6L470.4,467.2L470.6,490.1L470.9,488.4L471.2,461.1L471.4,464.5L471.7,520.9L472.0,468.4L472.2,449.0L472.5,486.1L472.7,466.4L473.0,506.0L473.3,456.8L473.5,498.0L473.8,501.5L474.0,478.9L474.3,440.2L474.6,486.3L474.8,502.4L475.1,463.8L475.3,467.8L475.6,444.2L475.9,503.2L476.1,511.3L476.4,480.1L476.7,465.9L476.9,466.4L477.2,454.4L477.4,509.7L477.7,493.3L478.0,476.3L478.2,459.0L478.5,465.1L478.7,483.9L479.0,498.9L479.3,458.7L479.5,457.7L479.8,442.6L480.1,478.5L480.3,446.9L480.6,504.5L480.8,488.0L481.1,491.5L481.4,486.2L481.6,496.7L481.9,488.5L482.1,476.4L482.4,486.4L482.7,464.0L482.9,477.5L483.2,475.5L483.5,450.8L483.7,470.2L484.0,473.0L484.2,476.4L484.5,474.7L484.8,466.3L485.0,496.7L485.3,457.0L485.5,450.0L485.8,457.1L486.1,489.3L486.3,517.5L486.6,488.1L486.9,474.3L487.1,463.1L487.4,482.0L487.7,485.2L488.0,451.9L488.2,494.9L488.5,459.7L488.8,462.5L489.1,512.4L489.4,473.2L489.7,492.7L489.9,503.0L490.2,526.5L490.5,519.3L490.8,471.5L491.1,489.0L491.4,474.1L491.7,506.8L492.0,487.6L492.3,486.5L492.6,519.9L492.9,523.2L493.2,472.1L493.5,477.1L493.9,504.5L494.2,482.8L494.5,468.8L494.8,449.3L495.1,503.9L495.4,469.9L495.8,449.0L496.1,479.4L496.4,456.0L496.8,542.7L497.1,456.5L497.4,481.6L497.8,531.6L498.1,468.1L498.5,463.7L498.8,461.1L499.1,461.4L499.5,482.9L499.8,502.3L500.2,494.7L500.6,483.4L500.9,475.4L501.3,495.7L501.6,481.7L502.0,467.8L502.4,477.2L502.7,451.2L503.1,451.4L503.5,514.7L503.9,499.0L504.2,519.5L504.6,515.7L505.0,474.3L505.4,511.3L505.8,512.9L506.2,491.6L506.6,470.4L507.0,494.2L507.4,494.4L507.8,468.7L508.2,476.4L508.6,476.8L509.0,468.5L509.4,513.4L509.8,481.2L510.2,503.1L510.6,467.6L511.1,471.3L511.5,515.1L511.9,462.6L512.4,518.9L512.8,465.7L513.2,482.3L513.7,511.0L514.1,518.2L514.5,495.2L515.0,487.3L515.4,507.1L515.9,476.9L516.4,527.2L516.8,487.4L517.3,487.2L517.7,541.4L518.2,481.9L518.7,524.2L519.2,554.7L519.6,505.8L520.1,494.7L520.6,472.2L521.1,502.5L521.6,462.6L522.1,463.4L522.6,469.4L523.1,465.6L523.6,482.5L524.1,505.5L524.6,477.6L525.1,472.2L525.6,485.0L526.1,496.9L526.7,536.5L527.2,477.7L527.7,483.5L528.2,529.2L528.8,488.1L529.3,477.4L529.9,493.8L530.4,476.6L531.0,477.2L531.5,535.8L532.1,500.2L532.6,482.3L533.2,474.9L533.8,466.4L534.3,550.4L534.9,493.7L535.5,478.9L536.1,470.1L536.7,462.1L537.2,521.2L537.8,503.9L538.4,525.2L539.0,477.7L539.6,534.1L540.3,471.5L540.9,476.0L541.5,484.0L542.1,561.6L542.7,514.6L543.4,479.7L544.0,538.4L544.6,501.2L545.3,497.0L545.9,477.6L546.6,488.4L547.2,488.6L547.9,508.2L548.5,493.9L549.2,498.6L549.9,481.0L550.5,500.2L551.2,475.7L551.9,550.0L552.6,472.9L553.3,500.3L554.0,474.3L554.7,492.9L555.4,479.3L556.1,467.9L556.8,513.4L557.5,493.2L558.3,500.8L559.0,491.0L559.7,549.4L560.5,501.0L561.2,503.7L561.9,521.7L562.7,501.9L563.4,547.0L564.1,470.1L564.9,487.1L565.6,462.0L566.3,524.9L567.0,534.7L567.8,490.2L568.5,551.6L569.2,491.3L570.0,519.4L570.7,507.1L571.4,490.9L572.2,494.6L572.9,462.4L573.6,484.3L574.4,539.4L575.1,478.1L575.8,541.0L576.6,494.2L577.3,538.1L578.0,524.1L578.8,472.3L579.5,515.1L580.2,518.0L581.0,515.3L581.7,507.0L582.4,470.2L583.2,536.1L583.9,538.1L584.6,485.7L585.4,550.2L586.1,509.0L586.8,476.0L587.5,496.8L588.3,513.0L589.0,520.8L589.7,527.7L590.5,516.9L591.2,494.0L591.9,474.2L592.7,479.2L593.4,516.2L594.1,521.8L594.9,484.2L595.6,558.3L596.3,512.2L597.1,508.4L597.8,534.8L598.5,531.0L599.3,490.7L600.0,553.2L600.7,528.5L601.5,519.6L602.2,495.6L602.9,544.0L603.7,477.7L604.4,508.4L605.1,506.8L605.9,510.3L606.6,520.8L607.3,531.2L608.0,476.8L608.8,493.8L609.5,502.1L610.2,479.7L611.0,522.4L611.7,486.3L612.4,497.9L613.2,528.5L613.9,484.1L614.6,549.0L615.4,486.1L616.1,528.6L616.8,490.5L617.6,473.1L618.3,487.7L619.0,519.3L619.8,500.1L620.5,511.5L621.2,538.6L622.0,536.4L622.7,497.8L623.4,488.5L624.2,558.6L624.9,501.9L625.6,489.2L626.4,496.3L627.1,533.3L627.8,479.8L628.5,540.5L629.3,486.8L630.0,469.8L630.7,568.3L631.5,493.9L632.2,492.9L632.9,494.5L633.7,525.7L634.4,510.5L635.1,547.0L635.9,496.3L636.6,489.1L637.3,522.5L638.1,531.3L638.8,516.1L639.5,500.6L640.3,498.3L641.0,503.8L641.7,498.1L642.5,544.4L643.2,575.9L643.9,488.0L644.7,473.6L645.4,548.1L646.1,522.9L646.9,493.7L647.6,482.0L648.3,487.5L649.0,476.3L649.8,502.5L650.5,491.8L651.2,491.8L652.0,515.3L652.7,477.7L653.4,488.1L654.2,481.8L654.9,513.9L655.6,480.9L656.4,536.2L657.1,492.3L657.8,576.3L658.6,534.8L659.3,486.2L660.0,516.1L660.8,496.3L661.5,555.5L662.2,471.8L663.0,488.8L663.7,502.0L664.4,492.1L665.2,493.7L665.9,474.2L666.6,495.7L667.4,550.6L668.1,509.8L668.8,476.6L669.5,489.4L670.3,515.4L671.0,488.7L671.7,497.6L672.5,488.8L673.2,554.5L673.9,531.4L674.7,487.8L675.4,508.8L676.1,493.4L676.9,465.0L677.6,511.8L678.3,495.5L679.1,520.1L679.8,522.4L680.5,503.9L681.3,550.2L682.0,572.1L682.7,475.4L683.5,504.9L684.2,479.8L684.9,497.7L685.7,497.2L686.4,487.9L687.1,487.1L687.9,541.9L688.6,478.3L689.3,534.2L690.0,496.3L690.8,465.2L691.5,498.9L692.2,470.1L693.0,513.3L693.7,489.0L694.4,499.9L695.2,492.6L695.9,530.4L696.6,532.5L697.4,494.1L698.1,554.2" fill="none" stroke="#8b0000" stroke-width="2.6" stroke-linejoin="round"/><path d="M195.8,548.8l0.8,65.2m0,0l0.7,-41.2m0,0l0.7,-41.1m0,0l0.8,82.3m0,0M202.4,572.8l0.8,0m0,0l0.7,41.2m0,0M205.4,548.8l0.7,65.2m0,0M207.5,614M213.4,548.8l0.7,24m0,0l0.8,41.2m0,0l0.7,-82.3m0,0l0.7,-13.2m0,0l0.8,30.3m0,0l0.7,65.2m0,0l0.7,-41.2m0,0l0.8,41.2m0,0M220.7,572.8l0.8,41.2m0,0l0.7,-65.2m0,0l0.7,24m0,0l0.8,-101.1m0,0l0.7,-51m0,0l0.7,-41.2m0,0l0.8,-62.4m0,0l0.7,-62.2m0,0l0.7,-56.8m0,0l0.7,-33.4m0,0l0.8,-21.2m0,0l0.7,-15.5m0,0l0.7,-10.6m0,0l0.8,-9.4m0,0l0.7,-9.4m0,0l0.7,-5.7m0,0l0.8,-6.7m0,0l0.7,-6m0,0l0.7,-3.6m0,0l0.8,-5.3m0,0l0.7,-4.2m0,0l0.7,-1.3m0,0l0.8,0.7m0,0l0.7,4m0,0l0.7,5.6m0,0l0.8,4.2m0,0l0.7,7.7m0,0l0.7,7.6m0,0l0.8,11.5m0,0l0.8,13.2m0,0l0.8,16m0,0l0.9,20.7m0,0l0.8,16m0,0l0.9,11.8m0,0l0.9,14.7m0,0l1,6.6m0,0l0.9,8.4m0,0l1,7.9m0,0l1.1,3m0,0l1,5.1m0,0l1.1,0.6m0,0l1.1,10.6m0,0l1.1,-0.3m0,0l1.2,5.8m0,0l1.2,0m0,0l1.2,11.9m0,0l1.3,-4.3m0,0l1.3,8.6m0,0l1.4,2.2m0,0l1.3,1.2m0,0l1.5,6.8m0,0l1.4,-2.2m0,0l1.5,12m0,0l1.5,-4.4m0,0l1.4,5.7m0,0l1.5,4.1m0,0l1.4,-2.7m0,0l1.5,5.2m0,0l1.5,4m0,0l1.4,-2.9m0,0l1.5,11.2m0,0l1.5,3.6m0,0l1.4,-2.3m0,0l1.5,9.8m0,0l1.5,-1.5m0,0l1.4,0.4m0,0l1.5,3.1m0,0l1.5,-8.5m0,0l1.4,5m0,0l1.5,0.8m0,0l1.4,3.5m0,0l1.5,4.6m0,0l1.5,-0.5m0,0l1.4,10.9m0,0l1.5,-17m0,0l1.5,12.5m0,0l1.4,-3.7m0,0l1.5,9.7m0,0l1.5,-3.1m0,0l1.4,-6.6m0,0l1.5,1.8m0,0l1.5,6.4m0,0l1.4,1.5m0,0l1.5,12.3m0,0l1.4,-3.7m0,0l1.5,-3m0,0l1.5,0m0,0l1.4,8.7m0,0l1.5,-15.3m0,0l1.5,8.3m0,0l1.4,7.7m0,0l1.5,2.8m0,0l1.5,6.8m0,0l1.4,3.3m0,0l1.5,-14.2m0,0l1.5,8.6m0,0l1.4,3.9m0,0l1.5,-3.2m0,0l1.4,23.7m0,0l1.5,-22.1m0,0l1.5,-0.8m0,0l1.4,-1.5m0,0l1.5,2.3m0,0l1.5,17.6m0,0l1.4,0m0,0l1.5,0m0,0l1.5,-13.4m0,0l1.4,4.4m0,0l1.5,13.5m0,0l1.5,3.6m0,0l1.4,-12.3m0,0l1.5,5.3m0,0l1.4,3.4m0,0l1.5,14.4m0,0l1.5,-15.6m0,0l1.4,6m0,0l1.5,5.3m0,0l1.5,-12.4m0,0l1.4,5.9m0,0l1.5,3.8m0,0l1.5,24.1m0,0l1.4,-45m0,0l1.5,14.7m0,0l1.5,3.6m0,0l1.4,17.5m0,0l1.5,-29.9m0,0l1.4,13.7m0,0l1.5,11.4m0,0l1.5,4.8m0,0l1.4,20m0,0l1.5,-29.4m0,0l1.5,16.6m0,0l1.4,-10.5m0,0l1.5,-1.5m0,0l1.5,-6m0,0l1.4,2.9m0,0l1.5,4.6m0,0l1.4,8.6m0,0l1.5,-13.2m0,0l1.4,19.1m0,0l1.5,-4m0,0l1.4,-16.6m0,0l1.4,14.7m0,0l1.4,22.3m0,0l1.4,-9.9m0,0l1.4,7.2m0,0l1.4,-9.5m0,0l1.3,-20.2m0,0l1.4,18.1m0,0l1.3,-6.1m0,0l1.4,-1.9m0,0l1.3,8m0,0l1.3,17m0,0l1.3,-23.1m0,0l1.3,17.7m0,0l1.3,2.7m0,0l1.3,-16.4m0,0l1.2,16.4m0,0l1.3,-9.9m0,0l1.3,-8.5m0,0l1.2,4.1m0,0l1.2,45.5m0,0l1.3,-36.4m0,0l1.2,-17.1m0,0l1.2,19.6m0,0l1.2,-11.6m0,0l1.2,14.3m0,0l1.2,-9.9m0,0l1.1,21.8m0,0l1.2,-14.6m0,0l1.2,-17.7m0,0l1.1,17.7m0,0l1.2,21.6m0,0l1.1,-31.1m0,0l1.1,20.9m0,0l1.1,-3.1m0,0l1.2,-2.9m0,0l1.1,-7.9m0,0l1.1,-11.2m0,0l1,11.2m0,0l1.1,20.5m0,0l1.1,-27.5m0,0l1.1,24.1m0,0l1,14.9m0,0l1.1,-21.2m0,0l1,6.3m0,0l1.1,-3.2m0,0l1,10.2m0,0l1,-13.3m0,0l1,17.1m0,0l1,-20m0,0l1,6m0,0l1,22.5m0,0l1,-36.4m0,0l1,-0m0,0l1,24.1m0,0l0.9,-10.2m0,0l1,22.5m0,0l0.9,-25.6m0,0l1,-15.5m0,0l0.9,9.9m0,0l1,15.3m0,0l0.9,31.5m0,0l0.9,-20m0,0l0.9,-7.9m0,0l0.9,7.9m0,0l0.9,-18.1m0,0l0.9,-16.3m0,0l0.9,43.5m0,0l0.9,-17m0,0l0.9,-0m0,0l0.8,7.9m0,0l0.9,-11.5m0,0l0.9,37.7m0,0l0.8,-44.3m0,0l0.9,27.2m0,0l0.8,-4.7m0,0l0.8,-19.3m0,0l0.9,-3.2m0,0l0.8,14m0,0l0.8,-3.8m0,0l0.8,-21.6m0,0l0.8,29.5m0,0l0.8,-11.5m0,0l0.8,31.5m0,0l0.8,-10.9m0,0l0.8,-13.2m0,0l0.8,-22.7m0,0l0.7,22.7m0,0l0.8,24.1m0,0l0.8,-10.9m0,0l0.7,-27.2m0,0l0.8,6.6m0,0l0.7,11.5m0,0l0.7,-11.5m0,0l0.8,20.6m0,0l0.7,-13.2m0,0l0.7,-0m0,0l0.8,18.4m0,0l0.7,18.9m0,0l0.7,-51.3m0,0l0.8,10.2m0,0l0.7,-7m0,0l0.7,14.9m0,0l0.8,-29.5m0,0l0.7,38.6m0,0l0.7,5.2m0,0l0.8,-18.4m0,0l0.7,-7.4m0,0l0.7,-3.4m0,0l0.8,-19.5m0,0l0.7,26.5m0,0l0.7,12.3m0,0l0.8,21.8m0,0l0.7,-26.2m0,0l0.7,26.2m0,0l0.8,-11.9m0,0l0.7,-29.2m0,0l0.7,-14.6m0,0l0.8,33.9m0,0l0.7,-12.3m0,0l0.7,17m0,0l0.7,-13.2m0,0l0.8,4.1m0,0l0.7,-14.9m0,0l0.7,-3.2m0,0l0.8,6.6m0,0l0.7,3.6m0,0l0.7,7.9m0,0l0.8,14.3m0,0l0.7,-35.5m0,0l0.7,35.5m0,0l0.8,-5.2m0,0l0.7,24.1m0,0l0.7,-33.2m0,0l0.8,14.3m0,0l0.7,-22.2m0,0l0.7,-10.2m0,0l0.8,44.3m0,0l0.7,-21.8m0,0l0.7,21.8m0,0l0.8,-41.1m0,0l0.7,10.8m0,0l0.7,13.2m0,0l0.8,-9.1m0,0l0.7,4.4m0,0l0.7,-0m0,0l0.8,-12.3m0,0l0.7,-7m0,0l0.7,65.2m0,0l0.7,-30.3m0,0l0.8,-5.7m0,0l0.7,-14.3m0,0l0.7,14.3m0,0l0.8,-29.2m0,0l0.7,19.3m0,0l0.7,-22.5m0,0l0.8,32.4m0,0l0.7,-0m0,0l0.7,-14.3m0,0l0.8,26.2m0,0l0.7,-17.1m0,0l0.7,-20.6m0,0l0.8,7.4m0,0l0.7,37.3m0,0l0.7,-0m0,0l0.8,-33.2m0,0l0.7,-4.1m0,0l0.7,-7.4m0,0l0.8,20.6m0,0l0.7,10.9m0,0l0.7,6.2m0,0l0.8,-11.9m0,0l0.7,-5.2m0,0l0.7,-24m0,0l0.8,7m0,0l0.7,12.3m0,0l0.7,15.6m0,0l0.7,6.2m0,0l0.8,-11.9m0,0l0.7,18.9m0,0l0.7,-24.1m0,0l0.8,-13.2m0,0l0.7,18.4m0,0l0.7,-38.4m0,0l0.8,33.2m0,0l0.7,-4.7m0,0l0.7,21.8m0,0l0.8,-11.9m0,0l0.7,46.8m0,0l0.7,-72.6m0,0l0.8,7.4m0,0l0.7,30.3m0,0l0.7,-26.2m0,0l0.8,14.3m0,0l0.7,-9.9m0,0l0.7,15.6m0,0l0.8,-0m0,0l0.7,-5.7m0,0l0.7,26.8m0,0l0.8,-32m0,0l0.7,-20.6m0,0l0.7,15.9m0,0l0.7,36.7m0,0l0.8,-45.2m0,0l0.7,-3.8m0,0l0.7,34.1m0,0l0.8,-30.3m0,0l0.7,18.4m0,0l0.7,26.8m0,0l0.8,-36.7m0,0l0.7,15.6m0,0l0.7,30.3m0,0l0.8,-41.2m0,0l0.7,-4.7m0,0l0.7,15.6m0,0l0.8,-15.6m0,0l0.7,4.7m0,0l0.7,17.1m0,0l0.8,-0m0,0l0.7,-11.9m0,0l0.7,18.9m0,0l0.8,-37.3m0,0l0.7,-7.4m0,0l0.7,72.6m0,0l0.8,-56.7m0,0l0.7,28.8m0,0l0.7,-48.1m0,0l0.8,14.9m0,0l0.7,33.2m0,0l0.7,-13.2m0,0l0.7,-5.7m0,0l0.8,5.7m0,0l0.7,30.3m0,0l0.7,-36m0,0l0.8,18.9m0,0l0.7,-7m0,0l0.7,-21.8m0,0l0.8,45.9m0,0l0.7,-41.2m0,0l0.7,-33.2m0,0l0.8,57.3m0,0l0.7,-13.2m0,0l0.7,-20m0,0l0.8,14.3m0,0l0.7,5.7m0,0l0.7,13.2m0,0l0.8,-7m0,0l0.7,24.1m0,0l0.7,-9.2m0,0l0.8,-32m0,0l0.7,-20.6m0,0l0.7,31.5m0,0l0.8,-15.6m0,0l0.7,-0m0,0l0.7,4.7m0,0l0.8,24.1m0,0l0.7,-28.8m0,0l0.7,21.8m0,0l0.7,-26.2m0,0l0.8,20m0,0l0.7,-5.7m0,0l0.7,26.8m0,0l0.8,-21.1m0,0l0.7,30.3m0,0l0.7,-36m0,0l0.8,36m0,0l0.7,-17.1m0,0l0.7,-7m0,0l0.8,-17.1m0,0l0.7,10.9m0,0l0.7,41.1m0,0l0.8,-90.6m0,0l0.7,33.9m0,0l0.7,28.8m0,0l0.8,-24.1m0,0l0.7,24.1m0,0l0.7,-48.1m0,0l0.8,48.1m0,0l0.7,-33.2m0,0l0.7,26.2m0,0l0.8,-6.2m0,0l0.7,30.3m0,0l0.7,10.8m0,0l0.8,-41.1m0,0l0.7,-0m0,0l0.7,-34.9m0,0l0.7,29.2m0,0l0.8,46.8m0,0l0.7,-46.8m0,0l0.7,-9.9m0,0l0.8,45.9m0,0l0.7,-17.1m0,0l0.7,-0m0,0l0.8,-7m0,0l0.7,-0m0,0l0.7,-21.8m0,0l0.8,36.7m0,0l0.7,-21.1m0,0l0.7,6.2m0,0l0.8,-11.9m0,0l0.7,-0m0,0l0.7,36m0,0l0.8,-61.8m0,0l0.7,72.6m0,0l0.7,-61.1m0,0l0.8,41.1m0,0l0.7,-26.8m0,0l0.7,18.9m0,0l0.8,-7m0,0l0.7,-21.8m0,0l0.7,21.8m0,0l0.8,-11.9m0,0l0.7,46.8m0,0l0.7,-10.8m0,0l0.7,-45.9m0,0l0.8,21.8m0,0l0.7,24.1m0,0l0.7,-50.3m0,0l0.8,9.1m0,0l0.7,65.2m0,0l0.7,-54.3m0,0l0.8,-0m0,0l0.7,21.1m0,0l0.7,-7.9m0,0l0.8,7.9m0,0l0.7,-14.9m0,0l0.7,-30.3m0,0l0.8,8.5m0,0l0.7,9.9m0,0l0.7,18.9m0,0l0.8,-13.2m0,0l0.7,54.3m0,0l0.7,-48.1m0,0l0.8,34.9m0,0l0.7,-27.9m0,0l0.7,27.9m0,0l0.8,-10.8m0,0l0.7,-54.4m0,0l0.7,24.1m0,0l0.8,-10.9m0,0l0.7,32m0,0l0.7,-7.9m0,0l0.7,-24.1m0,0l0.8,17.1m0,0l0.7,-21.8m0,0l0.7,28.8m0,0l0.8,-24.1m0,0l0.7,10.9m0,0l0.7,-0m0,0l0.8,21.1m0,0l0.7,-7.9m0,0l0.7,17.1m0,0l0.8,10.8m0,0l0.7,-34.9m0,0l0.7,-26.2m0,0l0.8,9.1m0,0l0.7,10.9m0,0l0.7,41.1m0,0l0.8,-34.9m0,0l0.7,-0m0,0l0.7,14.9m0,0l0.8,33.2m0,0l0.7,-54.3m0,0l0.7,13.2m0,0l0.8,-13.2m0,0l0.7,30.3m0,0l0.7,-9.2m0,0l0.8,-14.9m0,0l0.7,34.9m0,0l0.7,-46.8m0,0l0.7,11.9m0,0l0.8,7m0,0l0.7,-24.1m0,0l0.7,-4.7m0,0l0.8,21.8m0,0l0.7,34.9m0,0l0.7,-41.1m0,0l0.8,-10.9m0,0l0.7,24.1m0,0l0.7,-37.3m0,0l0.8,18.4m0,0l0.7,46.8m0,0l0.7,-27.9m0,0l0.8,17.1m0,0l0.7,-50.3m0,0l0.7,50.3m0,0l0.8,-9.2m0,0l0.7,33.2m0,0l0.7,-24m0,0l0.8,-30.3m0,0l0.7,13.2m0,0l0.7,-7m0,0l0.8,-0m0,0l0.7,-17.1m0,0l0.7,5.2m0,0l0.8,26.8m0,0l0.7,-7.9m0,0l0.7,-33.2m0,0l0.7,50.3m0,0l0.8,65.1m0,0l0.7,-89.2m0,0l0.7,-17.1m0,0l0.8,32m0,0l0.7,-21.1m0,0l0.7,30.3m0,0l0.8,-17.1m0,0l0.7,27.9m0,0l0.7,-34.9m0,0l0.8,-17.1m0,0l0.7,24.1m0,0l0.7,-28.8m0,0l0.8,9.9m0,0l0.7,18.9m0,0l0.7,41.1m0,0l0.8,-0m0,0l0.7,-24m0,0l0.7,-17.1m0,0l0.8,-13.2m0,0l0.7,13.2m0,0l0.7,-13.2m0,0l0.8,41.1m0,0l0.7,-46.8m0,0l0.7,-22.2m0,0l0.8,34.1m0,0l0.7,-11.9m0,0l0.7,-14.3m0,0l0.7,26.2m0,0l0.8,34.9m0,0l0.7,-41.1m0,0l0.7,13.2m0,0l0.8,7.9m0,0l0.7,-0m0,0l0.7,-14.9m0,0l0.8,24.1m0,0l0.7,-17.1m0,0l0.7,-24.1m0,0l0.8,10.9m0,0l0.7,21.1m0,0l0.7,-32m0,0l0.8,10.9m0,0l0.7,13.2m0,0l0.7,58.2m0,0l0.8,-65.2m0,0l0.7,24.1m0,0l0.7,-17.1m0,0l0.8,-7m0,0l0.7,-11.9m0,0l0.7,5.7m0,0l0.8,-15.6m0,0l0.7,36.7m0,0l0.7,50.3m0,0l0.8,-65.2m0,0l0.7,24.1m0,0l0.7,-0m0,0l0.7,-30.3m0,0l0.8,-15.6m0,0l0.7,45.9m0,0l0.7,-17.1m0,0l0.8,-7m0,0l0.7,14.9m0,0l0.7,9.2m0,0l0.8,-41.2m0,0l0.7,52m0,0l0.7,-34.9m0,0l0.8,-0m0,0l0.7,34.9m0,0l0.7,-34.9m0,0l0.8,-11.9m0,0l0.7,18.9m0,0l0.7,-13.2m0,0l0.8,21.1m0,0l0.7,-0m0,0l0.7,9.2m0,0l0.8,-41.2m0,0l0.7,10.9m0,0l0.7,-15.6m0,0l0.8,69.9m0,0l0.7,-41.1m0,0l0.7,-13.2m0,0l0.7,30.3m0,0l0.8,10.8m0,0l0.7,-27.9m0,0l0.7,-18.9m0,0l0.8,26.8m0,0l0.7,33.2m0,0l0.7,-48.1m0,0l0.8,14.9m0,0l0.7,9.2m0,0l0.7,10.8m0,0l0.8,-41.1m0,0l0.7,6.2m0,0l0.7,-11.9m0,0l0.8,18.9m0,0l0.7,-44.7m0,0l0.7,61.8m0,0l0.8,-9.2m0,0l0.7,9.2m0,0l0.7,-41.2m0,0l0.8,65.2m0,0l0.7,-65.2m0,0l0.7,17.1m0,0l0.8,-0m0,0l0.7,7m0,0l0.7,-18.9m0,0l0.8,-0m0,0l0.7,26.8m0,0l0.7,-21.1m0,0l0.7,13.2m0,0l0.8,41.1m0,0l0.7,-24m0,0l0.7,-45.9m0,0l0.8,21.8m0,0l0.7,-6.2m0,0l0.7,30.3m0,0l0.8,-17.1m0,0l0.7,7.9m0,0l0.7,50.3m0,0l0.8,-77.1m0,0l0.7,36m0,0l0.7,-17.1m0,0l0.8,-7m0,0l0.7,-17.1m0,0l0.7,52m0,0l0.8,-69m0,0l0.7,34.1m0,0l0.7,14.9m0,0l0.8,-7.9m0,0l0.7,41.1m0,0l0.7,-24m0,0l0.8,-0m0,0l0.7,-36m0,0l0.7,11.9m0,0l0.8,-17.1m0,0l0.7,10.9m0,0l0.7,-5.7m0,0l0.7,77.1m0,0l0.8,-71.4m0,0l0.7,41.1m0,0l0.7,-10.8m0,0l0.8,-24.1m0,0l0.7,14.9m0,0l0.7,-7.9m0,0l0.8,-48.1m0,0l0.7,48.1m0,0l0.7,-13.2m0,0l0.8,6.2m0,0l0.7,-11.9m0,0l0.7,60m0,0l0.8,-33.2m0,0l0.7,-49m0,0l0.7,58.2m0,0l0.8,-30.3m0,0l0.7,13.2m0,0l0.7,17.1m0,0l0.8,-36m0,0l0.7,18.9m0,0l0.7,-7m0,0l0.8,65.2m0,0l0.7,-50.3m0,0l0.7,-45.2m0,0l0.8,65.2m0,0l0.7,-10.8m0,0l0.7,-24.1m0,0l0.7,-6.2m0,0l0.8,71.4m0,0l0.7,-58.2m0,0l0.7,-18.9m0,0l0.8,5.7m0,0l0.7,-15.6m0,0l0.7,21.8m0,0l0.8,34.9m0,0l0.7,-20m0,0l0.7,9.2m0,0l0.8,-17.1m0,0l0.7,-13.2m0,0l0.7,-15.6m0,0l0.8,56.7m0,0l0.7,-27.9m0,0l0.7,17.1m0,0l0.8,-9.2m0,0l0.7,33.2m0,0l0.7,-48.1m0,0l0.8,-11.9m0,0l0.7,11.9m0,0l0.7,-0m0,0l0.8,34.9m0,0l0.7,-10.8m0,0l0.7,-36m0,0l0.8,-14.3m0,0l0.7,74.3m0,0l0.7,-33.2m0,0l0.7,-21.1m0,0l0.8,13.2m0,0l0.7,-0m0,0l0.7,-28.8m0,0l0.8,87m0,0l0.7,-58.2m0,0l0.7,7.9m0,0l0.8,-14.9m0,0l0.7,-0m0,0l0.7,-17.1m0,0l0.8,41.2m0,0l0.7,-0m0,0l0.7,-30.3m0,0l0.8,30.3m0,0l0.7,-9.2m0,0l0.7,-32m0,0l0.8,24.1m0,0l0.7,-18.9m0,0l0.7,5.7m0,0l0.8,54.3m0,0l0.7,-48.1m0,0l0.7,34.9m0,0l0.8,-27.9m0,0l0.7,7.9m0,0l0.7,-36.7m0,0l0.8,15.6m0,0l0.7,41.1m0,0l0.7,-20m0,0l0.7,-14.9m0,0l0.8,-0m0,0l0.7,48.1m0,0l0.7,-60m0,0l0.8,18.9m0,0l0.7,-7m0,0l0.7,-0m0,0l0.8,7m0,0l0.7,7.9m0,0l0.7,33.2m0,0l0.8,-24m0,0l0.7,-9.2m0,0l0.7,-32m0,0l0.8,-0m0,0l0.7,10.9m0,0l0.7,21.1m0,0l0.8,9.2m0,0l0.7,-24.1m0,0l0.7,34.9m0,0l0.8,-20m0,0l0.7,-14.9m0,0l0.7,65.2m0,0l0.8,-77.1m0,0l0.7,-5.2m0,0l0.7,-0m0,0l0.8,-0m0,0l0.7,24.1m0,0l0.7,-7m0,0l0.7,34.9m0,0l0.8,-52m0,0l0.7,32m0,0l0.7,-7.9m0,0l0.8,17.1m0,0l0.7,-30.3m0,0l0.7,41.1m0,0l0.8,-46.8m0,0l0.7,18.9m0,0l0.7,7.9m0,0l0.8,20m0,0l0.7,-27.9m0,0l0.7,27.9m0,0l0.8,-34.9m0,0l0.7,-34.1m0,0l0.7,58.2m0,0l0.8,-30.3m0,0l0.7,54.3m0,0l0.7,-24m0,0l0.8,-24.1m0,0l0.7,14.9m0,0l0.7,-0m0,0l0.8,-32m0,0l0.7,24.1m0,0l0.7,-18.9m0,0l0.8,36m0,0l0.7,-30.3m0,0l0.7,30.3m0,0l0.7,-0m0,0l0.8,-9.2m0,0l0.7,-14.9m0,0l0.7,7m0,0l0.8,-13.2m0,0l0.7,-24.1m0,0l0.7,30.3m0,0l0.8,-11.9m0,0l0.7,60m0,0l0.7,-33.2m0,0l0.8,-21.1m0,0l0.7,13.2m0,0l0.7,-7m0,0l0.8,-17.1m0,0l0.7,-4.7m0,0l0.7,56.7m0,0l0.8,-27.9m0,0l0.7,17.1m0,0l0.7,24m0,0l0.8,-69.9m0,0l0.7,9.9m0,0l0.7,46.8m0,0l0.8,-10.8m0,0l0.7,-24.1m0,0l0.7,-0m0,0l0.8,-6.2m0,0l0.7,21.1m0,0l0.7,-7.9m0,0l0.7,41.1m0,0l0.8,-48.1m0,0l0.7,24.1m0,0l0.7,-17.1m0,0l0.8,-13.2m0,0l0.7,41.1m0,0l0.7,-52m0,0l0.8,32m0,0l0.7,-32m0,0l0.7,82.3m0,0l0.8,-50.3m0,0l0.7,-21.1m0,0l0.7,13.2m0,0l0.8,41.1m0,0l0.7,-78.4m0,0l0.7,65.2m0,0l0.8,-20m0,0l0.7,-0m0,0l0.7,-0m0,0l0.8,-14.9m0,0l0.7,-17.1m0,0l0.7,10.9m0,0l0.8,6.2m0,0l0.7,24.1m0,0l0.7,-17.1m0,0l0.8,41.1m0,0l0.7,-13.2m0,0l0.7,-20m0,0l0.7,-26.8m0,0l0.8,-5.2m0,0l0.7,17.1m0,0l0.7,-17.1m0,0l0.8,5.2m0,0l0.7,5.7m0,0l0.7,21.1m0,0l0.8,-14.9m0,0l0.7,7m0,0l0.7,17.1m0,0l0.8,-0m0,0l0.7,24m0,0l0.7,-41.1m0,0l0.8,7.9m0,0l0.7,-45.2m0,0l0.7,18.4m0,0l0.8,46.8m0,0l0.7,-34.9m0,0l0.7,24.1m0,0l0.8,10.8m0,0" fill="none" stroke="#808000" stroke-width="4.2" stroke-dasharray="1.6 8.4" stroke-linecap="round" stroke-linejoin="round"/><path d="M199.0,706.7L199.4,697.7L199.8,710.0L200.2,699.0L200.6,672.4L201.1,675.2L201.5,685.9L201.9,659.8L202.3,684.3L202.7,711.3L203.2,727.7L203.6,700.9L204.0,684.1L204.4,671.3L204.8,653.4L205.2,690.9L205.7,694.6L206.1,655.3L206.5,643.9L206.9,681.5L207.3,660.3L207.8,633.8L208.2,657.1L208.6,664.3L209.0,710.7L209.4,627.9L209.8,642.3L210.3,652.9L210.7,665.1L211.1,682.0L211.5,652.9L211.9,651.3L212.4,620.8L212.8,674.0L213.2,609.1L213.6,640.8L214.0,611.6L214.4,661.1L214.9,628.0L215.3,605.5L215.7,630.0L216.1,665.9L216.5,637.0L217.0,614.6L217.4,658.9L217.8,658.2L218.2,616.4L218.6,642.9L219.1,642.9L219.5,643.3L219.9,643.6L220.1,641.5L220.5,626.8L220.9,604.8L221.4,582.9L221.8,566.1L222.2,550.8L222.6,535.5L223.0,519.1L223.4,500.2L223.9,476.9L224.3,446.3L224.7,411.6L225.1,376.6L225.5,340.8L226.0,303.7L226.4,269.9L226.8,238.2L227.2,207.3L227.6,180.9L228.0,162.5L228.5,150.5L228.9,140.5L229.3,132.3L229.7,125.3L230.1,119.1L230.6,113.4L231.0,108.1L231.4,103.3L231.8,98.8L232.2,94.8L232.6,91.1L233.1,87.7L233.5,84.6L233.9,81.5L234.3,78.3L234.7,75.2L235.2,72.3L235.6,69.8L236.0,67.8L236.4,66.4L236.8,65.8L237.3,66.0L237.7,67.1L238.1,68.9L238.5,71.4L238.9,74.3L239.3,77.5L239.8,80.9L240.2,84.5L240.6,88.3L241.0,93.0L241.4,98.4L241.9,104.5L242.3,111.1L242.7,118.0L243.1,126.1L243.5,135.3L243.9,144.9L244.4,154.2L244.8,162.5L245.2,169.8L245.6,176.9L246.0,183.3L246.5,189.1L246.9,194.1L247.3,198.8L247.7,203.2L248.1,207.2L248.5,210.8L249.0,213.9L249.4,216.5L249.8,218.8L250.2,220.8L250.6,222.7L251.1,224.4L251.5,226.1L251.9,227.9L252.3,229.7L252.7,231.5L253.1,233.4L253.6,235.2L254.0,237.1L254.4,238.9L254.8,240.7L255.2,242.4L255.7,244.1L256.1,245.7L256.5,247.3L256.9,248.8L257.3,250.2L257.7,251.5L258.2,252.8L258.6,254.0L259.0,255.2L259.4,256.4L259.8,257.5L260.3,258.6L260.7,259.7L261.1,260.8L261.5,261.8L261.9,262.8L262.4,263.8L262.8,264.8L263.2,265.8L263.6,266.7L264.0,267.6L264.4,268.6L264.9,269.5L265.3,270.4L265.7,271.4L266.1,272.3L266.5,273.2L267.0,274.2L267.4,275.1L267.8,276.0L268.2,276.9L268.6,277.8L269.0,278.8L269.5,279.8L269.9,280.7L270.3,281.6L270.7,282.6L271.1,283.5L271.6,284.5L272.0,285.5L272.4,286.4L272.8,287.4L273.2,288.3L273.6,289.3L274.1,290.1L274.5,290.9L274.9,291.8L275.3,292.7L275.7,293.6L276.2,294.2L276.6,295.0L277.0,295.8L277.4,296.8L277.8,297.5L278.2,298.2L278.7,298.9L279.1,299.7L279.5,300.4L279.9,300.9L280.3,301.4L280.8,302.3L281.2,303.2L281.6,304.3L282.0,304.5L282.4,304.6L282.9,304.5L283.3,305.1L283.7,305.6L284.1,306.4L284.5,307.0L284.9,308.0L285.4,308.7L285.8,309.3L286.2,309.3L286.6,309.2L287.0,309.6L287.5,310.2L287.9,311.0L288.3,311.5L288.7,312.5L289.1,313.2L289.5,313.8L290.0,313.9L290.4,314.2L290.8,314.3L291.2,314.6L291.6,314.9L292.1,315.5L292.5,315.6L292.9,316.7L293.3,316.8L293.7,317.3L294.1,317.5L294.6,318.4L295.0,318.7L295.4,319.1L295.8,318.7L296.2,319.1L296.7,319.2L297.1,319.9L297.5,320.2L297.9,320.5L298.3,321.2L298.7,321.9L299.2,322.3L299.6,322.2L300.0,322.6L300.4,323.3L300.8,323.9L301.3,324.7L301.7,325.7L302.1,325.6L302.5,325.9L302.9,325.7L303.4,327.1L303.8,327.2L304.2,328.1L304.6,326.6L305.0,327.5L305.4,328.0L305.9,329.3L306.3,328.7L306.7,329.6L307.1,330.3L307.5,330.9L308.0,330.9L308.4,331.1L308.8,332.1L309.2,332.4L309.6,333.3L310.0,333.7L310.5,334.4L310.9,333.5L311.3,333.9L311.7,334.0L312.1,335.1L312.6,335.4L313.0,334.7L313.4,335.7L313.8,336.0L314.2,337.0L314.6,337.2L315.1,338.0L315.5,338.5L315.9,338.1L316.3,338.8L316.7,339.5L317.2,341.1L317.6,340.8L318.0,340.8L318.4,340.5L318.8,342.0L319.2,342.5L319.7,343.6L320.1,343.5L320.5,344.0L320.9,345.5L321.3,345.6L321.8,346.1L322.2,346.2L322.6,346.9L323.0,346.4L323.4,346.2L323.9,346.2L324.3,347.8L324.7,348.5L325.1,349.9L325.5,350.5L325.9,349.5L326.4,348.8L326.8,349.4L327.2,350.1L327.6,351.1L328.0,351.5L328.5,352.3L328.9,353.3L329.3,354.3L329.7,354.1L330.1,355.2L330.5,354.1L331.0,356.5L331.4,355.6L331.8,356.6L332.2,356.2L332.6,358.1L333.1,358.4L333.5,358.5L333.9,358.0L334.3,358.4L334.7,358.1L335.1,358.4L335.6,358.5L336.0,360.4L336.4,360.0L336.8,360.2L337.2,358.1L337.7,358.1L338.1,358.6L338.5,359.7L338.9,361.4L339.3,361.4L339.7,363.1L340.2,363.2L340.6,363.5L341.0,363.4L341.4,362.4L341.8,364.5L342.3,364.9L342.7,366.5L343.1,366.1L343.5,367.9L343.9,367.3L344.4,367.3L344.8,367.0L345.2,368.9L345.6,370.0L346.0,368.8L346.4,368.2L346.9,368.2L347.3,369.2L347.7,369.4L348.1,369.4L348.5,369.5L349.0,369.7L349.4,369.5L349.8,371.2L350.2,371.7L350.6,372.8L351.0,372.3L351.5,372.6L351.9,373.1L352.3,373.8L352.7,373.4L353.1,373.6L353.6,374.5L354.0,375.1L354.4,374.3L354.8,374.0L355.2,374.6L355.6,376.1L356.1,376.4L356.5,376.0L356.9,375.2L357.3,375.2L357.7,376.4L358.2,378.4L358.6,378.5L359.0,378.3L359.4,376.8L359.8,375.9L360.2,376.2L360.7,376.6L361.1,379.0L361.5,378.7L361.9,379.0L362.3,377.6L362.8,378.3L363.2,378.8L363.6,379.0L364.0,380.2L364.4,380.3L364.9,380.9L365.3,381.2L365.7,382.7L366.1,383.4L366.5,383.0L366.9,382.1L367.4,382.2L367.8,383.1L368.2,383.5L368.6,383.5L369.0,383.4L369.5,384.1L369.9,385.9L370.3,385.4L370.7,384.1L371.1,384.5L371.5,384.8L372.0,385.8L372.4,385.5L372.8,386.5L373.2,388.1L373.6,388.5L374.1,388.4L374.5,387.5L374.9,387.2L375.3,386.9L375.7,387.5L376.1,388.6L376.6,388.5L377.0,388.1L377.4,388.0L377.8,388.1L378.2,388.8L378.7,388.5L379.1,388.6L379.5,390.9L379.9,392.3L380.3,393.4L380.7,392.1L381.2,391.9L381.6,391.7L382.0,391.4L382.4,391.9L382.8,393.6L383.3,393.6L383.7,391.8L384.1,393.0L384.5,393.7L384.9,395.4L385.3,395.5L385.8,396.0L386.2,397.1L386.6,396.5L387.0,395.6L387.4,394.4L387.9,393.8L388.3,394.7L388.7,395.1L389.1,395.2L389.5,396.6L390.0,397.4L390.4,397.7L390.8,397.7L391.2,398.0L391.6,398.0L392.0,396.7L392.5,397.1L392.9,398.7L393.3,399.6L393.7,399.2L394.1,399.4L394.6,399.6L395.0,399.7L395.4,399.4L395.8,398.1L396.2,397.8L396.6,397.5L397.1,399.1L397.5,398.2L397.9,398.3L398.3,399.7L398.7,401.7L399.2,402.6L399.6,402.8L400.0,403.1L400.4,403.2L400.8,403.1L401.2,403.8L401.7,403.7L402.1,404.9L402.5,404.3L402.9,405.1L403.3,404.0L403.8,406.4L404.2,405.5L404.6,407.1L405.0,406.3L405.4,407.2L405.8,406.7L406.3,406.6L406.7,408.8L407.1,408.9L407.5,408.7L407.9,406.9L408.4,407.1L408.8,407.3L409.2,407.7L409.6,408.1L410.0,409.0L410.5,408.2L410.9,408.5L411.3,407.4L411.7,408.9L412.1,407.5L412.5,409.0L413.0,408.9L413.4,409.8L413.8,409.8L414.2,410.1L414.6,411.0L415.1,411.1L415.5,411.8L415.9,410.9L416.3,411.1L416.7,412.0L417.1,413.0L417.6,413.1L418.0,413.0L418.4,412.0L418.8,411.9L419.2,410.9L419.7,412.5L420.1,413.2L420.5,413.2L420.9,413.9L421.3,413.5L421.7,414.3L422.2,413.9L422.6,414.2L423.0,415.2L423.4,414.9L423.8,415.9L424.3,416.3L424.7,415.6L425.1,415.5L425.5,416.2L425.9,416.7L426.3,416.9L426.8,418.0L427.2,418.9L427.6,417.9L428.0,415.4L428.4,414.4L428.9,415.3L429.3,415.3L429.7,417.3L430.1,417.3L430.5,416.9L431.0,416.0L431.4,416.2L431.8,418.8L432.2,419.5L432.6,420.7L433.0,419.0L433.5,419.4L433.9,418.5L434.3,419.9L434.7,418.3L435.1,419.5L435.6,418.9L436.0,418.6L436.4,417.9L436.8,418.8L437.2,420.3L437.6,420.0L438.1,419.0L438.5,421.0L438.9,421.7L439.3,423.9L439.7,421.5L440.2,421.8L440.6,420.9L441.0,421.9L441.4,421.9L441.8,422.6L442.2,422.1L442.7,422.9L443.1,423.5L443.5,423.9L443.9,422.9L444.3,421.1L444.8,421.9L445.2,423.8L445.6,424.3L446.0,423.6L446.4,422.7L446.8,422.5L447.3,424.6L447.7,424.7L448.1,425.4L448.5,426.1L448.9,428.2L449.4,429.6L449.8,428.8L450.2,427.7L450.6,427.6L451.0,428.0L451.5,428.6L451.9,428.7L452.3,428.5L452.7,428.4L453.1,428.7L453.5,429.2L454.0,430.2L454.4,429.9L454.8,430.7L455.2,429.5L455.6,430.4L456.1,430.1L456.5,432.0L456.9,432.5L457.3,432.9L457.7,432.6L458.1,433.1L458.6,434.3L459.0,434.5L459.4,434.3L459.8,433.4L460.2,432.8L460.7,433.4L461.1,435.4L461.5,436.6L461.9,437.9L462.3,437.7L462.7,437.2L463.2,435.8L463.6,435.6L464.0,437.0L464.4,437.7L464.8,438.7L465.3,438.2L465.7,438.6L466.1,436.3L466.5,437.6L466.9,436.9L467.3,438.9L467.8,437.7L468.2,439.3L468.6,438.5L469.0,439.7L469.4,439.9L469.9,440.7L470.3,440.2L470.7,439.6L471.1,438.6L471.5,438.5L472.0,440.8L472.4,442.4L472.8,444.5L473.2,443.1L473.6,442.6L474.0,442.3L474.5,443.0L474.9,443.5L475.3,442.9L475.7,441.1L476.1,441.2L476.6,440.7L477.0,440.8L477.4,441.5L477.8,442.0L478.2,443.4" fill="none" stroke="#3a6aa8" stroke-width="3.3" stroke-linejoin="round"/></g><rect x="758.2" y="21.5" width="211.4" height="365.4" fill="#fff" stroke="#555" stroke-width="1.6"/><path d="M88.11,20.67 H977.12 V673.30 H88.11 Z" fill="none" stroke="#000" stroke-width="2.7" stroke-linejoin="round"/><path d="M140.40,673.30v14 M244.99,673.30v7 M349.58,673.30v14 M454.17,673.30v7 M558.76,673.30v14 M663.35,673.30v7 M767.94,673.30v14 M872.53,673.30v7 M977.12,673.30v14 M88.11,673.30h-7 M88.11,613.97h-14 M88.11,554.64h-7 M88.11,495.31h-14 M88.11,435.98h-7 M88.11,376.65h-14 M88.11,317.32h-7 M88.11,257.99h-14 M88.11,198.66h-7 M88.11,139.33h-14 M88.11,80.00h-7 M88.11,20.67h-14" stroke="#000" stroke-width="2.6" fill="none"/><text transform="translate(140.40,718.6) scale(0.93,1)" font-size="30" text-anchor="middle" font-family="Liberation Sans, sans-serif">0</text><text transform="translate(349.58,718.6) scale(0.93,1)" font-size="30" text-anchor="middle" font-family="Liberation Sans, sans-serif">20</text><text transform="translate(558.76,718.6) scale(0.93,1)" font-size="30" text-anchor="middle" font-family="Liberation Sans, sans-serif">40</text><text transform="translate(767.94,718.6) scale(0.93,1)" font-size="30" text-anchor="middle" font-family="Liberation Sans, sans-serif">60</text><text transform="translate(977.12,718.6) scale(0.93,1)" font-size="30" text-anchor="middle" font-family="Liberation Sans, sans-serif">80</text><text transform="translate(65.6,622.67) scale(0.93,1)" font-size="30" text-anchor="end" font-family="Liberation Sans, sans-serif">0</text><text transform="translate(65.6,504.01) scale(0.93,1)" font-size="30" text-anchor="end" font-family="Liberation Sans, sans-serif">2</text><text transform="translate(65.6,385.35) scale(0.93,1)" font-size="30" text-anchor="end" font-family="Liberation Sans, sans-serif">4</text><text transform="translate(65.6,266.69) scale(0.93,1)" font-size="30" text-anchor="end" font-family="Liberation Sans, sans-serif">6</text><text transform="translate(65.6,148.03) scale(0.93,1)" font-size="30" text-anchor="end" font-family="Liberation Sans, sans-serif">8</text><text transform="translate(65.6,29.37) scale(0.93,1)" font-size="30" text-anchor="end" font-family="Liberation Sans, sans-serif">10</text><text x="533" y="774.4" font-size="35" font-weight="bold" text-anchor="middle" font-family="Liberation Sans, sans-serif">Time (ns)</text><text transform="translate(29.8,394) rotate(-90)" x="0" y="0" font-size="35" font-weight="bold" text-anchor="middle" font-family="Liberation Sans, sans-serif">Intensity (a.u.)</text><text x="832.6" y="661" font-size="35" font-weight="bold" font-family="Liberation Sans, sans-serif">ZnS QD</text><path d="M771.9,61.00H836" stroke="#000" stroke-width="3.4" stroke-dasharray="2.2 17.1" stroke-linecap="round"/><text x="842.5" y="70.30" font-size="27" font-weight="bold" font-family="Liberation Sans, sans-serif">prompt</text><path d="M771.9,95.60H836" stroke="#ff00ff" stroke-width="3.4" stroke-dasharray="2.2 17.1" stroke-linecap="round"/><text x="842.5" y="104.90" font-size="27" font-weight="bold" font-family="Liberation Sans, sans-serif">Decay</text><path d="M770.4,130.20H835.8" stroke="#008000" stroke-width="3.2"/><text x="842.5" y="139.50" font-size="27" font-weight="bold" font-family="Liberation Sans, sans-serif">12 hrs Fit</text><path d="M771.9,164.80H836" stroke="#000080" stroke-width="3.4" stroke-dasharray="2.2 17.1" stroke-linecap="round"/><text x="842.5" y="174.10" font-size="27" font-weight="bold" font-family="Liberation Sans, sans-serif">Decay</text><path d="M770.4,199.40H835.8" stroke="#7a10b8" stroke-width="2.6"/><text x="842.5" y="208.70" font-size="27" font-weight="bold" font-family="Liberation Sans, sans-serif">24 hrs Fit</text><path d="M771.9,234.00H836" stroke="#800080" stroke-width="3.4" stroke-dasharray="2.2 17.1" stroke-linecap="round"/><text x="842.5" y="243.30" font-size="27" font-weight="bold" font-family="Liberation Sans, sans-serif">Decay</text><path d="M770.4,268.60H835.8" stroke="#800000" stroke-width="2.6"/><text x="842.5" y="277.90" font-size="27" font-weight="bold" font-family="Liberation Sans, sans-serif">36 hrs Fit</text><path d="M771.9,303.20H836" stroke="#808000" stroke-width="3.4" stroke-dasharray="2.2 17.1" stroke-linecap="round"/><text x="842.5" y="312.50" font-size="27" font-weight="bold" font-family="Liberation Sans, sans-serif">Decay</text><path d="M770.4,337.80H835.8" stroke="#3a6ab0" stroke-width="2.6"/><text x="842.5" y="347.10" font-size="27" font-weight="bold" font-family="Liberation Sans, sans-serif">48 hrs Fit</text></svg></body></html>
